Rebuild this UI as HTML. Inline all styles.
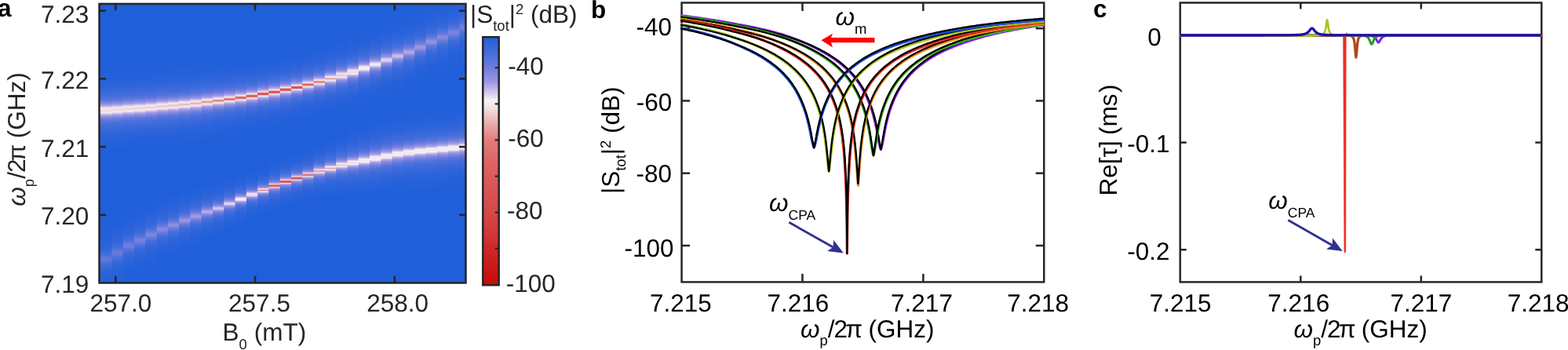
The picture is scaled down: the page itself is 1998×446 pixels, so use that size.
<!DOCTYPE html>
<html><head><meta charset="utf-8"><title>figure</title>
<style>html,body{margin:0;padding:0;background:#fff}svg{display:block}text{text-rendering:geometricPrecision;font-family:"Liberation Sans",sans-serif;white-space:pre}</style>
</head><body>
<svg width="1998" height="446" viewBox="0 0 1998 446">
<defs><linearGradient id="g0" x1="0" y1="0" x2="0" y2="1"><stop offset="0.0000" stop-color="#205fda"/><stop offset="0.2272" stop-color="#205fda"/><stop offset="0.2694" stop-color="#2661da"/><stop offset="0.2975" stop-color="#2d64da"/><stop offset="0.3200" stop-color="#3c6adb"/><stop offset="0.3355" stop-color="#4a6fdb"/><stop offset="0.3481" stop-color="#6379dc"/><stop offset="0.3580" stop-color="#898ce0"/><stop offset="0.3639" stop-color="#a8a1e5"/><stop offset="0.3675" stop-color="#c0b9ea"/><stop offset="0.3709" stop-color="#dcd5f0"/><stop offset="0.3743" stop-color="#f6edf1"/><stop offset="0.3765" stop-color="#f5e4e7"/><stop offset="0.3785" stop-color="#f4dfe1"/><stop offset="0.3802" stop-color="#f3dcde"/><stop offset="0.3819" stop-color="#f3dadc"/><stop offset="0.3836" stop-color="#f3dcde"/><stop offset="0.3853" stop-color="#f4dfe1"/><stop offset="0.3872" stop-color="#f5e4e7"/><stop offset="0.3895" stop-color="#f6edf1"/><stop offset="0.3929" stop-color="#dcd5f0"/><stop offset="0.3962" stop-color="#c0b9ea"/><stop offset="0.3999" stop-color="#a8a1e5"/><stop offset="0.4058" stop-color="#898ce0"/><stop offset="0.4156" stop-color="#6379dc"/><stop offset="0.4283" stop-color="#4a6fdb"/><stop offset="0.4438" stop-color="#3c6adb"/><stop offset="0.4663" stop-color="#2d64da"/><stop offset="0.4944" stop-color="#2661da"/><stop offset="0.5366" stop-color="#205fda"/><stop offset="0.7610" stop-color="#205fda"/><stop offset="0.8031" stop-color="#2160da"/><stop offset="0.8313" stop-color="#2460da"/><stop offset="0.8538" stop-color="#2862da"/><stop offset="0.8692" stop-color="#2d64da"/><stop offset="0.8819" stop-color="#3467db"/><stop offset="0.8917" stop-color="#3d6bdb"/><stop offset="0.8976" stop-color="#456edb"/><stop offset="0.9013" stop-color="#4a70db"/><stop offset="0.9047" stop-color="#5072dc"/><stop offset="0.9080" stop-color="#5875dc"/><stop offset="0.9103" stop-color="#5d77dc"/><stop offset="0.9123" stop-color="#6078dc"/><stop offset="0.9139" stop-color="#6178dc"/><stop offset="0.9156" stop-color="#6278dc"/><stop offset="0.9173" stop-color="#6178dc"/><stop offset="0.9190" stop-color="#6078dc"/><stop offset="0.9210" stop-color="#5d77dc"/><stop offset="0.9232" stop-color="#5875dc"/><stop offset="0.9266" stop-color="#5072dc"/><stop offset="0.9300" stop-color="#4a70db"/><stop offset="0.9336" stop-color="#456edb"/><stop offset="0.9395" stop-color="#3d6bdb"/><stop offset="0.9494" stop-color="#3467db"/><stop offset="0.9620" stop-color="#2d64da"/><stop offset="0.9775" stop-color="#2862da"/><stop offset="1.0000" stop-color="#2460da"/></linearGradient><linearGradient id="g1" x1="0" y1="0" x2="0" y2="1"><stop offset="0.0000" stop-color="#205fda"/><stop offset="0.2250" stop-color="#205fda"/><stop offset="0.2672" stop-color="#2661da"/><stop offset="0.2953" stop-color="#2d64da"/><stop offset="0.3178" stop-color="#3c6adb"/><stop offset="0.3332" stop-color="#4a6fdb"/><stop offset="0.3459" stop-color="#6279dc"/><stop offset="0.3557" stop-color="#898ce0"/><stop offset="0.3616" stop-color="#a7a1e5"/><stop offset="0.3653" stop-color="#c0b9ea"/><stop offset="0.3687" stop-color="#dcd5f0"/><stop offset="0.3720" stop-color="#f6edf1"/><stop offset="0.3743" stop-color="#f5e4e6"/><stop offset="0.3763" stop-color="#f3dddf"/><stop offset="0.3780" stop-color="#f3d9db"/><stop offset="0.3796" stop-color="#f2d7d8"/><stop offset="0.3813" stop-color="#f3d9db"/><stop offset="0.3830" stop-color="#f3dddf"/><stop offset="0.3850" stop-color="#f5e4e6"/><stop offset="0.3872" stop-color="#f6edf1"/><stop offset="0.3906" stop-color="#dcd5f0"/><stop offset="0.3940" stop-color="#c0b9ea"/><stop offset="0.3976" stop-color="#a7a1e5"/><stop offset="0.4035" stop-color="#898ce0"/><stop offset="0.4134" stop-color="#6279dc"/><stop offset="0.4260" stop-color="#4a6fdb"/><stop offset="0.4415" stop-color="#3c6adb"/><stop offset="0.4640" stop-color="#2d64da"/><stop offset="0.4921" stop-color="#2661da"/><stop offset="0.5343" stop-color="#205fda"/><stop offset="0.7373" stop-color="#205fda"/><stop offset="0.7795" stop-color="#2160da"/><stop offset="0.8076" stop-color="#2461da"/><stop offset="0.8301" stop-color="#2962da"/><stop offset="0.8456" stop-color="#2e65da"/><stop offset="0.8583" stop-color="#3567db"/><stop offset="0.8681" stop-color="#406bdb"/><stop offset="0.8740" stop-color="#486fdb"/><stop offset="0.8777" stop-color="#4e71db"/><stop offset="0.8810" stop-color="#5574dc"/><stop offset="0.8844" stop-color="#5d77dc"/><stop offset="0.8867" stop-color="#6379dc"/><stop offset="0.8886" stop-color="#667add"/><stop offset="0.8903" stop-color="#677add"/><stop offset="0.8920" stop-color="#687bdd"/><stop offset="0.8937" stop-color="#677add"/><stop offset="0.8954" stop-color="#667add"/><stop offset="0.8974" stop-color="#6379dc"/><stop offset="0.8996" stop-color="#5d77dc"/><stop offset="0.9030" stop-color="#5574dc"/><stop offset="0.9064" stop-color="#4e71db"/><stop offset="0.9100" stop-color="#486fdb"/><stop offset="0.9159" stop-color="#406bdb"/><stop offset="0.9258" stop-color="#3567db"/><stop offset="0.9384" stop-color="#2e65da"/><stop offset="0.9539" stop-color="#2962da"/><stop offset="0.9764" stop-color="#2461da"/><stop offset="1.0000" stop-color="#2260da"/></linearGradient><linearGradient id="g2" x1="0" y1="0" x2="0" y2="1"><stop offset="0.0000" stop-color="#205fda"/><stop offset="0.2219" stop-color="#205fda"/><stop offset="0.2641" stop-color="#2561da"/><stop offset="0.2922" stop-color="#2d64da"/><stop offset="0.3147" stop-color="#3b6adb"/><stop offset="0.3301" stop-color="#496fdb"/><stop offset="0.3428" stop-color="#6278dc"/><stop offset="0.3526" stop-color="#888ce0"/><stop offset="0.3585" stop-color="#a6a0e5"/><stop offset="0.3622" stop-color="#c0b8ea"/><stop offset="0.3656" stop-color="#dbd4f0"/><stop offset="0.3690" stop-color="#f6edf1"/><stop offset="0.3712" stop-color="#f4e4e6"/><stop offset="0.3732" stop-color="#f3dbdd"/><stop offset="0.3749" stop-color="#f2d7d8"/><stop offset="0.3765" stop-color="#f2d3d4"/><stop offset="0.3782" stop-color="#f2d7d8"/><stop offset="0.3799" stop-color="#f3dbdd"/><stop offset="0.3819" stop-color="#f4e4e6"/><stop offset="0.3841" stop-color="#f6edf1"/><stop offset="0.3875" stop-color="#dbd4f0"/><stop offset="0.3909" stop-color="#c0b8ea"/><stop offset="0.3945" stop-color="#a6a0e5"/><stop offset="0.4004" stop-color="#888ce0"/><stop offset="0.4103" stop-color="#6278dc"/><stop offset="0.4229" stop-color="#496fdb"/><stop offset="0.4384" stop-color="#3b6adb"/><stop offset="0.4609" stop-color="#2d64da"/><stop offset="0.4890" stop-color="#2561da"/><stop offset="0.5312" stop-color="#205fda"/><stop offset="0.7123" stop-color="#205fda"/><stop offset="0.7545" stop-color="#2160da"/><stop offset="0.7826" stop-color="#2461da"/><stop offset="0.8051" stop-color="#2963da"/><stop offset="0.8206" stop-color="#2f65da"/><stop offset="0.8332" stop-color="#3768db"/><stop offset="0.8431" stop-color="#426cdb"/><stop offset="0.8490" stop-color="#4b70db"/><stop offset="0.8526" stop-color="#5273dc"/><stop offset="0.8560" stop-color="#5975dc"/><stop offset="0.8594" stop-color="#6379dc"/><stop offset="0.8616" stop-color="#697bdd"/><stop offset="0.8636" stop-color="#6c7cdd"/><stop offset="0.8653" stop-color="#6d7ddd"/><stop offset="0.8670" stop-color="#6f7ddd"/><stop offset="0.8687" stop-color="#6d7ddd"/><stop offset="0.8704" stop-color="#6c7cdd"/><stop offset="0.8723" stop-color="#697bdd"/><stop offset="0.8746" stop-color="#6379dc"/><stop offset="0.8780" stop-color="#5975dc"/><stop offset="0.8813" stop-color="#5273dc"/><stop offset="0.8850" stop-color="#4b70db"/><stop offset="0.8909" stop-color="#426cdb"/><stop offset="0.9007" stop-color="#3768db"/><stop offset="0.9134" stop-color="#2f65da"/><stop offset="0.9289" stop-color="#2963da"/><stop offset="0.9513" stop-color="#2461da"/><stop offset="0.9795" stop-color="#2160da"/><stop offset="1.0000" stop-color="#205fda"/></linearGradient><linearGradient id="g3" x1="0" y1="0" x2="0" y2="1"><stop offset="0.0000" stop-color="#205fda"/><stop offset="0.2196" stop-color="#205fda"/><stop offset="0.2618" stop-color="#2561da"/><stop offset="0.2899" stop-color="#2d64da"/><stop offset="0.3124" stop-color="#3b6adb"/><stop offset="0.3279" stop-color="#496fdb"/><stop offset="0.3406" stop-color="#6278dc"/><stop offset="0.3504" stop-color="#888ce0"/><stop offset="0.3563" stop-color="#a69fe5"/><stop offset="0.3600" stop-color="#bfb8ea"/><stop offset="0.3633" stop-color="#dbd4f0"/><stop offset="0.3667" stop-color="#f6edf1"/><stop offset="0.3690" stop-color="#f4e3e6"/><stop offset="0.3709" stop-color="#f3dadb"/><stop offset="0.3726" stop-color="#f2d4d5"/><stop offset="0.3743" stop-color="#f1d0d0"/><stop offset="0.3760" stop-color="#f2d4d5"/><stop offset="0.3777" stop-color="#f3dadb"/><stop offset="0.3796" stop-color="#f4e3e6"/><stop offset="0.3819" stop-color="#f6edf1"/><stop offset="0.3853" stop-color="#dbd4f0"/><stop offset="0.3886" stop-color="#bfb8ea"/><stop offset="0.3923" stop-color="#a69fe5"/><stop offset="0.3982" stop-color="#888ce0"/><stop offset="0.4080" stop-color="#6278dc"/><stop offset="0.4207" stop-color="#496fdb"/><stop offset="0.4362" stop-color="#3b6adb"/><stop offset="0.4587" stop-color="#2d64da"/><stop offset="0.4868" stop-color="#2561da"/><stop offset="0.5290" stop-color="#205fda"/><stop offset="0.6929" stop-color="#205fda"/><stop offset="0.7351" stop-color="#2160da"/><stop offset="0.7632" stop-color="#2461da"/><stop offset="0.7857" stop-color="#2a63da"/><stop offset="0.8012" stop-color="#3065da"/><stop offset="0.8138" stop-color="#3868db"/><stop offset="0.8237" stop-color="#446ddb"/><stop offset="0.8296" stop-color="#4f71db"/><stop offset="0.8332" stop-color="#5674dc"/><stop offset="0.8366" stop-color="#5e77dc"/><stop offset="0.8400" stop-color="#687bdd"/><stop offset="0.8422" stop-color="#6e7ddd"/><stop offset="0.8442" stop-color="#7380de"/><stop offset="0.8459" stop-color="#7581de"/><stop offset="0.8476" stop-color="#7682de"/><stop offset="0.8493" stop-color="#7581de"/><stop offset="0.8510" stop-color="#7380de"/><stop offset="0.8529" stop-color="#6e7ddd"/><stop offset="0.8552" stop-color="#687bdd"/><stop offset="0.8585" stop-color="#5e77dc"/><stop offset="0.8619" stop-color="#5674dc"/><stop offset="0.8656" stop-color="#4f71db"/><stop offset="0.8715" stop-color="#446ddb"/><stop offset="0.8813" stop-color="#3868db"/><stop offset="0.8940" stop-color="#3065da"/><stop offset="0.9094" stop-color="#2a63da"/><stop offset="0.9319" stop-color="#2461da"/><stop offset="0.9601" stop-color="#2160da"/><stop offset="1.0000" stop-color="#205fda"/></linearGradient><linearGradient id="g4" x1="0" y1="0" x2="0" y2="1"><stop offset="0.0000" stop-color="#205fda"/><stop offset="0.2165" stop-color="#205fda"/><stop offset="0.2587" stop-color="#2561da"/><stop offset="0.2868" stop-color="#2d64da"/><stop offset="0.3093" stop-color="#3b6adb"/><stop offset="0.3248" stop-color="#496fdb"/><stop offset="0.3375" stop-color="#6178dc"/><stop offset="0.3473" stop-color="#878be0"/><stop offset="0.3532" stop-color="#a59fe4"/><stop offset="0.3569" stop-color="#beb7ea"/><stop offset="0.3602" stop-color="#dbd3f0"/><stop offset="0.3636" stop-color="#f6edf1"/><stop offset="0.3659" stop-color="#f4e3e5"/><stop offset="0.3678" stop-color="#f2d8da"/><stop offset="0.3695" stop-color="#f1d1d2"/><stop offset="0.3712" stop-color="#f0cccd"/><stop offset="0.3729" stop-color="#f1d1d2"/><stop offset="0.3746" stop-color="#f2d8da"/><stop offset="0.3765" stop-color="#f4e3e5"/><stop offset="0.3788" stop-color="#f6edf1"/><stop offset="0.3822" stop-color="#dbd3f0"/><stop offset="0.3855" stop-color="#beb7ea"/><stop offset="0.3892" stop-color="#a59fe4"/><stop offset="0.3951" stop-color="#878be0"/><stop offset="0.4049" stop-color="#6178dc"/><stop offset="0.4176" stop-color="#496fdb"/><stop offset="0.4331" stop-color="#3b6adb"/><stop offset="0.4556" stop-color="#2d64da"/><stop offset="0.4837" stop-color="#2561da"/><stop offset="0.5259" stop-color="#205fda"/><stop offset="0.6727" stop-color="#205fda"/><stop offset="0.7148" stop-color="#2160da"/><stop offset="0.7430" stop-color="#2461da"/><stop offset="0.7655" stop-color="#2a63da"/><stop offset="0.7809" stop-color="#3166da"/><stop offset="0.7936" stop-color="#3969db"/><stop offset="0.8034" stop-color="#456edb"/><stop offset="0.8093" stop-color="#5272dc"/><stop offset="0.8130" stop-color="#5a75dc"/><stop offset="0.8164" stop-color="#6278dc"/><stop offset="0.8197" stop-color="#6d7ddd"/><stop offset="0.8220" stop-color="#7581de"/><stop offset="0.8240" stop-color="#7a84df"/><stop offset="0.8256" stop-color="#7c85df"/><stop offset="0.8273" stop-color="#7e86df"/><stop offset="0.8290" stop-color="#7c85df"/><stop offset="0.8307" stop-color="#7a84df"/><stop offset="0.8327" stop-color="#7581de"/><stop offset="0.8349" stop-color="#6d7ddd"/><stop offset="0.8383" stop-color="#6278dc"/><stop offset="0.8417" stop-color="#5a75dc"/><stop offset="0.8453" stop-color="#5272dc"/><stop offset="0.8512" stop-color="#456edb"/><stop offset="0.8611" stop-color="#3969db"/><stop offset="0.8737" stop-color="#3166da"/><stop offset="0.8892" stop-color="#2a63da"/><stop offset="0.9117" stop-color="#2461da"/><stop offset="0.9398" stop-color="#2160da"/><stop offset="0.9820" stop-color="#205fda"/><stop offset="1.0000" stop-color="#205fda"/></linearGradient><linearGradient id="g5" x1="0" y1="0" x2="0" y2="1"><stop offset="0.0000" stop-color="#205fda"/><stop offset="0.2129" stop-color="#205fda"/><stop offset="0.2551" stop-color="#2561da"/><stop offset="0.2832" stop-color="#2d64da"/><stop offset="0.3057" stop-color="#3b6adb"/><stop offset="0.3211" stop-color="#496fdb"/><stop offset="0.3338" stop-color="#6178dc"/><stop offset="0.3436" stop-color="#878be0"/><stop offset="0.3496" stop-color="#a49ee4"/><stop offset="0.3532" stop-color="#beb7ea"/><stop offset="0.3566" stop-color="#dad3f0"/><stop offset="0.3600" stop-color="#f6edf2"/><stop offset="0.3622" stop-color="#f4e3e5"/><stop offset="0.3642" stop-color="#f2d7d8"/><stop offset="0.3659" stop-color="#f1cecf"/><stop offset="0.3675" stop-color="#f0c8c9"/><stop offset="0.3692" stop-color="#f1cecf"/><stop offset="0.3709" stop-color="#f2d7d8"/><stop offset="0.3729" stop-color="#f4e3e5"/><stop offset="0.3751" stop-color="#f6edf2"/><stop offset="0.3785" stop-color="#dad3f0"/><stop offset="0.3819" stop-color="#beb7ea"/><stop offset="0.3855" stop-color="#a49ee4"/><stop offset="0.3915" stop-color="#878be0"/><stop offset="0.4013" stop-color="#6178dc"/><stop offset="0.4139" stop-color="#496fdb"/><stop offset="0.4294" stop-color="#3b6adb"/><stop offset="0.4519" stop-color="#2d64da"/><stop offset="0.4800" stop-color="#2561da"/><stop offset="0.5222" stop-color="#205fda"/><stop offset="0.6533" stop-color="#205fda"/><stop offset="0.6954" stop-color="#215fda"/><stop offset="0.7236" stop-color="#2461da"/><stop offset="0.7461" stop-color="#2a63da"/><stop offset="0.7615" stop-color="#3166da"/><stop offset="0.7742" stop-color="#3a69db"/><stop offset="0.7840" stop-color="#476fdb"/><stop offset="0.7899" stop-color="#5574dc"/><stop offset="0.7936" stop-color="#5e77dc"/><stop offset="0.7970" stop-color="#677add"/><stop offset="0.8003" stop-color="#7380de"/><stop offset="0.8026" stop-color="#7d86df"/><stop offset="0.8046" stop-color="#8389e0"/><stop offset="0.8062" stop-color="#858ae0"/><stop offset="0.8079" stop-color="#878be0"/><stop offset="0.8096" stop-color="#858ae0"/><stop offset="0.8113" stop-color="#8389e0"/><stop offset="0.8133" stop-color="#7d86df"/><stop offset="0.8155" stop-color="#7380de"/><stop offset="0.8189" stop-color="#677add"/><stop offset="0.8223" stop-color="#5e77dc"/><stop offset="0.8259" stop-color="#5574dc"/><stop offset="0.8318" stop-color="#476fdb"/><stop offset="0.8417" stop-color="#3a69db"/><stop offset="0.8543" stop-color="#3166da"/><stop offset="0.8698" stop-color="#2a63da"/><stop offset="0.8923" stop-color="#2461da"/><stop offset="0.9204" stop-color="#215fda"/><stop offset="0.9626" stop-color="#205fda"/><stop offset="1.0000" stop-color="#205fda"/></linearGradient><linearGradient id="g6" x1="0" y1="0" x2="0" y2="1"><stop offset="0.0000" stop-color="#205fda"/><stop offset="0.2098" stop-color="#205fda"/><stop offset="0.2520" stop-color="#2561da"/><stop offset="0.2801" stop-color="#2d64da"/><stop offset="0.3026" stop-color="#3b69db"/><stop offset="0.3181" stop-color="#486fdb"/><stop offset="0.3307" stop-color="#6078dc"/><stop offset="0.3406" stop-color="#868be0"/><stop offset="0.3465" stop-color="#a49ee4"/><stop offset="0.3501" stop-color="#bdb6e9"/><stop offset="0.3535" stop-color="#dad2ef"/><stop offset="0.3569" stop-color="#f6edf2"/><stop offset="0.3591" stop-color="#f4e2e4"/><stop offset="0.3611" stop-color="#f1d2d3"/><stop offset="0.3628" stop-color="#efc6c6"/><stop offset="0.3645" stop-color="#eebfbf"/><stop offset="0.3661" stop-color="#efc6c6"/><stop offset="0.3678" stop-color="#f1d2d3"/><stop offset="0.3698" stop-color="#f4e2e4"/><stop offset="0.3720" stop-color="#f6edf2"/><stop offset="0.3754" stop-color="#dad2ef"/><stop offset="0.3788" stop-color="#bdb6e9"/><stop offset="0.3825" stop-color="#a49ee4"/><stop offset="0.3884" stop-color="#868be0"/><stop offset="0.3982" stop-color="#6078dc"/><stop offset="0.4109" stop-color="#486fdb"/><stop offset="0.4263" stop-color="#3b69db"/><stop offset="0.4488" stop-color="#2d64da"/><stop offset="0.4769" stop-color="#2561da"/><stop offset="0.5191" stop-color="#205fda"/><stop offset="0.6386" stop-color="#205fda"/><stop offset="0.6808" stop-color="#215fda"/><stop offset="0.7089" stop-color="#2461da"/><stop offset="0.7314" stop-color="#2a63da"/><stop offset="0.7469" stop-color="#3266da"/><stop offset="0.7596" stop-color="#3b6adb"/><stop offset="0.7694" stop-color="#496fdb"/><stop offset="0.7753" stop-color="#5875dc"/><stop offset="0.7790" stop-color="#6279dc"/><stop offset="0.7823" stop-color="#6b7cdd"/><stop offset="0.7857" stop-color="#7a84de"/><stop offset="0.7880" stop-color="#858ae0"/><stop offset="0.7899" stop-color="#8b8de1"/><stop offset="0.7916" stop-color="#8e8fe1"/><stop offset="0.7933" stop-color="#9090e1"/><stop offset="0.7950" stop-color="#8e8fe1"/><stop offset="0.7967" stop-color="#8b8de1"/><stop offset="0.7987" stop-color="#858ae0"/><stop offset="0.8009" stop-color="#7a84de"/><stop offset="0.8043" stop-color="#6b7cdd"/><stop offset="0.8076" stop-color="#6279dc"/><stop offset="0.8113" stop-color="#5875dc"/><stop offset="0.8172" stop-color="#496fdb"/><stop offset="0.8271" stop-color="#3b6adb"/><stop offset="0.8397" stop-color="#3266da"/><stop offset="0.8552" stop-color="#2a63da"/><stop offset="0.8777" stop-color="#2461da"/><stop offset="0.9058" stop-color="#215fda"/><stop offset="0.9480" stop-color="#205fda"/><stop offset="1.0000" stop-color="#205fda"/></linearGradient><linearGradient id="g7" x1="0" y1="0" x2="0" y2="1"><stop offset="0.0000" stop-color="#205fda"/><stop offset="0.2061" stop-color="#205fda"/><stop offset="0.2483" stop-color="#2561da"/><stop offset="0.2764" stop-color="#2d64da"/><stop offset="0.2989" stop-color="#3a69db"/><stop offset="0.3144" stop-color="#486fdb"/><stop offset="0.3271" stop-color="#6078dc"/><stop offset="0.3369" stop-color="#868ae0"/><stop offset="0.3428" stop-color="#a39de4"/><stop offset="0.3465" stop-color="#bdb6e9"/><stop offset="0.3498" stop-color="#d9d2ef"/><stop offset="0.3532" stop-color="#f6edf2"/><stop offset="0.3555" stop-color="#f4e0e2"/><stop offset="0.3574" stop-color="#f1cdce"/><stop offset="0.3591" stop-color="#eebebe"/><stop offset="0.3608" stop-color="#ecb5b5"/><stop offset="0.3625" stop-color="#eebebe"/><stop offset="0.3642" stop-color="#f1cdce"/><stop offset="0.3661" stop-color="#f4e0e2"/><stop offset="0.3684" stop-color="#f6edf2"/><stop offset="0.3718" stop-color="#d9d2ef"/><stop offset="0.3751" stop-color="#bdb6e9"/><stop offset="0.3788" stop-color="#a39de4"/><stop offset="0.3847" stop-color="#868ae0"/><stop offset="0.3945" stop-color="#6078dc"/><stop offset="0.4072" stop-color="#486fdb"/><stop offset="0.4227" stop-color="#3a69db"/><stop offset="0.4452" stop-color="#2d64da"/><stop offset="0.4733" stop-color="#2561da"/><stop offset="0.5155" stop-color="#205fda"/><stop offset="0.6215" stop-color="#205fda"/><stop offset="0.6637" stop-color="#215fda"/><stop offset="0.6918" stop-color="#2461da"/><stop offset="0.7143" stop-color="#2a63da"/><stop offset="0.7298" stop-color="#3266da"/><stop offset="0.7424" stop-color="#3c6adb"/><stop offset="0.7522" stop-color="#4b70db"/><stop offset="0.7582" stop-color="#5b76dc"/><stop offset="0.7618" stop-color="#667add"/><stop offset="0.7652" stop-color="#707edd"/><stop offset="0.7686" stop-color="#8087df"/><stop offset="0.7708" stop-color="#8d8ee1"/><stop offset="0.7728" stop-color="#9492e2"/><stop offset="0.7745" stop-color="#9794e2"/><stop offset="0.7762" stop-color="#9995e2"/><stop offset="0.7778" stop-color="#9794e2"/><stop offset="0.7795" stop-color="#9492e2"/><stop offset="0.7815" stop-color="#8d8ee1"/><stop offset="0.7837" stop-color="#8087df"/><stop offset="0.7871" stop-color="#707edd"/><stop offset="0.7905" stop-color="#667add"/><stop offset="0.7942" stop-color="#5b76dc"/><stop offset="0.8001" stop-color="#4b70db"/><stop offset="0.8099" stop-color="#3c6adb"/><stop offset="0.8226" stop-color="#3266da"/><stop offset="0.8380" stop-color="#2a63da"/><stop offset="0.8605" stop-color="#2461da"/><stop offset="0.8886" stop-color="#215fda"/><stop offset="0.9308" stop-color="#205fda"/><stop offset="1.0000" stop-color="#205fda"/></linearGradient><linearGradient id="g8" x1="0" y1="0" x2="0" y2="1"><stop offset="0.0000" stop-color="#205fda"/><stop offset="0.2022" stop-color="#205fda"/><stop offset="0.2444" stop-color="#2561da"/><stop offset="0.2725" stop-color="#2c64da"/><stop offset="0.2950" stop-color="#3a69db"/><stop offset="0.3105" stop-color="#486fdb"/><stop offset="0.3231" stop-color="#6078dc"/><stop offset="0.3330" stop-color="#858ae0"/><stop offset="0.3389" stop-color="#a29ce4"/><stop offset="0.3425" stop-color="#bcb5e9"/><stop offset="0.3459" stop-color="#d9d1ef"/><stop offset="0.3493" stop-color="#f6edf2"/><stop offset="0.3515" stop-color="#f4dfe1"/><stop offset="0.3535" stop-color="#f0c8c9"/><stop offset="0.3552" stop-color="#edb5b5"/><stop offset="0.3569" stop-color="#ebabab"/><stop offset="0.3585" stop-color="#edb5b5"/><stop offset="0.3602" stop-color="#f0c8c9"/><stop offset="0.3622" stop-color="#f4dfe1"/><stop offset="0.3645" stop-color="#f6edf2"/><stop offset="0.3678" stop-color="#d9d1ef"/><stop offset="0.3712" stop-color="#bcb5e9"/><stop offset="0.3749" stop-color="#a29ce4"/><stop offset="0.3808" stop-color="#858ae0"/><stop offset="0.3906" stop-color="#6078dc"/><stop offset="0.4033" stop-color="#486fdb"/><stop offset="0.4187" stop-color="#3a69db"/><stop offset="0.4412" stop-color="#2c64da"/><stop offset="0.4693" stop-color="#2561da"/><stop offset="0.5115" stop-color="#205fda"/><stop offset="0.6069" stop-color="#205fda"/><stop offset="0.6490" stop-color="#215fda"/><stop offset="0.6772" stop-color="#2461da"/><stop offset="0.6997" stop-color="#2a63da"/><stop offset="0.7151" stop-color="#3266da"/><stop offset="0.7278" stop-color="#3c6adb"/><stop offset="0.7376" stop-color="#4c70db"/><stop offset="0.7435" stop-color="#5e77dc"/><stop offset="0.7472" stop-color="#6a7bdd"/><stop offset="0.7506" stop-color="#7681de"/><stop offset="0.7539" stop-color="#878be0"/><stop offset="0.7562" stop-color="#9493e2"/><stop offset="0.7582" stop-color="#9c97e3"/><stop offset="0.7598" stop-color="#a09ae3"/><stop offset="0.7615" stop-color="#a39de4"/><stop offset="0.7632" stop-color="#a09ae3"/><stop offset="0.7649" stop-color="#9c97e3"/><stop offset="0.7669" stop-color="#9493e2"/><stop offset="0.7691" stop-color="#878be0"/><stop offset="0.7725" stop-color="#7681de"/><stop offset="0.7759" stop-color="#6a7bdd"/><stop offset="0.7795" stop-color="#5e77dc"/><stop offset="0.7854" stop-color="#4c70db"/><stop offset="0.7953" stop-color="#3c6adb"/><stop offset="0.8079" stop-color="#3266da"/><stop offset="0.8234" stop-color="#2a63da"/><stop offset="0.8459" stop-color="#2461da"/><stop offset="0.8740" stop-color="#215fda"/><stop offset="0.9162" stop-color="#205fda"/><stop offset="1.0000" stop-color="#205fda"/></linearGradient><linearGradient id="g9" x1="0" y1="0" x2="0" y2="1"><stop offset="0.0000" stop-color="#205fda"/><stop offset="0.1969" stop-color="#205fda"/><stop offset="0.2390" stop-color="#2561da"/><stop offset="0.2672" stop-color="#2c64da"/><stop offset="0.2897" stop-color="#3969db"/><stop offset="0.3051" stop-color="#476edb"/><stop offset="0.3178" stop-color="#5e77dc"/><stop offset="0.3276" stop-color="#8389e0"/><stop offset="0.3335" stop-color="#9f99e3"/><stop offset="0.3372" stop-color="#bab3e9"/><stop offset="0.3406" stop-color="#d6cfef"/><stop offset="0.3439" stop-color="#f6eef2"/><stop offset="0.3462" stop-color="#f3dbdc"/><stop offset="0.3481" stop-color="#edbbbb"/><stop offset="0.3498" stop-color="#e89d9d"/><stop offset="0.3515" stop-color="#e69090"/><stop offset="0.3532" stop-color="#e89d9d"/><stop offset="0.3549" stop-color="#edbbbb"/><stop offset="0.3569" stop-color="#f3dbdc"/><stop offset="0.3591" stop-color="#f6eef2"/><stop offset="0.3625" stop-color="#d6cfef"/><stop offset="0.3659" stop-color="#bab3e9"/><stop offset="0.3695" stop-color="#9f99e3"/><stop offset="0.3754" stop-color="#8389e0"/><stop offset="0.3853" stop-color="#5e77dc"/><stop offset="0.3979" stop-color="#476edb"/><stop offset="0.4134" stop-color="#3969db"/><stop offset="0.4359" stop-color="#2c64da"/><stop offset="0.4640" stop-color="#2561da"/><stop offset="0.5062" stop-color="#205fda"/><stop offset="0.5908" stop-color="#205fda"/><stop offset="0.6330" stop-color="#205fda"/><stop offset="0.6611" stop-color="#2360da"/><stop offset="0.6836" stop-color="#2963da"/><stop offset="0.6991" stop-color="#3266da"/><stop offset="0.7118" stop-color="#3c6adb"/><stop offset="0.7216" stop-color="#4d71db"/><stop offset="0.7275" stop-color="#6178dc"/><stop offset="0.7312" stop-color="#6e7ddd"/><stop offset="0.7345" stop-color="#7d86df"/><stop offset="0.7379" stop-color="#8f90e1"/><stop offset="0.7402" stop-color="#a19be4"/><stop offset="0.7421" stop-color="#afa8e6"/><stop offset="0.7438" stop-color="#b5aee8"/><stop offset="0.7455" stop-color="#b8b1e8"/><stop offset="0.7472" stop-color="#b5aee8"/><stop offset="0.7489" stop-color="#afa8e6"/><stop offset="0.7508" stop-color="#a19be4"/><stop offset="0.7531" stop-color="#8f90e1"/><stop offset="0.7565" stop-color="#7d86df"/><stop offset="0.7598" stop-color="#6e7ddd"/><stop offset="0.7635" stop-color="#6178dc"/><stop offset="0.7694" stop-color="#4d71db"/><stop offset="0.7792" stop-color="#3c6adb"/><stop offset="0.7919" stop-color="#3266da"/><stop offset="0.8074" stop-color="#2963da"/><stop offset="0.8299" stop-color="#2360da"/><stop offset="0.8580" stop-color="#205fda"/><stop offset="0.9002" stop-color="#205fda"/><stop offset="1.0000" stop-color="#205fda"/></linearGradient><linearGradient id="g10" x1="0" y1="0" x2="0" y2="1"><stop offset="0.0000" stop-color="#205fda"/><stop offset="0.1924" stop-color="#205fda"/><stop offset="0.2345" stop-color="#2461da"/><stop offset="0.2627" stop-color="#2b63da"/><stop offset="0.2852" stop-color="#3868db"/><stop offset="0.3006" stop-color="#456edb"/><stop offset="0.3133" stop-color="#5c76dc"/><stop offset="0.3231" stop-color="#8087df"/><stop offset="0.3290" stop-color="#9c97e3"/><stop offset="0.3327" stop-color="#b7b0e8"/><stop offset="0.3361" stop-color="#d4ccee"/><stop offset="0.3394" stop-color="#f6eff3"/><stop offset="0.3417" stop-color="#f2d7d8"/><stop offset="0.3436" stop-color="#ebadad"/><stop offset="0.3453" stop-color="#e48888"/><stop offset="0.3470" stop-color="#e27a7a"/><stop offset="0.3487" stop-color="#e48888"/><stop offset="0.3504" stop-color="#ebadad"/><stop offset="0.3524" stop-color="#f2d7d8"/><stop offset="0.3546" stop-color="#f6eff3"/><stop offset="0.3580" stop-color="#d4ccee"/><stop offset="0.3614" stop-color="#b7b0e8"/><stop offset="0.3650" stop-color="#9c97e3"/><stop offset="0.3709" stop-color="#8087df"/><stop offset="0.3808" stop-color="#5c76dc"/><stop offset="0.3934" stop-color="#456edb"/><stop offset="0.4089" stop-color="#3868db"/><stop offset="0.4314" stop-color="#2b63da"/><stop offset="0.4595" stop-color="#2461da"/><stop offset="0.5017" stop-color="#205fda"/><stop offset="0.5785" stop-color="#205fda"/><stop offset="0.6206" stop-color="#205fda"/><stop offset="0.6488" stop-color="#2360da"/><stop offset="0.6713" stop-color="#2962da"/><stop offset="0.6867" stop-color="#3266da"/><stop offset="0.6994" stop-color="#3d6adb"/><stop offset="0.7092" stop-color="#4e71db"/><stop offset="0.7151" stop-color="#6379dc"/><stop offset="0.7188" stop-color="#7380de"/><stop offset="0.7222" stop-color="#8489e0"/><stop offset="0.7255" stop-color="#9794e2"/><stop offset="0.7278" stop-color="#b0aae7"/><stop offset="0.7298" stop-color="#c2baea"/><stop offset="0.7314" stop-color="#c9c2ec"/><stop offset="0.7331" stop-color="#cdc6ed"/><stop offset="0.7348" stop-color="#c9c2ec"/><stop offset="0.7365" stop-color="#c2baea"/><stop offset="0.7385" stop-color="#b0aae7"/><stop offset="0.7407" stop-color="#9794e2"/><stop offset="0.7441" stop-color="#8489e0"/><stop offset="0.7475" stop-color="#7380de"/><stop offset="0.7511" stop-color="#6379dc"/><stop offset="0.7570" stop-color="#4e71db"/><stop offset="0.7669" stop-color="#3d6adb"/><stop offset="0.7795" stop-color="#3266da"/><stop offset="0.7950" stop-color="#2962da"/><stop offset="0.8175" stop-color="#2360da"/><stop offset="0.8456" stop-color="#205fda"/><stop offset="0.8878" stop-color="#205fda"/><stop offset="1.0000" stop-color="#205fda"/></linearGradient><linearGradient id="g11" x1="0" y1="0" x2="0" y2="1"><stop offset="0.0000" stop-color="#205fda"/><stop offset="0.1873" stop-color="#205fda"/><stop offset="0.2295" stop-color="#2460da"/><stop offset="0.2576" stop-color="#2a63da"/><stop offset="0.2801" stop-color="#3768db"/><stop offset="0.2956" stop-color="#446ddb"/><stop offset="0.3082" stop-color="#5a76dc"/><stop offset="0.3181" stop-color="#7d85df"/><stop offset="0.3240" stop-color="#9a96e3"/><stop offset="0.3276" stop-color="#b4ade8"/><stop offset="0.3310" stop-color="#d1c9ed"/><stop offset="0.3344" stop-color="#f6eff3"/><stop offset="0.3366" stop-color="#f1cfd0"/><stop offset="0.3386" stop-color="#e79595"/><stop offset="0.3403" stop-color="#e07272"/><stop offset="0.3420" stop-color="#de6868"/><stop offset="0.3436" stop-color="#e07272"/><stop offset="0.3453" stop-color="#e79595"/><stop offset="0.3473" stop-color="#f1cfd0"/><stop offset="0.3496" stop-color="#f6eff3"/><stop offset="0.3529" stop-color="#d1c9ed"/><stop offset="0.3563" stop-color="#b4ade8"/><stop offset="0.3600" stop-color="#9a96e3"/><stop offset="0.3659" stop-color="#7d85df"/><stop offset="0.3757" stop-color="#5a76dc"/><stop offset="0.3884" stop-color="#446ddb"/><stop offset="0.4038" stop-color="#3768db"/><stop offset="0.4263" stop-color="#2a63da"/><stop offset="0.4544" stop-color="#2460da"/><stop offset="0.4966" stop-color="#205fda"/><stop offset="0.5616" stop-color="#205fda"/><stop offset="0.6038" stop-color="#205fda"/><stop offset="0.6319" stop-color="#2260da"/><stop offset="0.6544" stop-color="#2862da"/><stop offset="0.6699" stop-color="#3166da"/><stop offset="0.6825" stop-color="#3d6adb"/><stop offset="0.6924" stop-color="#4f71db"/><stop offset="0.6983" stop-color="#6479dd"/><stop offset="0.7019" stop-color="#7682de"/><stop offset="0.7053" stop-color="#8a8de0"/><stop offset="0.7087" stop-color="#a09ae3"/><stop offset="0.7109" stop-color="#bfb7ea"/><stop offset="0.7129" stop-color="#d4ccee"/><stop offset="0.7146" stop-color="#ddd6f0"/><stop offset="0.7163" stop-color="#e2dbf2"/><stop offset="0.7179" stop-color="#ddd6f0"/><stop offset="0.7196" stop-color="#d4ccee"/><stop offset="0.7216" stop-color="#bfb7ea"/><stop offset="0.7238" stop-color="#a09ae3"/><stop offset="0.7272" stop-color="#8a8de0"/><stop offset="0.7306" stop-color="#7682de"/><stop offset="0.7343" stop-color="#6479dd"/><stop offset="0.7402" stop-color="#4f71db"/><stop offset="0.7500" stop-color="#3d6adb"/><stop offset="0.7627" stop-color="#3166da"/><stop offset="0.7781" stop-color="#2862da"/><stop offset="0.8006" stop-color="#2260da"/><stop offset="0.8287" stop-color="#205fda"/><stop offset="0.8709" stop-color="#205fda"/><stop offset="1.0000" stop-color="#205fda"/></linearGradient><linearGradient id="g12" x1="0" y1="0" x2="0" y2="1"><stop offset="0.0000" stop-color="#205fda"/><stop offset="0.1819" stop-color="#205fda"/><stop offset="0.2241" stop-color="#2360da"/><stop offset="0.2522" stop-color="#2a63da"/><stop offset="0.2747" stop-color="#3668db"/><stop offset="0.2902" stop-color="#436ddb"/><stop offset="0.3029" stop-color="#5875dc"/><stop offset="0.3127" stop-color="#7a84de"/><stop offset="0.3186" stop-color="#9794e2"/><stop offset="0.3223" stop-color="#b1aae7"/><stop offset="0.3256" stop-color="#cec7ed"/><stop offset="0.3290" stop-color="#f6eff4"/><stop offset="0.3313" stop-color="#f0c7c8"/><stop offset="0.3332" stop-color="#e27f7f"/><stop offset="0.3349" stop-color="#dd6464"/><stop offset="0.3366" stop-color="#db5d5d"/><stop offset="0.3383" stop-color="#dd6464"/><stop offset="0.3400" stop-color="#e27f7f"/><stop offset="0.3420" stop-color="#f0c7c8"/><stop offset="0.3442" stop-color="#f6eff4"/><stop offset="0.3476" stop-color="#cec7ed"/><stop offset="0.3510" stop-color="#b1aae7"/><stop offset="0.3546" stop-color="#9794e2"/><stop offset="0.3605" stop-color="#7a84de"/><stop offset="0.3704" stop-color="#5875dc"/><stop offset="0.3830" stop-color="#436ddb"/><stop offset="0.3985" stop-color="#3668db"/><stop offset="0.4210" stop-color="#2a63da"/><stop offset="0.4491" stop-color="#2360da"/><stop offset="0.4913" stop-color="#205fda"/><stop offset="0.5456" stop-color="#205fda"/><stop offset="0.5877" stop-color="#205fda"/><stop offset="0.6159" stop-color="#2260da"/><stop offset="0.6384" stop-color="#2762da"/><stop offset="0.6538" stop-color="#3065da"/><stop offset="0.6665" stop-color="#3e6bdb"/><stop offset="0.6763" stop-color="#5172dc"/><stop offset="0.6822" stop-color="#687bdd"/><stop offset="0.6859" stop-color="#7e86df"/><stop offset="0.6893" stop-color="#9593e2"/><stop offset="0.6926" stop-color="#b6afe8"/><stop offset="0.6949" stop-color="#d8d1ef"/><stop offset="0.6969" stop-color="#f3eef6"/><stop offset="0.6985" stop-color="#f6eef2"/><stop offset="0.7002" stop-color="#f6ebef"/><stop offset="0.7019" stop-color="#f6eef2"/><stop offset="0.7036" stop-color="#f3eef6"/><stop offset="0.7056" stop-color="#d8d1ef"/><stop offset="0.7078" stop-color="#b6afe8"/><stop offset="0.7112" stop-color="#9593e2"/><stop offset="0.7146" stop-color="#7e86df"/><stop offset="0.7182" stop-color="#687bdd"/><stop offset="0.7241" stop-color="#5172dc"/><stop offset="0.7340" stop-color="#3e6bdb"/><stop offset="0.7466" stop-color="#3065da"/><stop offset="0.7621" stop-color="#2762da"/><stop offset="0.7846" stop-color="#2260da"/><stop offset="0.8127" stop-color="#205fda"/><stop offset="0.8549" stop-color="#205fda"/><stop offset="1.0000" stop-color="#205fda"/></linearGradient><linearGradient id="g13" x1="0" y1="0" x2="0" y2="1"><stop offset="0.0000" stop-color="#205fda"/><stop offset="0.1758" stop-color="#205fda"/><stop offset="0.2179" stop-color="#2360da"/><stop offset="0.2461" stop-color="#2963da"/><stop offset="0.2686" stop-color="#3467db"/><stop offset="0.2840" stop-color="#426cdb"/><stop offset="0.2967" stop-color="#5674dc"/><stop offset="0.3065" stop-color="#7682de"/><stop offset="0.3124" stop-color="#9593e2"/><stop offset="0.3161" stop-color="#aea7e6"/><stop offset="0.3195" stop-color="#cbc4ec"/><stop offset="0.3228" stop-color="#f7eff4"/><stop offset="0.3251" stop-color="#eebfc0"/><stop offset="0.3271" stop-color="#e17575"/><stop offset="0.3287" stop-color="#db5c5c"/><stop offset="0.3304" stop-color="#d85454"/><stop offset="0.3321" stop-color="#db5c5c"/><stop offset="0.3338" stop-color="#e17575"/><stop offset="0.3358" stop-color="#eebfc0"/><stop offset="0.3380" stop-color="#f7eff4"/><stop offset="0.3414" stop-color="#cbc4ec"/><stop offset="0.3448" stop-color="#aea7e6"/><stop offset="0.3484" stop-color="#9593e2"/><stop offset="0.3543" stop-color="#7682de"/><stop offset="0.3642" stop-color="#5674dc"/><stop offset="0.3768" stop-color="#426cdb"/><stop offset="0.3923" stop-color="#3467db"/><stop offset="0.4148" stop-color="#2963da"/><stop offset="0.4429" stop-color="#2360da"/><stop offset="0.4851" stop-color="#205fda"/><stop offset="0.5287" stop-color="#205fda"/><stop offset="0.5709" stop-color="#205fda"/><stop offset="0.5990" stop-color="#205fda"/><stop offset="0.6215" stop-color="#2661da"/><stop offset="0.6370" stop-color="#2d64da"/><stop offset="0.6496" stop-color="#3b6adb"/><stop offset="0.6594" stop-color="#4c70db"/><stop offset="0.6654" stop-color="#6278dc"/><stop offset="0.6690" stop-color="#7883de"/><stop offset="0.6724" stop-color="#9191e1"/><stop offset="0.6758" stop-color="#b2ace7"/><stop offset="0.6780" stop-color="#dad3f0"/><stop offset="0.6800" stop-color="#f6ebef"/><stop offset="0.6817" stop-color="#f3dddf"/><stop offset="0.6834" stop-color="#f2d6d7"/><stop offset="0.6850" stop-color="#f3dddf"/><stop offset="0.6867" stop-color="#f6ebef"/><stop offset="0.6887" stop-color="#dad3f0"/><stop offset="0.6909" stop-color="#b2ace7"/><stop offset="0.6943" stop-color="#9191e1"/><stop offset="0.6977" stop-color="#7883de"/><stop offset="0.7013" stop-color="#6278dc"/><stop offset="0.7073" stop-color="#4c70db"/><stop offset="0.7171" stop-color="#3b6adb"/><stop offset="0.7298" stop-color="#2d64da"/><stop offset="0.7452" stop-color="#2661da"/><stop offset="0.7677" stop-color="#205fda"/><stop offset="0.7958" stop-color="#205fda"/><stop offset="0.8380" stop-color="#205fda"/><stop offset="1.0000" stop-color="#205fda"/></linearGradient><linearGradient id="g14" x1="0" y1="0" x2="0" y2="1"><stop offset="0.0000" stop-color="#205fda"/><stop offset="0.1682" stop-color="#205fda"/><stop offset="0.2103" stop-color="#2360da"/><stop offset="0.2385" stop-color="#2962da"/><stop offset="0.2610" stop-color="#3467db"/><stop offset="0.2764" stop-color="#416cdb"/><stop offset="0.2891" stop-color="#5574dc"/><stop offset="0.2989" stop-color="#7581de"/><stop offset="0.3048" stop-color="#9492e2"/><stop offset="0.3085" stop-color="#ada6e6"/><stop offset="0.3119" stop-color="#cac3ec"/><stop offset="0.3152" stop-color="#f6eff3"/><stop offset="0.3175" stop-color="#edb7b7"/><stop offset="0.3195" stop-color="#df6c6c"/><stop offset="0.3211" stop-color="#d85454"/><stop offset="0.3228" stop-color="#d54c4c"/><stop offset="0.3245" stop-color="#d85454"/><stop offset="0.3262" stop-color="#df6c6c"/><stop offset="0.3282" stop-color="#edb7b7"/><stop offset="0.3304" stop-color="#f6eff3"/><stop offset="0.3338" stop-color="#cac3ec"/><stop offset="0.3372" stop-color="#ada6e6"/><stop offset="0.3408" stop-color="#9492e2"/><stop offset="0.3467" stop-color="#7581de"/><stop offset="0.3566" stop-color="#5574dc"/><stop offset="0.3692" stop-color="#416cdb"/><stop offset="0.3847" stop-color="#3467db"/><stop offset="0.4072" stop-color="#2962da"/><stop offset="0.4353" stop-color="#2360da"/><stop offset="0.4775" stop-color="#205fda"/><stop offset="0.5138" stop-color="#205fda"/><stop offset="0.5560" stop-color="#205fda"/><stop offset="0.5841" stop-color="#215fda"/><stop offset="0.6066" stop-color="#2661da"/><stop offset="0.6220" stop-color="#2e65da"/><stop offset="0.6347" stop-color="#3c6adb"/><stop offset="0.6445" stop-color="#4e71db"/><stop offset="0.6504" stop-color="#6479dc"/><stop offset="0.6541" stop-color="#7b84df"/><stop offset="0.6575" stop-color="#9392e2"/><stop offset="0.6609" stop-color="#b9b2e8"/><stop offset="0.6631" stop-color="#efe9f5"/><stop offset="0.6651" stop-color="#f0cbcc"/><stop offset="0.6668" stop-color="#e9a1a1"/><stop offset="0.6684" stop-color="#e69090"/><stop offset="0.6701" stop-color="#e9a1a1"/><stop offset="0.6718" stop-color="#f0cbcc"/><stop offset="0.6738" stop-color="#efe9f5"/><stop offset="0.6760" stop-color="#b9b2e8"/><stop offset="0.6794" stop-color="#9392e2"/><stop offset="0.6828" stop-color="#7b84df"/><stop offset="0.6864" stop-color="#6479dc"/><stop offset="0.6924" stop-color="#4e71db"/><stop offset="0.7022" stop-color="#3c6adb"/><stop offset="0.7148" stop-color="#2e65da"/><stop offset="0.7303" stop-color="#2661da"/><stop offset="0.7528" stop-color="#215fda"/><stop offset="0.7809" stop-color="#205fda"/><stop offset="0.8231" stop-color="#205fda"/><stop offset="1.0000" stop-color="#205fda"/></linearGradient><linearGradient id="g15" x1="0" y1="0" x2="0" y2="1"><stop offset="0.0000" stop-color="#205fda"/><stop offset="0.1614" stop-color="#205fda"/><stop offset="0.2036" stop-color="#2260da"/><stop offset="0.2317" stop-color="#2862da"/><stop offset="0.2542" stop-color="#3367db"/><stop offset="0.2697" stop-color="#416cdb"/><stop offset="0.2823" stop-color="#5573dc"/><stop offset="0.2922" stop-color="#7480de"/><stop offset="0.2981" stop-color="#9392e2"/><stop offset="0.3017" stop-color="#aca5e6"/><stop offset="0.3051" stop-color="#c9c2ec"/><stop offset="0.3085" stop-color="#f7eff4"/><stop offset="0.3107" stop-color="#edb7b7"/><stop offset="0.3127" stop-color="#df6c6c"/><stop offset="0.3144" stop-color="#d85454"/><stop offset="0.3161" stop-color="#d54c4c"/><stop offset="0.3178" stop-color="#d85454"/><stop offset="0.3195" stop-color="#df6c6c"/><stop offset="0.3214" stop-color="#edb7b7"/><stop offset="0.3237" stop-color="#f7eff4"/><stop offset="0.3271" stop-color="#c9c2ec"/><stop offset="0.3304" stop-color="#aca5e6"/><stop offset="0.3341" stop-color="#9392e2"/><stop offset="0.3400" stop-color="#7480de"/><stop offset="0.3498" stop-color="#5573dc"/><stop offset="0.3625" stop-color="#416cdb"/><stop offset="0.3780" stop-color="#3367db"/><stop offset="0.4004" stop-color="#2862da"/><stop offset="0.4286" stop-color="#2260da"/><stop offset="0.4708" stop-color="#205fda"/><stop offset="0.4975" stop-color="#205fda"/><stop offset="0.5397" stop-color="#205fda"/><stop offset="0.5678" stop-color="#215fda"/><stop offset="0.5903" stop-color="#2762da"/><stop offset="0.6057" stop-color="#2f65da"/><stop offset="0.6184" stop-color="#3d6adb"/><stop offset="0.6282" stop-color="#5072db"/><stop offset="0.6341" stop-color="#667add"/><stop offset="0.6378" stop-color="#7d85df"/><stop offset="0.6412" stop-color="#9693e2"/><stop offset="0.6445" stop-color="#c3bceb"/><stop offset="0.6468" stop-color="#f4e0e2"/><stop offset="0.6488" stop-color="#e27e7e"/><stop offset="0.6504" stop-color="#dc5f5f"/><stop offset="0.6521" stop-color="#d95757"/><stop offset="0.6538" stop-color="#dc5f5f"/><stop offset="0.6555" stop-color="#e27e7e"/><stop offset="0.6575" stop-color="#f4e0e2"/><stop offset="0.6597" stop-color="#c3bceb"/><stop offset="0.6631" stop-color="#9693e2"/><stop offset="0.6665" stop-color="#7d85df"/><stop offset="0.6701" stop-color="#667add"/><stop offset="0.6760" stop-color="#5072db"/><stop offset="0.6859" stop-color="#3d6adb"/><stop offset="0.6985" stop-color="#2f65da"/><stop offset="0.7140" stop-color="#2762da"/><stop offset="0.7365" stop-color="#215fda"/><stop offset="0.7646" stop-color="#205fda"/><stop offset="0.8068" stop-color="#205fda"/><stop offset="1.0000" stop-color="#205fda"/></linearGradient><linearGradient id="g16" x1="0" y1="0" x2="0" y2="1"><stop offset="0.0000" stop-color="#205fda"/><stop offset="0.1530" stop-color="#205fda"/><stop offset="0.1952" stop-color="#2260da"/><stop offset="0.2233" stop-color="#2862da"/><stop offset="0.2458" stop-color="#3366da"/><stop offset="0.2612" stop-color="#406cdb"/><stop offset="0.2739" stop-color="#5473dc"/><stop offset="0.2837" stop-color="#7380de"/><stop offset="0.2897" stop-color="#9291e1"/><stop offset="0.2933" stop-color="#aba4e6"/><stop offset="0.2967" stop-color="#c8c1ec"/><stop offset="0.3001" stop-color="#f7f0f5"/><stop offset="0.3023" stop-color="#edb8b8"/><stop offset="0.3043" stop-color="#df6c6c"/><stop offset="0.3060" stop-color="#d85454"/><stop offset="0.3076" stop-color="#d54c4c"/><stop offset="0.3093" stop-color="#d85454"/><stop offset="0.3110" stop-color="#df6c6c"/><stop offset="0.3130" stop-color="#edb8b8"/><stop offset="0.3152" stop-color="#f7f0f5"/><stop offset="0.3186" stop-color="#c8c1ec"/><stop offset="0.3220" stop-color="#aba4e6"/><stop offset="0.3256" stop-color="#9291e1"/><stop offset="0.3316" stop-color="#7380de"/><stop offset="0.3414" stop-color="#5473dc"/><stop offset="0.3540" stop-color="#406cdb"/><stop offset="0.3695" stop-color="#3366da"/><stop offset="0.3920" stop-color="#2862da"/><stop offset="0.4201" stop-color="#2260da"/><stop offset="0.4623" stop-color="#205fda"/><stop offset="0.4826" stop-color="#205fda"/><stop offset="0.5247" stop-color="#205fda"/><stop offset="0.5529" stop-color="#2160da"/><stop offset="0.5754" stop-color="#2762da"/><stop offset="0.5908" stop-color="#3065da"/><stop offset="0.6035" stop-color="#3e6bdb"/><stop offset="0.6133" stop-color="#5172dc"/><stop offset="0.6192" stop-color="#687bdd"/><stop offset="0.6229" stop-color="#7f87df"/><stop offset="0.6263" stop-color="#9895e2"/><stop offset="0.6296" stop-color="#c9c1ec"/><stop offset="0.6319" stop-color="#f2d4d5"/><stop offset="0.6339" stop-color="#e07272"/><stop offset="0.6355" stop-color="#d95757"/><stop offset="0.6372" stop-color="#d64e4e"/><stop offset="0.6389" stop-color="#d95757"/><stop offset="0.6406" stop-color="#e07272"/><stop offset="0.6426" stop-color="#f2d4d5"/><stop offset="0.6448" stop-color="#c9c1ec"/><stop offset="0.6482" stop-color="#9895e2"/><stop offset="0.6516" stop-color="#7f87df"/><stop offset="0.6552" stop-color="#687bdd"/><stop offset="0.6611" stop-color="#5172dc"/><stop offset="0.6710" stop-color="#3e6bdb"/><stop offset="0.6836" stop-color="#3065da"/><stop offset="0.6991" stop-color="#2762da"/><stop offset="0.7216" stop-color="#2160da"/><stop offset="0.7497" stop-color="#205fda"/><stop offset="0.7919" stop-color="#205fda"/><stop offset="1.0000" stop-color="#205fda"/></linearGradient><linearGradient id="g17" x1="0" y1="0" x2="0" y2="1"><stop offset="0.0000" stop-color="#205fda"/><stop offset="0.1451" stop-color="#205fda"/><stop offset="0.1873" stop-color="#2260da"/><stop offset="0.2154" stop-color="#2862da"/><stop offset="0.2379" stop-color="#3266da"/><stop offset="0.2534" stop-color="#406bdb"/><stop offset="0.2660" stop-color="#5373dc"/><stop offset="0.2759" stop-color="#727fdd"/><stop offset="0.2818" stop-color="#9191e1"/><stop offset="0.2854" stop-color="#a9a3e5"/><stop offset="0.2888" stop-color="#c7c0eb"/><stop offset="0.2922" stop-color="#f7f0f5"/><stop offset="0.2944" stop-color="#edb8b8"/><stop offset="0.2964" stop-color="#df6c6c"/><stop offset="0.2981" stop-color="#d85454"/><stop offset="0.2998" stop-color="#d54c4c"/><stop offset="0.3015" stop-color="#d85454"/><stop offset="0.3031" stop-color="#df6c6c"/><stop offset="0.3051" stop-color="#edb8b8"/><stop offset="0.3074" stop-color="#f7f0f5"/><stop offset="0.3107" stop-color="#c7c0eb"/><stop offset="0.3141" stop-color="#a9a3e5"/><stop offset="0.3178" stop-color="#9191e1"/><stop offset="0.3237" stop-color="#727fdd"/><stop offset="0.3335" stop-color="#5373dc"/><stop offset="0.3462" stop-color="#406bdb"/><stop offset="0.3616" stop-color="#3266da"/><stop offset="0.3841" stop-color="#2862da"/><stop offset="0.4123" stop-color="#2260da"/><stop offset="0.4544" stop-color="#205fda"/><stop offset="0.4702" stop-color="#205fda"/><stop offset="0.5124" stop-color="#205fda"/><stop offset="0.5405" stop-color="#2260da"/><stop offset="0.5630" stop-color="#2762da"/><stop offset="0.5785" stop-color="#3065da"/><stop offset="0.5911" stop-color="#3e6bdb"/><stop offset="0.6010" stop-color="#5373dc"/><stop offset="0.6069" stop-color="#6a7cdd"/><stop offset="0.6105" stop-color="#8288df"/><stop offset="0.6139" stop-color="#9b96e3"/><stop offset="0.6173" stop-color="#cbc4ec"/><stop offset="0.6195" stop-color="#f2d7d9"/><stop offset="0.6215" stop-color="#e17878"/><stop offset="0.6232" stop-color="#db5b5b"/><stop offset="0.6249" stop-color="#d75353"/><stop offset="0.6265" stop-color="#db5b5b"/><stop offset="0.6282" stop-color="#e17878"/><stop offset="0.6302" stop-color="#f2d7d9"/><stop offset="0.6325" stop-color="#cbc4ec"/><stop offset="0.6358" stop-color="#9b96e3"/><stop offset="0.6392" stop-color="#8288df"/><stop offset="0.6429" stop-color="#6a7cdd"/><stop offset="0.6488" stop-color="#5373dc"/><stop offset="0.6586" stop-color="#3e6bdb"/><stop offset="0.6713" stop-color="#3065da"/><stop offset="0.6867" stop-color="#2762da"/><stop offset="0.7092" stop-color="#2260da"/><stop offset="0.7373" stop-color="#205fda"/><stop offset="0.7795" stop-color="#205fda"/><stop offset="1.0000" stop-color="#205fda"/></linearGradient><linearGradient id="g18" x1="0" y1="0" x2="0" y2="1"><stop offset="0.0000" stop-color="#205fda"/><stop offset="0.1350" stop-color="#205fda"/><stop offset="0.1772" stop-color="#2260da"/><stop offset="0.2053" stop-color="#2862da"/><stop offset="0.2278" stop-color="#3266da"/><stop offset="0.2433" stop-color="#3f6bdb"/><stop offset="0.2559" stop-color="#5273dc"/><stop offset="0.2657" stop-color="#707edd"/><stop offset="0.2717" stop-color="#9090e1"/><stop offset="0.2753" stop-color="#a8a2e5"/><stop offset="0.2787" stop-color="#c6beeb"/><stop offset="0.2821" stop-color="#f5eff6"/><stop offset="0.2843" stop-color="#f0cccc"/><stop offset="0.2863" stop-color="#e48585"/><stop offset="0.2880" stop-color="#de6767"/><stop offset="0.2897" stop-color="#dc5f5f"/><stop offset="0.2913" stop-color="#de6767"/><stop offset="0.2930" stop-color="#e48585"/><stop offset="0.2950" stop-color="#f0cccc"/><stop offset="0.2972" stop-color="#f5eff6"/><stop offset="0.3006" stop-color="#c6beeb"/><stop offset="0.3040" stop-color="#a8a2e5"/><stop offset="0.3076" stop-color="#9090e1"/><stop offset="0.3136" stop-color="#707edd"/><stop offset="0.3234" stop-color="#5273dc"/><stop offset="0.3361" stop-color="#3f6bdb"/><stop offset="0.3515" stop-color="#3266da"/><stop offset="0.3740" stop-color="#2862da"/><stop offset="0.4021" stop-color="#2260da"/><stop offset="0.4443" stop-color="#205fda"/><stop offset="0.4584" stop-color="#205fda"/><stop offset="0.5006" stop-color="#205fda"/><stop offset="0.5287" stop-color="#2260da"/><stop offset="0.5512" stop-color="#2862da"/><stop offset="0.5666" stop-color="#3166da"/><stop offset="0.5793" stop-color="#3f6bdb"/><stop offset="0.5891" stop-color="#5473dc"/><stop offset="0.5951" stop-color="#6c7cdd"/><stop offset="0.5987" stop-color="#8489e0"/><stop offset="0.6021" stop-color="#9d97e3"/><stop offset="0.6055" stop-color="#cac3ec"/><stop offset="0.6077" stop-color="#f5e6e9"/><stop offset="0.6097" stop-color="#e9a0a0"/><stop offset="0.6114" stop-color="#e07474"/><stop offset="0.6130" stop-color="#de6969"/><stop offset="0.6147" stop-color="#e07474"/><stop offset="0.6164" stop-color="#e9a0a0"/><stop offset="0.6184" stop-color="#f5e6e9"/><stop offset="0.6206" stop-color="#cac3ec"/><stop offset="0.6240" stop-color="#9d97e3"/><stop offset="0.6274" stop-color="#8489e0"/><stop offset="0.6310" stop-color="#6c7cdd"/><stop offset="0.6370" stop-color="#5473dc"/><stop offset="0.6468" stop-color="#3f6bdb"/><stop offset="0.6594" stop-color="#3166da"/><stop offset="0.6749" stop-color="#2862da"/><stop offset="0.6974" stop-color="#2260da"/><stop offset="0.7255" stop-color="#205fda"/><stop offset="0.7677" stop-color="#205fda"/><stop offset="1.0000" stop-color="#205fda"/></linearGradient><linearGradient id="g19" x1="0" y1="0" x2="0" y2="1"><stop offset="0.0000" stop-color="#205fda"/><stop offset="0.1254" stop-color="#205fda"/><stop offset="0.1676" stop-color="#2260da"/><stop offset="0.1957" stop-color="#2862da"/><stop offset="0.2182" stop-color="#3266da"/><stop offset="0.2337" stop-color="#3f6bdb"/><stop offset="0.2463" stop-color="#5373dc"/><stop offset="0.2562" stop-color="#717fdd"/><stop offset="0.2621" stop-color="#9090e1"/><stop offset="0.2657" stop-color="#a7a1e5"/><stop offset="0.2691" stop-color="#c5bdeb"/><stop offset="0.2725" stop-color="#f0eaf5"/><stop offset="0.2747" stop-color="#f3dbdc"/><stop offset="0.2767" stop-color="#ebabab"/><stop offset="0.2784" stop-color="#e38282"/><stop offset="0.2801" stop-color="#e17777"/><stop offset="0.2818" stop-color="#e38282"/><stop offset="0.2835" stop-color="#ebabab"/><stop offset="0.2854" stop-color="#f3dbdc"/><stop offset="0.2877" stop-color="#f0eaf5"/><stop offset="0.2911" stop-color="#c5bdeb"/><stop offset="0.2944" stop-color="#a7a1e5"/><stop offset="0.2981" stop-color="#9090e1"/><stop offset="0.3040" stop-color="#717fdd"/><stop offset="0.3138" stop-color="#5373dc"/><stop offset="0.3265" stop-color="#3f6bdb"/><stop offset="0.3420" stop-color="#3266da"/><stop offset="0.3645" stop-color="#2862da"/><stop offset="0.3926" stop-color="#2260da"/><stop offset="0.4348" stop-color="#205fda"/><stop offset="0.4449" stop-color="#205fda"/><stop offset="0.4871" stop-color="#205fda"/><stop offset="0.5152" stop-color="#2360da"/><stop offset="0.5377" stop-color="#2a63da"/><stop offset="0.5531" stop-color="#3567db"/><stop offset="0.5658" stop-color="#436ddb"/><stop offset="0.5756" stop-color="#5a75dc"/><stop offset="0.5816" stop-color="#7581de"/><stop offset="0.5852" stop-color="#8c8ee1"/><stop offset="0.5886" stop-color="#a59ee4"/><stop offset="0.5920" stop-color="#cdc6ed"/><stop offset="0.5942" stop-color="#f6edf1"/><stop offset="0.5962" stop-color="#f0c7c8"/><stop offset="0.5979" stop-color="#eaa4a4"/><stop offset="0.5996" stop-color="#e79494"/><stop offset="0.6012" stop-color="#eaa4a4"/><stop offset="0.6029" stop-color="#f0c7c8"/><stop offset="0.6049" stop-color="#f6edf1"/><stop offset="0.6071" stop-color="#cdc6ed"/><stop offset="0.6105" stop-color="#a59ee4"/><stop offset="0.6139" stop-color="#8c8ee1"/><stop offset="0.6175" stop-color="#7581de"/><stop offset="0.6235" stop-color="#5a75dc"/><stop offset="0.6333" stop-color="#436ddb"/><stop offset="0.6460" stop-color="#3567db"/><stop offset="0.6614" stop-color="#2a63da"/><stop offset="0.6839" stop-color="#2360da"/><stop offset="0.7120" stop-color="#205fda"/><stop offset="0.7542" stop-color="#205fda"/><stop offset="1.0000" stop-color="#205fda"/></linearGradient><linearGradient id="g20" x1="0" y1="0" x2="0" y2="1"><stop offset="0.0000" stop-color="#205fda"/><stop offset="0.1136" stop-color="#205fda"/><stop offset="0.1558" stop-color="#2260da"/><stop offset="0.1839" stop-color="#2862da"/><stop offset="0.2064" stop-color="#3366da"/><stop offset="0.2219" stop-color="#406cdb"/><stop offset="0.2345" stop-color="#5373dc"/><stop offset="0.2444" stop-color="#717fdd"/><stop offset="0.2503" stop-color="#9090e1"/><stop offset="0.2539" stop-color="#a6a0e5"/><stop offset="0.2573" stop-color="#c3bceb"/><stop offset="0.2607" stop-color="#ece6f4"/><stop offset="0.2629" stop-color="#f5e5e7"/><stop offset="0.2649" stop-color="#f0c9ca"/><stop offset="0.2666" stop-color="#ecb1b1"/><stop offset="0.2683" stop-color="#eaa4a4"/><stop offset="0.2700" stop-color="#ecb1b1"/><stop offset="0.2717" stop-color="#f0c9ca"/><stop offset="0.2736" stop-color="#f5e5e7"/><stop offset="0.2759" stop-color="#ece6f4"/><stop offset="0.2792" stop-color="#c3bceb"/><stop offset="0.2826" stop-color="#a6a0e5"/><stop offset="0.2863" stop-color="#9090e1"/><stop offset="0.2922" stop-color="#717fdd"/><stop offset="0.3020" stop-color="#5373dc"/><stop offset="0.3147" stop-color="#406cdb"/><stop offset="0.3301" stop-color="#3366da"/><stop offset="0.3526" stop-color="#2862da"/><stop offset="0.3808" stop-color="#2260da"/><stop offset="0.4229" stop-color="#205fda"/><stop offset="0.4348" stop-color="#205fda"/><stop offset="0.4769" stop-color="#205fda"/><stop offset="0.5051" stop-color="#2461da"/><stop offset="0.5276" stop-color="#2c64da"/><stop offset="0.5430" stop-color="#3868db"/><stop offset="0.5557" stop-color="#466edb"/><stop offset="0.5655" stop-color="#5e77dc"/><stop offset="0.5714" stop-color="#7c85df"/><stop offset="0.5751" stop-color="#9291e2"/><stop offset="0.5785" stop-color="#aba5e6"/><stop offset="0.5818" stop-color="#d2caee"/><stop offset="0.5841" stop-color="#f6eef2"/><stop offset="0.5861" stop-color="#f2d3d4"/><stop offset="0.5877" stop-color="#edb9b9"/><stop offset="0.5894" stop-color="#ebacac"/><stop offset="0.5911" stop-color="#edb9b9"/><stop offset="0.5928" stop-color="#f2d3d4"/><stop offset="0.5948" stop-color="#f6eef2"/><stop offset="0.5970" stop-color="#d2caee"/><stop offset="0.6004" stop-color="#aba5e6"/><stop offset="0.6038" stop-color="#9291e2"/><stop offset="0.6074" stop-color="#7c85df"/><stop offset="0.6133" stop-color="#5e77dc"/><stop offset="0.6232" stop-color="#466edb"/><stop offset="0.6358" stop-color="#3868db"/><stop offset="0.6513" stop-color="#2c64da"/><stop offset="0.6738" stop-color="#2461da"/><stop offset="0.7019" stop-color="#205fda"/><stop offset="0.7441" stop-color="#205fda"/><stop offset="1.0000" stop-color="#205fda"/></linearGradient><linearGradient id="g21" x1="0" y1="0" x2="0" y2="1"><stop offset="0.0000" stop-color="#205fda"/><stop offset="0.1018" stop-color="#205fda"/><stop offset="0.1440" stop-color="#2260da"/><stop offset="0.1721" stop-color="#2862da"/><stop offset="0.1946" stop-color="#3367db"/><stop offset="0.2101" stop-color="#406cdb"/><stop offset="0.2227" stop-color="#5373dc"/><stop offset="0.2326" stop-color="#727fdd"/><stop offset="0.2385" stop-color="#8f90e1"/><stop offset="0.2421" stop-color="#a59fe4"/><stop offset="0.2455" stop-color="#c2bbea"/><stop offset="0.2489" stop-color="#e9e3f3"/><stop offset="0.2511" stop-color="#f6eaed"/><stop offset="0.2531" stop-color="#f3dadb"/><stop offset="0.2548" stop-color="#f0cbcc"/><stop offset="0.2565" stop-color="#efc4c4"/><stop offset="0.2582" stop-color="#f0cbcc"/><stop offset="0.2598" stop-color="#f3dadb"/><stop offset="0.2618" stop-color="#f6eaed"/><stop offset="0.2641" stop-color="#e9e3f3"/><stop offset="0.2674" stop-color="#c2bbea"/><stop offset="0.2708" stop-color="#a59fe4"/><stop offset="0.2745" stop-color="#8f90e1"/><stop offset="0.2804" stop-color="#727fdd"/><stop offset="0.2902" stop-color="#5373dc"/><stop offset="0.3029" stop-color="#406cdb"/><stop offset="0.3183" stop-color="#3367db"/><stop offset="0.3408" stop-color="#2862da"/><stop offset="0.3690" stop-color="#2260da"/><stop offset="0.4111" stop-color="#205fda"/><stop offset="0.4229" stop-color="#205fda"/><stop offset="0.4651" stop-color="#215fda"/><stop offset="0.4933" stop-color="#2661da"/><stop offset="0.5157" stop-color="#2e65da"/><stop offset="0.5312" stop-color="#3b6adb"/><stop offset="0.5439" stop-color="#4b70db"/><stop offset="0.5537" stop-color="#667add"/><stop offset="0.5596" stop-color="#8389e0"/><stop offset="0.5633" stop-color="#9794e2"/><stop offset="0.5666" stop-color="#b1aae7"/><stop offset="0.5700" stop-color="#d7d0ef"/><stop offset="0.5723" stop-color="#f7f0f5"/><stop offset="0.5742" stop-color="#f4e1e3"/><stop offset="0.5759" stop-color="#f1d2d3"/><stop offset="0.5776" stop-color="#f0cbcb"/><stop offset="0.5793" stop-color="#f1d2d3"/><stop offset="0.5810" stop-color="#f4e1e3"/><stop offset="0.5830" stop-color="#f7f0f5"/><stop offset="0.5852" stop-color="#d7d0ef"/><stop offset="0.5886" stop-color="#b1aae7"/><stop offset="0.5920" stop-color="#9794e2"/><stop offset="0.5956" stop-color="#8389e0"/><stop offset="0.6015" stop-color="#667add"/><stop offset="0.6114" stop-color="#4b70db"/><stop offset="0.6240" stop-color="#3b6adb"/><stop offset="0.6395" stop-color="#2e65da"/><stop offset="0.6620" stop-color="#2661da"/><stop offset="0.6901" stop-color="#215fda"/><stop offset="0.7323" stop-color="#205fda"/><stop offset="1.0000" stop-color="#205fda"/></linearGradient><linearGradient id="g22" x1="0" y1="0" x2="0" y2="1"><stop offset="0.0000" stop-color="#205fda"/><stop offset="0.0900" stop-color="#205fda"/><stop offset="0.1322" stop-color="#2360da"/><stop offset="0.1603" stop-color="#2962da"/><stop offset="0.1828" stop-color="#3367db"/><stop offset="0.1983" stop-color="#406cdb"/><stop offset="0.2109" stop-color="#5473dc"/><stop offset="0.2208" stop-color="#727fdd"/><stop offset="0.2267" stop-color="#8f90e1"/><stop offset="0.2303" stop-color="#a49ee4"/><stop offset="0.2337" stop-color="#c0b9ea"/><stop offset="0.2371" stop-color="#e6e0f3"/><stop offset="0.2393" stop-color="#f6edf1"/><stop offset="0.2413" stop-color="#f4e2e5"/><stop offset="0.2430" stop-color="#f3dadb"/><stop offset="0.2447" stop-color="#f2d5d6"/><stop offset="0.2463" stop-color="#f3dadb"/><stop offset="0.2480" stop-color="#f4e2e5"/><stop offset="0.2500" stop-color="#f6edf1"/><stop offset="0.2522" stop-color="#e6e0f3"/><stop offset="0.2556" stop-color="#c0b9ea"/><stop offset="0.2590" stop-color="#a49ee4"/><stop offset="0.2627" stop-color="#8f90e1"/><stop offset="0.2686" stop-color="#727fdd"/><stop offset="0.2784" stop-color="#5473dc"/><stop offset="0.2911" stop-color="#406cdb"/><stop offset="0.3065" stop-color="#3367db"/><stop offset="0.3290" stop-color="#2962da"/><stop offset="0.3571" stop-color="#2360da"/><stop offset="0.3993" stop-color="#205fda"/><stop offset="0.4151" stop-color="#205fda"/><stop offset="0.4573" stop-color="#2260da"/><stop offset="0.4854" stop-color="#2862da"/><stop offset="0.5079" stop-color="#3266da"/><stop offset="0.5233" stop-color="#3e6bdb"/><stop offset="0.5360" stop-color="#5072db"/><stop offset="0.5458" stop-color="#6c7cdd"/><stop offset="0.5517" stop-color="#898ce0"/><stop offset="0.5554" stop-color="#9c97e3"/><stop offset="0.5588" stop-color="#b6afe8"/><stop offset="0.5621" stop-color="#dcd5f0"/><stop offset="0.5644" stop-color="#f7f1f6"/><stop offset="0.5664" stop-color="#f5e7ea"/><stop offset="0.5681" stop-color="#f4e0e2"/><stop offset="0.5697" stop-color="#f3dbdc"/><stop offset="0.5714" stop-color="#f4e0e2"/><stop offset="0.5731" stop-color="#f5e7ea"/><stop offset="0.5751" stop-color="#f7f1f6"/><stop offset="0.5773" stop-color="#dcd5f0"/><stop offset="0.5807" stop-color="#b6afe8"/><stop offset="0.5841" stop-color="#9c97e3"/><stop offset="0.5877" stop-color="#898ce0"/><stop offset="0.5936" stop-color="#6c7cdd"/><stop offset="0.6035" stop-color="#5072db"/><stop offset="0.6161" stop-color="#3e6bdb"/><stop offset="0.6316" stop-color="#3266da"/><stop offset="0.6541" stop-color="#2862da"/><stop offset="0.6822" stop-color="#2260da"/><stop offset="0.7244" stop-color="#205fda"/><stop offset="1.0000" stop-color="#205fda"/></linearGradient><linearGradient id="g23" x1="0" y1="0" x2="0" y2="1"><stop offset="0.0000" stop-color="#205fda"/><stop offset="0.0759" stop-color="#205fda"/><stop offset="0.1181" stop-color="#2360da"/><stop offset="0.1462" stop-color="#2962da"/><stop offset="0.1687" stop-color="#3367db"/><stop offset="0.1842" stop-color="#3f6bdb"/><stop offset="0.1969" stop-color="#5272dc"/><stop offset="0.2067" stop-color="#6e7ddd"/><stop offset="0.2126" stop-color="#898ce0"/><stop offset="0.2163" stop-color="#9b96e3"/><stop offset="0.2196" stop-color="#b4aee8"/><stop offset="0.2230" stop-color="#d8d1ef"/><stop offset="0.2253" stop-color="#efe9f5"/><stop offset="0.2272" stop-color="#f7f0f4"/><stop offset="0.2289" stop-color="#f6edf1"/><stop offset="0.2306" stop-color="#f6ebef"/><stop offset="0.2323" stop-color="#f6edf1"/><stop offset="0.2340" stop-color="#f7f0f4"/><stop offset="0.2359" stop-color="#efe9f5"/><stop offset="0.2382" stop-color="#d8d1ef"/><stop offset="0.2416" stop-color="#b4aee8"/><stop offset="0.2449" stop-color="#9b96e3"/><stop offset="0.2486" stop-color="#898ce0"/><stop offset="0.2545" stop-color="#6e7ddd"/><stop offset="0.2643" stop-color="#5272dc"/><stop offset="0.2770" stop-color="#3f6bdb"/><stop offset="0.2925" stop-color="#3367db"/><stop offset="0.3150" stop-color="#2962da"/><stop offset="0.3431" stop-color="#2360da"/><stop offset="0.3853" stop-color="#205fda"/><stop offset="0.4072" stop-color="#205fda"/><stop offset="0.4494" stop-color="#2360da"/><stop offset="0.4775" stop-color="#2963da"/><stop offset="0.5000" stop-color="#3467db"/><stop offset="0.5155" stop-color="#416cdb"/><stop offset="0.5281" stop-color="#5473dc"/><stop offset="0.5380" stop-color="#727fde"/><stop offset="0.5439" stop-color="#8e8fe1"/><stop offset="0.5475" stop-color="#a19be4"/><stop offset="0.5509" stop-color="#bdb5e9"/><stop offset="0.5543" stop-color="#e1daf1"/><stop offset="0.5565" stop-color="#f7f2f7"/><stop offset="0.5585" stop-color="#f6ecef"/><stop offset="0.5602" stop-color="#f5e9ec"/><stop offset="0.5619" stop-color="#f5e7ea"/><stop offset="0.5636" stop-color="#f5e9ec"/><stop offset="0.5652" stop-color="#f6ecef"/><stop offset="0.5672" stop-color="#f7f2f7"/><stop offset="0.5695" stop-color="#e1daf1"/><stop offset="0.5728" stop-color="#bdb5e9"/><stop offset="0.5762" stop-color="#a19be4"/><stop offset="0.5799" stop-color="#8e8fe1"/><stop offset="0.5858" stop-color="#727fde"/><stop offset="0.5956" stop-color="#5473dc"/><stop offset="0.6083" stop-color="#416cdb"/><stop offset="0.6237" stop-color="#3467db"/><stop offset="0.6462" stop-color="#2963da"/><stop offset="0.6744" stop-color="#2360da"/><stop offset="0.7165" stop-color="#205fda"/><stop offset="1.0000" stop-color="#205fda"/></linearGradient><linearGradient id="g24" x1="0" y1="0" x2="0" y2="1"><stop offset="0.0000" stop-color="#205fda"/><stop offset="0.0624" stop-color="#205fda"/><stop offset="0.1046" stop-color="#2360da"/><stop offset="0.1327" stop-color="#2862da"/><stop offset="0.1552" stop-color="#3366da"/><stop offset="0.1707" stop-color="#3e6bdb"/><stop offset="0.1834" stop-color="#4f72db"/><stop offset="0.1932" stop-color="#6b7cdd"/><stop offset="0.1991" stop-color="#8489e0"/><stop offset="0.2028" stop-color="#9492e2"/><stop offset="0.2061" stop-color="#a8a2e5"/><stop offset="0.2095" stop-color="#cac3ec"/><stop offset="0.2118" stop-color="#dfd8f1"/><stop offset="0.2137" stop-color="#ebe5f4"/><stop offset="0.2154" stop-color="#f0eaf5"/><stop offset="0.2171" stop-color="#f3eef6"/><stop offset="0.2188" stop-color="#f0eaf5"/><stop offset="0.2205" stop-color="#ebe5f4"/><stop offset="0.2224" stop-color="#dfd8f1"/><stop offset="0.2247" stop-color="#cac3ec"/><stop offset="0.2281" stop-color="#a8a2e5"/><stop offset="0.2314" stop-color="#9492e2"/><stop offset="0.2351" stop-color="#8489e0"/><stop offset="0.2410" stop-color="#6b7cdd"/><stop offset="0.2508" stop-color="#4f72db"/><stop offset="0.2635" stop-color="#3e6bdb"/><stop offset="0.2790" stop-color="#3366da"/><stop offset="0.3015" stop-color="#2862da"/><stop offset="0.3296" stop-color="#2360da"/><stop offset="0.3718" stop-color="#205fda"/><stop offset="0.3990" stop-color="#205fda"/><stop offset="0.4412" stop-color="#2461da"/><stop offset="0.4693" stop-color="#2b63da"/><stop offset="0.4918" stop-color="#3768db"/><stop offset="0.5073" stop-color="#436ddb"/><stop offset="0.5200" stop-color="#5875dc"/><stop offset="0.5298" stop-color="#7983de"/><stop offset="0.5357" stop-color="#9392e2"/><stop offset="0.5394" stop-color="#a7a1e5"/><stop offset="0.5427" stop-color="#c2bbea"/><stop offset="0.5461" stop-color="#e6e0f3"/><stop offset="0.5484" stop-color="#f7f1f5"/><stop offset="0.5503" stop-color="#f6ebef"/><stop offset="0.5520" stop-color="#f5e9ec"/><stop offset="0.5537" stop-color="#f5e7ea"/><stop offset="0.5554" stop-color="#f5e9ec"/><stop offset="0.5571" stop-color="#f6ebef"/><stop offset="0.5591" stop-color="#f7f1f5"/><stop offset="0.5613" stop-color="#e6e0f3"/><stop offset="0.5647" stop-color="#c2bbea"/><stop offset="0.5681" stop-color="#a7a1e5"/><stop offset="0.5717" stop-color="#9392e2"/><stop offset="0.5776" stop-color="#7983de"/><stop offset="0.5875" stop-color="#5875dc"/><stop offset="0.6001" stop-color="#436ddb"/><stop offset="0.6156" stop-color="#3768db"/><stop offset="0.6381" stop-color="#2b63da"/><stop offset="0.6662" stop-color="#2461da"/><stop offset="0.7084" stop-color="#205fda"/><stop offset="1.0000" stop-color="#205fda"/></linearGradient><linearGradient id="g25" x1="0" y1="0" x2="0" y2="1"><stop offset="0.0000" stop-color="#205fda"/><stop offset="0.0467" stop-color="#205fda"/><stop offset="0.0889" stop-color="#2360da"/><stop offset="0.1170" stop-color="#2862da"/><stop offset="0.1395" stop-color="#3266da"/><stop offset="0.1549" stop-color="#3d6adb"/><stop offset="0.1676" stop-color="#4c70db"/><stop offset="0.1774" stop-color="#667add"/><stop offset="0.1834" stop-color="#7c85df"/><stop offset="0.1870" stop-color="#8b8de1"/><stop offset="0.1904" stop-color="#9a96e3"/><stop offset="0.1938" stop-color="#b8b1e8"/><stop offset="0.1960" stop-color="#cbc4ec"/><stop offset="0.1980" stop-color="#d6ceef"/><stop offset="0.1997" stop-color="#dad3f0"/><stop offset="0.2013" stop-color="#ded6f0"/><stop offset="0.2030" stop-color="#dad3f0"/><stop offset="0.2047" stop-color="#d6ceef"/><stop offset="0.2067" stop-color="#cbc4ec"/><stop offset="0.2089" stop-color="#b8b1e8"/><stop offset="0.2123" stop-color="#9a96e3"/><stop offset="0.2157" stop-color="#8b8de1"/><stop offset="0.2193" stop-color="#7c85df"/><stop offset="0.2253" stop-color="#667add"/><stop offset="0.2351" stop-color="#4c70db"/><stop offset="0.2478" stop-color="#3d6adb"/><stop offset="0.2632" stop-color="#3266da"/><stop offset="0.2857" stop-color="#2862da"/><stop offset="0.3138" stop-color="#2360da"/><stop offset="0.3560" stop-color="#205fda"/><stop offset="0.3912" stop-color="#205fda"/><stop offset="0.4334" stop-color="#2461da"/><stop offset="0.4615" stop-color="#2b63da"/><stop offset="0.4840" stop-color="#3768db"/><stop offset="0.4994" stop-color="#446ddb"/><stop offset="0.5121" stop-color="#5975dc"/><stop offset="0.5219" stop-color="#7a83de"/><stop offset="0.5278" stop-color="#9492e2"/><stop offset="0.5315" stop-color="#a8a2e5"/><stop offset="0.5349" stop-color="#c3bbea"/><stop offset="0.5382" stop-color="#e7e0f3"/><stop offset="0.5405" stop-color="#f7f1f5"/><stop offset="0.5425" stop-color="#f6ebef"/><stop offset="0.5442" stop-color="#f5e9ed"/><stop offset="0.5458" stop-color="#f5e7eb"/><stop offset="0.5475" stop-color="#f5e9ed"/><stop offset="0.5492" stop-color="#f6ebef"/><stop offset="0.5512" stop-color="#f7f1f5"/><stop offset="0.5534" stop-color="#e7e0f3"/><stop offset="0.5568" stop-color="#c3bbea"/><stop offset="0.5602" stop-color="#a8a2e5"/><stop offset="0.5638" stop-color="#9492e2"/><stop offset="0.5697" stop-color="#7a83de"/><stop offset="0.5796" stop-color="#5975dc"/><stop offset="0.5922" stop-color="#446ddb"/><stop offset="0.6077" stop-color="#3768db"/><stop offset="0.6302" stop-color="#2b63da"/><stop offset="0.6583" stop-color="#2461da"/><stop offset="0.7005" stop-color="#205fda"/><stop offset="1.0000" stop-color="#205fda"/></linearGradient><linearGradient id="g26" x1="0" y1="0" x2="0" y2="1"><stop offset="0.0000" stop-color="#205fda"/><stop offset="0.0326" stop-color="#205fda"/><stop offset="0.0748" stop-color="#2360da"/><stop offset="0.1029" stop-color="#2862da"/><stop offset="0.1254" stop-color="#3166da"/><stop offset="0.1409" stop-color="#3a69db"/><stop offset="0.1535" stop-color="#486fdb"/><stop offset="0.1634" stop-color="#6078dc"/><stop offset="0.1693" stop-color="#7380de"/><stop offset="0.1729" stop-color="#8187df"/><stop offset="0.1763" stop-color="#8f90e1"/><stop offset="0.1797" stop-color="#a49ee4"/><stop offset="0.1819" stop-color="#b6afe8"/><stop offset="0.1839" stop-color="#c0b9ea"/><stop offset="0.1856" stop-color="#c4bdeb"/><stop offset="0.1873" stop-color="#c7c0eb"/><stop offset="0.1890" stop-color="#c4bdeb"/><stop offset="0.1907" stop-color="#c0b9ea"/><stop offset="0.1926" stop-color="#b6afe8"/><stop offset="0.1949" stop-color="#a49ee4"/><stop offset="0.1983" stop-color="#8f90e1"/><stop offset="0.2016" stop-color="#8187df"/><stop offset="0.2053" stop-color="#7380de"/><stop offset="0.2112" stop-color="#6078dc"/><stop offset="0.2210" stop-color="#486fdb"/><stop offset="0.2337" stop-color="#3a69db"/><stop offset="0.2492" stop-color="#3166da"/><stop offset="0.2717" stop-color="#2862da"/><stop offset="0.2998" stop-color="#2360da"/><stop offset="0.3420" stop-color="#205fda"/><stop offset="0.3833" stop-color="#205fda"/><stop offset="0.4255" stop-color="#2461da"/><stop offset="0.4536" stop-color="#2b63da"/><stop offset="0.4761" stop-color="#3868db"/><stop offset="0.4916" stop-color="#446ddb"/><stop offset="0.5042" stop-color="#5975dc"/><stop offset="0.5141" stop-color="#7a84df"/><stop offset="0.5200" stop-color="#9593e2"/><stop offset="0.5236" stop-color="#a9a2e5"/><stop offset="0.5270" stop-color="#c3bceb"/><stop offset="0.5304" stop-color="#e7e1f3"/><stop offset="0.5326" stop-color="#f7f1f5"/><stop offset="0.5346" stop-color="#f6ebef"/><stop offset="0.5363" stop-color="#f5e9ed"/><stop offset="0.5380" stop-color="#f5e8eb"/><stop offset="0.5397" stop-color="#f5e9ed"/><stop offset="0.5413" stop-color="#f6ebef"/><stop offset="0.5433" stop-color="#f7f1f5"/><stop offset="0.5456" stop-color="#e7e1f3"/><stop offset="0.5489" stop-color="#c3bceb"/><stop offset="0.5523" stop-color="#a9a2e5"/><stop offset="0.5560" stop-color="#9593e2"/><stop offset="0.5619" stop-color="#7a84df"/><stop offset="0.5717" stop-color="#5975dc"/><stop offset="0.5844" stop-color="#446ddb"/><stop offset="0.5998" stop-color="#3868db"/><stop offset="0.6223" stop-color="#2b63da"/><stop offset="0.6504" stop-color="#2461da"/><stop offset="0.6926" stop-color="#205fda"/><stop offset="1.0000" stop-color="#205fda"/></linearGradient><linearGradient id="g27" x1="0" y1="0" x2="0" y2="1"><stop offset="0.0000" stop-color="#205fda"/><stop offset="0.0183" stop-color="#205fda"/><stop offset="0.0605" stop-color="#2260da"/><stop offset="0.0886" stop-color="#2762da"/><stop offset="0.1111" stop-color="#2f65da"/><stop offset="0.1265" stop-color="#3869db"/><stop offset="0.1392" stop-color="#446ddb"/><stop offset="0.1490" stop-color="#5a75dc"/><stop offset="0.1549" stop-color="#6a7cdd"/><stop offset="0.1586" stop-color="#7682de"/><stop offset="0.1620" stop-color="#8389e0"/><stop offset="0.1654" stop-color="#9593e2"/><stop offset="0.1676" stop-color="#a19be4"/><stop offset="0.1696" stop-color="#aaa4e6"/><stop offset="0.1713" stop-color="#aea7e6"/><stop offset="0.1729" stop-color="#b1aae7"/><stop offset="0.1746" stop-color="#aea7e6"/><stop offset="0.1763" stop-color="#aaa4e6"/><stop offset="0.1783" stop-color="#a19be4"/><stop offset="0.1805" stop-color="#9593e2"/><stop offset="0.1839" stop-color="#8389e0"/><stop offset="0.1873" stop-color="#7682de"/><stop offset="0.1909" stop-color="#6a7cdd"/><stop offset="0.1969" stop-color="#5a75dc"/><stop offset="0.2067" stop-color="#446ddb"/><stop offset="0.2193" stop-color="#3869db"/><stop offset="0.2348" stop-color="#2f65da"/><stop offset="0.2573" stop-color="#2762da"/><stop offset="0.2854" stop-color="#2260da"/><stop offset="0.3276" stop-color="#205fda"/><stop offset="0.3780" stop-color="#205fda"/><stop offset="0.4201" stop-color="#2461da"/><stop offset="0.4483" stop-color="#2b63da"/><stop offset="0.4708" stop-color="#3868db"/><stop offset="0.4862" stop-color="#446ddb"/><stop offset="0.4989" stop-color="#5a76dc"/><stop offset="0.5087" stop-color="#7b85df"/><stop offset="0.5146" stop-color="#9593e2"/><stop offset="0.5183" stop-color="#aaa3e5"/><stop offset="0.5217" stop-color="#c4bdeb"/><stop offset="0.5250" stop-color="#e8e1f3"/><stop offset="0.5273" stop-color="#f7f0f5"/><stop offset="0.5292" stop-color="#f6ebef"/><stop offset="0.5309" stop-color="#f5e9ed"/><stop offset="0.5326" stop-color="#f5e8eb"/><stop offset="0.5343" stop-color="#f5e9ed"/><stop offset="0.5360" stop-color="#f6ebef"/><stop offset="0.5380" stop-color="#f7f0f5"/><stop offset="0.5402" stop-color="#e8e1f3"/><stop offset="0.5436" stop-color="#c4bdeb"/><stop offset="0.5470" stop-color="#aaa3e5"/><stop offset="0.5506" stop-color="#9593e2"/><stop offset="0.5565" stop-color="#7b85df"/><stop offset="0.5664" stop-color="#5a76dc"/><stop offset="0.5790" stop-color="#446ddb"/><stop offset="0.5945" stop-color="#3868db"/><stop offset="0.6170" stop-color="#2b63da"/><stop offset="0.6451" stop-color="#2461da"/><stop offset="0.6873" stop-color="#205fda"/><stop offset="1.0000" stop-color="#205fda"/></linearGradient><linearGradient id="g28" x1="0" y1="0" x2="0" y2="1"><stop offset="0.0000" stop-color="#205fda"/><stop offset="0.0011" stop-color="#205fda"/><stop offset="0.0433" stop-color="#2260da"/><stop offset="0.0714" stop-color="#2661da"/><stop offset="0.0939" stop-color="#2e64da"/><stop offset="0.1094" stop-color="#3668db"/><stop offset="0.1220" stop-color="#416cdb"/><stop offset="0.1319" stop-color="#5473dc"/><stop offset="0.1378" stop-color="#6379dc"/><stop offset="0.1415" stop-color="#6c7cdd"/><stop offset="0.1448" stop-color="#7883de"/><stop offset="0.1482" stop-color="#888ce0"/><stop offset="0.1504" stop-color="#9291e2"/><stop offset="0.1524" stop-color="#9894e2"/><stop offset="0.1541" stop-color="#9a96e2"/><stop offset="0.1558" stop-color="#9c97e3"/><stop offset="0.1575" stop-color="#9a96e2"/><stop offset="0.1592" stop-color="#9894e2"/><stop offset="0.1611" stop-color="#9291e2"/><stop offset="0.1634" stop-color="#888ce0"/><stop offset="0.1668" stop-color="#7883de"/><stop offset="0.1701" stop-color="#6c7cdd"/><stop offset="0.1738" stop-color="#6379dc"/><stop offset="0.1797" stop-color="#5473dc"/><stop offset="0.1895" stop-color="#416cdb"/><stop offset="0.2022" stop-color="#3668db"/><stop offset="0.2177" stop-color="#2e64da"/><stop offset="0.2402" stop-color="#2661da"/><stop offset="0.2683" stop-color="#2260da"/><stop offset="0.3105" stop-color="#205fda"/><stop offset="0.3732" stop-color="#205fda"/><stop offset="0.4154" stop-color="#2561da"/><stop offset="0.4435" stop-color="#2c64da"/><stop offset="0.4660" stop-color="#3869db"/><stop offset="0.4814" stop-color="#456edb"/><stop offset="0.4941" stop-color="#5b76dc"/><stop offset="0.5039" stop-color="#7c85df"/><stop offset="0.5098" stop-color="#9694e2"/><stop offset="0.5135" stop-color="#aaa4e6"/><stop offset="0.5169" stop-color="#c5bdeb"/><stop offset="0.5202" stop-color="#e8e2f3"/><stop offset="0.5225" stop-color="#f7f0f5"/><stop offset="0.5245" stop-color="#f6ecef"/><stop offset="0.5262" stop-color="#f6eaed"/><stop offset="0.5278" stop-color="#f5e8eb"/><stop offset="0.5295" stop-color="#f6eaed"/><stop offset="0.5312" stop-color="#f6ecef"/><stop offset="0.5332" stop-color="#f7f0f5"/><stop offset="0.5354" stop-color="#e8e2f3"/><stop offset="0.5388" stop-color="#c5bdeb"/><stop offset="0.5422" stop-color="#aaa4e6"/><stop offset="0.5458" stop-color="#9694e2"/><stop offset="0.5517" stop-color="#7c85df"/><stop offset="0.5616" stop-color="#5b76dc"/><stop offset="0.5742" stop-color="#456edb"/><stop offset="0.5897" stop-color="#3869db"/><stop offset="0.6122" stop-color="#2c64da"/><stop offset="0.6403" stop-color="#2561da"/><stop offset="0.6825" stop-color="#205fda"/><stop offset="1.0000" stop-color="#205fda"/></linearGradient><linearGradient id="g29" x1="0" y1="0" x2="0" y2="1"><stop offset="0.0000" stop-color="#205fda"/><stop offset="0.0233" stop-color="#2260da"/><stop offset="0.0515" stop-color="#2661da"/><stop offset="0.0740" stop-color="#2d64da"/><stop offset="0.0894" stop-color="#3467db"/><stop offset="0.1021" stop-color="#3f6bdb"/><stop offset="0.1119" stop-color="#4f72db"/><stop offset="0.1178" stop-color="#5d77dc"/><stop offset="0.1215" stop-color="#667add"/><stop offset="0.1249" stop-color="#707edd"/><stop offset="0.1282" stop-color="#7f87df"/><stop offset="0.1305" stop-color="#888ce0"/><stop offset="0.1325" stop-color="#8d8fe1"/><stop offset="0.1341" stop-color="#9090e1"/><stop offset="0.1358" stop-color="#9191e1"/><stop offset="0.1375" stop-color="#9090e1"/><stop offset="0.1392" stop-color="#8d8fe1"/><stop offset="0.1412" stop-color="#888ce0"/><stop offset="0.1434" stop-color="#7f87df"/><stop offset="0.1468" stop-color="#707edd"/><stop offset="0.1502" stop-color="#667add"/><stop offset="0.1538" stop-color="#5d77dc"/><stop offset="0.1597" stop-color="#4f72db"/><stop offset="0.1696" stop-color="#3f6bdb"/><stop offset="0.1822" stop-color="#3467db"/><stop offset="0.1977" stop-color="#2d64da"/><stop offset="0.2202" stop-color="#2661da"/><stop offset="0.2483" stop-color="#2260da"/><stop offset="0.2905" stop-color="#205fda"/><stop offset="0.3701" stop-color="#205fda"/><stop offset="0.4123" stop-color="#2561da"/><stop offset="0.4404" stop-color="#2c64da"/><stop offset="0.4629" stop-color="#3969db"/><stop offset="0.4783" stop-color="#456edb"/><stop offset="0.4910" stop-color="#5b76dc"/><stop offset="0.5008" stop-color="#7d86df"/><stop offset="0.5067" stop-color="#9794e2"/><stop offset="0.5104" stop-color="#aba5e6"/><stop offset="0.5138" stop-color="#c5beeb"/><stop offset="0.5172" stop-color="#e9e3f3"/><stop offset="0.5194" stop-color="#f7f0f5"/><stop offset="0.5214" stop-color="#f6ecef"/><stop offset="0.5231" stop-color="#f6eaed"/><stop offset="0.5247" stop-color="#f5e8eb"/><stop offset="0.5264" stop-color="#f6eaed"/><stop offset="0.5281" stop-color="#f6ecef"/><stop offset="0.5301" stop-color="#f7f0f5"/><stop offset="0.5323" stop-color="#e9e3f3"/><stop offset="0.5357" stop-color="#c5beeb"/><stop offset="0.5391" stop-color="#aba5e6"/><stop offset="0.5427" stop-color="#9794e2"/><stop offset="0.5487" stop-color="#7d86df"/><stop offset="0.5585" stop-color="#5b76dc"/><stop offset="0.5711" stop-color="#456edb"/><stop offset="0.5866" stop-color="#3969db"/><stop offset="0.6091" stop-color="#2c64da"/><stop offset="0.6372" stop-color="#2561da"/><stop offset="0.6794" stop-color="#205fda"/><stop offset="1.0000" stop-color="#205fda"/></linearGradient><linearGradient id="g30" x1="0" y1="0" x2="0" y2="1"><stop offset="0.0000" stop-color="#2160da"/><stop offset="0.0076" stop-color="#2260da"/><stop offset="0.0357" stop-color="#2561da"/><stop offset="0.0582" stop-color="#2c64da"/><stop offset="0.0737" stop-color="#3366da"/><stop offset="0.0863" stop-color="#3d6adb"/><stop offset="0.0962" stop-color="#4b70db"/><stop offset="0.1021" stop-color="#5875dc"/><stop offset="0.1057" stop-color="#6078dc"/><stop offset="0.1091" stop-color="#697bdd"/><stop offset="0.1125" stop-color="#7681de"/><stop offset="0.1147" stop-color="#7e86df"/><stop offset="0.1167" stop-color="#8389e0"/><stop offset="0.1184" stop-color="#858ae0"/><stop offset="0.1201" stop-color="#878be0"/><stop offset="0.1218" stop-color="#858ae0"/><stop offset="0.1235" stop-color="#8389e0"/><stop offset="0.1254" stop-color="#7e86df"/><stop offset="0.1277" stop-color="#7681de"/><stop offset="0.1310" stop-color="#697bdd"/><stop offset="0.1344" stop-color="#6078dc"/><stop offset="0.1381" stop-color="#5875dc"/><stop offset="0.1440" stop-color="#4b70db"/><stop offset="0.1538" stop-color="#3d6adb"/><stop offset="0.1665" stop-color="#3366da"/><stop offset="0.1819" stop-color="#2c64da"/><stop offset="0.2044" stop-color="#2561da"/><stop offset="0.2326" stop-color="#2260da"/><stop offset="0.2747" stop-color="#205fda"/><stop offset="0.3661" stop-color="#205fda"/><stop offset="0.4083" stop-color="#2561da"/><stop offset="0.4364" stop-color="#2c64da"/><stop offset="0.4589" stop-color="#3969db"/><stop offset="0.4744" stop-color="#456edb"/><stop offset="0.4871" stop-color="#5c76dc"/><stop offset="0.4969" stop-color="#7e86df"/><stop offset="0.5028" stop-color="#9794e2"/><stop offset="0.5065" stop-color="#aca5e6"/><stop offset="0.5098" stop-color="#c6beeb"/><stop offset="0.5132" stop-color="#e9e3f3"/><stop offset="0.5155" stop-color="#f7f0f5"/><stop offset="0.5174" stop-color="#f6ecf0"/><stop offset="0.5191" stop-color="#f6eaee"/><stop offset="0.5208" stop-color="#f5e8ec"/><stop offset="0.5225" stop-color="#f6eaee"/><stop offset="0.5242" stop-color="#f6ecf0"/><stop offset="0.5262" stop-color="#f7f0f5"/><stop offset="0.5284" stop-color="#e9e3f3"/><stop offset="0.5318" stop-color="#c6beeb"/><stop offset="0.5352" stop-color="#aca5e6"/><stop offset="0.5388" stop-color="#9794e2"/><stop offset="0.5447" stop-color="#7e86df"/><stop offset="0.5546" stop-color="#5c76dc"/><stop offset="0.5672" stop-color="#456edb"/><stop offset="0.5827" stop-color="#3969db"/><stop offset="0.6052" stop-color="#2c64da"/><stop offset="0.6333" stop-color="#2561da"/><stop offset="0.6755" stop-color="#205fda"/><stop offset="1.0000" stop-color="#205fda"/></linearGradient><linearGradient id="g31" x1="0" y1="0" x2="0" y2="1"><stop offset="0.0000" stop-color="#2260da"/><stop offset="0.0186" stop-color="#2561da"/><stop offset="0.0411" stop-color="#2b63da"/><stop offset="0.0565" stop-color="#3166da"/><stop offset="0.0692" stop-color="#3a69db"/><stop offset="0.0790" stop-color="#476edb"/><stop offset="0.0849" stop-color="#5373dc"/><stop offset="0.0886" stop-color="#5b76dc"/><stop offset="0.0920" stop-color="#6279dc"/><stop offset="0.0953" stop-color="#6d7ddd"/><stop offset="0.0976" stop-color="#7581de"/><stop offset="0.0996" stop-color="#7983de"/><stop offset="0.1012" stop-color="#7b84df"/><stop offset="0.1029" stop-color="#7c85df"/><stop offset="0.1046" stop-color="#7b84df"/><stop offset="0.1063" stop-color="#7983de"/><stop offset="0.1083" stop-color="#7581de"/><stop offset="0.1105" stop-color="#6d7ddd"/><stop offset="0.1139" stop-color="#6279dc"/><stop offset="0.1173" stop-color="#5b76dc"/><stop offset="0.1209" stop-color="#5373dc"/><stop offset="0.1268" stop-color="#476edb"/><stop offset="0.1367" stop-color="#3a69db"/><stop offset="0.1493" stop-color="#3166da"/><stop offset="0.1648" stop-color="#2b63da"/><stop offset="0.1873" stop-color="#2561da"/><stop offset="0.2154" stop-color="#2260da"/><stop offset="0.2576" stop-color="#205fda"/><stop offset="0.3622" stop-color="#205fda"/><stop offset="0.4044" stop-color="#2561da"/><stop offset="0.4325" stop-color="#2c64da"/><stop offset="0.4550" stop-color="#3969db"/><stop offset="0.4705" stop-color="#466edb"/><stop offset="0.4831" stop-color="#5c76dc"/><stop offset="0.4930" stop-color="#7f86df"/><stop offset="0.4989" stop-color="#9895e2"/><stop offset="0.5025" stop-color="#aca6e6"/><stop offset="0.5059" stop-color="#c7bfeb"/><stop offset="0.5093" stop-color="#eae4f4"/><stop offset="0.5115" stop-color="#f7f0f5"/><stop offset="0.5135" stop-color="#f6ecf0"/><stop offset="0.5152" stop-color="#f6eaee"/><stop offset="0.5169" stop-color="#f5e8ec"/><stop offset="0.5186" stop-color="#f6eaee"/><stop offset="0.5202" stop-color="#f6ecf0"/><stop offset="0.5222" stop-color="#f7f0f5"/><stop offset="0.5245" stop-color="#eae4f4"/><stop offset="0.5278" stop-color="#c7bfeb"/><stop offset="0.5312" stop-color="#aca6e6"/><stop offset="0.5349" stop-color="#9895e2"/><stop offset="0.5408" stop-color="#7f86df"/><stop offset="0.5506" stop-color="#5c76dc"/><stop offset="0.5633" stop-color="#466edb"/><stop offset="0.5787" stop-color="#3969db"/><stop offset="0.6012" stop-color="#2c64da"/><stop offset="0.6294" stop-color="#2561da"/><stop offset="0.6715" stop-color="#205fda"/><stop offset="1.0000" stop-color="#205fda"/></linearGradient><linearGradient id="g32" x1="0" y1="0" x2="0" y2="1"><stop offset="0.0000" stop-color="#2461da"/><stop offset="0.0003" stop-color="#2561da"/><stop offset="0.0228" stop-color="#2a63da"/><stop offset="0.0382" stop-color="#3065da"/><stop offset="0.0509" stop-color="#3868db"/><stop offset="0.0607" stop-color="#436ddb"/><stop offset="0.0666" stop-color="#4e71db"/><stop offset="0.0703" stop-color="#5573dc"/><stop offset="0.0737" stop-color="#5c76dc"/><stop offset="0.0771" stop-color="#657add"/><stop offset="0.0793" stop-color="#6b7cdd"/><stop offset="0.0813" stop-color="#6f7ddd"/><stop offset="0.0830" stop-color="#707edd"/><stop offset="0.0846" stop-color="#727fdd"/><stop offset="0.0863" stop-color="#707edd"/><stop offset="0.0880" stop-color="#6f7ddd"/><stop offset="0.0900" stop-color="#6b7cdd"/><stop offset="0.0922" stop-color="#657add"/><stop offset="0.0956" stop-color="#5c76dc"/><stop offset="0.0990" stop-color="#5573dc"/><stop offset="0.1026" stop-color="#4e71db"/><stop offset="0.1085" stop-color="#436ddb"/><stop offset="0.1184" stop-color="#3868db"/><stop offset="0.1310" stop-color="#3065da"/><stop offset="0.1465" stop-color="#2a63da"/><stop offset="0.1690" stop-color="#2561da"/><stop offset="0.1971" stop-color="#2260da"/><stop offset="0.2393" stop-color="#205fda"/><stop offset="0.3583" stop-color="#205fda"/><stop offset="0.4004" stop-color="#2561da"/><stop offset="0.4286" stop-color="#2c64da"/><stop offset="0.4511" stop-color="#3a69db"/><stop offset="0.4665" stop-color="#466edb"/><stop offset="0.4792" stop-color="#5d77dc"/><stop offset="0.4890" stop-color="#8087df"/><stop offset="0.4949" stop-color="#9995e2"/><stop offset="0.4986" stop-color="#ada6e6"/><stop offset="0.5020" stop-color="#c7c0eb"/><stop offset="0.5053" stop-color="#eae4f4"/><stop offset="0.5076" stop-color="#f7f0f5"/><stop offset="0.5096" stop-color="#f6ecf0"/><stop offset="0.5112" stop-color="#f6eaee"/><stop offset="0.5129" stop-color="#f5e9ec"/><stop offset="0.5146" stop-color="#f6eaee"/><stop offset="0.5163" stop-color="#f6ecf0"/><stop offset="0.5183" stop-color="#f7f0f5"/><stop offset="0.5205" stop-color="#eae4f4"/><stop offset="0.5239" stop-color="#c7c0eb"/><stop offset="0.5273" stop-color="#ada6e6"/><stop offset="0.5309" stop-color="#9995e2"/><stop offset="0.5368" stop-color="#8087df"/><stop offset="0.5467" stop-color="#5d77dc"/><stop offset="0.5593" stop-color="#466edb"/><stop offset="0.5748" stop-color="#3a69db"/><stop offset="0.5973" stop-color="#2c64da"/><stop offset="0.6254" stop-color="#2561da"/><stop offset="0.6676" stop-color="#205fda"/><stop offset="1.0000" stop-color="#205fda"/></linearGradient><linearGradient id="cb" x1="0" y1="0" x2="0" y2="1"><stop offset="0.0000" stop-color="#205fda"/><stop offset="0.0654" stop-color="#466edb"/><stop offset="0.1237" stop-color="#6e7ddd"/><stop offset="0.1820" stop-color="#9e98e3"/><stop offset="0.2258" stop-color="#d4ccee"/><stop offset="0.2550" stop-color="#f7f2f7"/><stop offset="0.2841" stop-color="#f4e1e3"/><stop offset="0.3279" stop-color="#eebebe"/><stop offset="0.3716" stop-color="#e89b9b"/><stop offset="0.4154" stop-color="#e27d7d"/><stop offset="0.4737" stop-color="#df6c6c"/><stop offset="0.5175" stop-color="#dd6262"/><stop offset="0.5612" stop-color="#db5c5c"/><stop offset="0.6341" stop-color="#d75252"/><stop offset="0.7071" stop-color="#d44949"/><stop offset="0.7800" stop-color="#d23a3a"/><stop offset="0.8529" stop-color="#ce2828"/><stop offset="0.9258" stop-color="#cb1916"/><stop offset="0.9987" stop-color="#c80c08"/></linearGradient></defs>
<rect width="1998" height="446" fill="#fff"/>
<rect x="126.5" y="4.9" width="467.0" height="355.6" fill="#205fda"/>
<rect x="126.50" y="4.9" width="17.09" height="355.6" fill="url(#g0)"/>
<rect x="142.39" y="4.9" width="15.49" height="355.6" fill="url(#g1)"/>
<rect x="156.68" y="4.9" width="15.49" height="355.6" fill="url(#g2)"/>
<rect x="170.97" y="4.9" width="15.49" height="355.6" fill="url(#g3)"/>
<rect x="185.26" y="4.9" width="15.49" height="355.6" fill="url(#g4)"/>
<rect x="199.55" y="4.9" width="15.49" height="355.6" fill="url(#g5)"/>
<rect x="213.84" y="4.9" width="15.49" height="355.6" fill="url(#g6)"/>
<rect x="228.13" y="4.9" width="15.49" height="355.6" fill="url(#g7)"/>
<rect x="242.42" y="4.9" width="15.49" height="355.6" fill="url(#g8)"/>
<rect x="256.71" y="4.9" width="15.49" height="355.6" fill="url(#g9)"/>
<rect x="271.00" y="4.9" width="15.49" height="355.6" fill="url(#g10)"/>
<rect x="285.29" y="4.9" width="15.49" height="355.6" fill="url(#g11)"/>
<rect x="299.58" y="4.9" width="15.49" height="355.6" fill="url(#g12)"/>
<rect x="313.87" y="4.9" width="15.49" height="355.6" fill="url(#g13)"/>
<rect x="328.16" y="4.9" width="15.49" height="355.6" fill="url(#g14)"/>
<rect x="342.45" y="4.9" width="15.49" height="355.6" fill="url(#g15)"/>
<rect x="356.74" y="4.9" width="15.49" height="355.6" fill="url(#g16)"/>
<rect x="371.03" y="4.9" width="15.49" height="355.6" fill="url(#g17)"/>
<rect x="385.32" y="4.9" width="15.49" height="355.6" fill="url(#g18)"/>
<rect x="399.61" y="4.9" width="15.49" height="355.6" fill="url(#g19)"/>
<rect x="413.90" y="4.9" width="15.49" height="355.6" fill="url(#g20)"/>
<rect x="428.19" y="4.9" width="15.49" height="355.6" fill="url(#g21)"/>
<rect x="442.48" y="4.9" width="15.49" height="355.6" fill="url(#g22)"/>
<rect x="456.77" y="4.9" width="15.49" height="355.6" fill="url(#g23)"/>
<rect x="471.06" y="4.9" width="15.49" height="355.6" fill="url(#g24)"/>
<rect x="485.35" y="4.9" width="15.49" height="355.6" fill="url(#g25)"/>
<rect x="499.64" y="4.9" width="15.49" height="355.6" fill="url(#g26)"/>
<rect x="513.93" y="4.9" width="15.49" height="355.6" fill="url(#g27)"/>
<rect x="528.22" y="4.9" width="15.49" height="355.6" fill="url(#g28)"/>
<rect x="542.51" y="4.9" width="15.49" height="355.6" fill="url(#g29)"/>
<rect x="556.80" y="4.9" width="15.49" height="355.6" fill="url(#g30)"/>
<rect x="571.09" y="4.9" width="15.49" height="355.6" fill="url(#g31)"/>
<rect x="585.38" y="4.9" width="8.12" height="355.6" fill="url(#g32)"/>
<rect x="126.5" y="4.9" width="467.0" height="355.6" fill="none" stroke="#262626" stroke-width="2.5"/>
<line x1="126.50" y1="13.70" x2="135.00" y2="13.70" stroke="#262626" stroke-width="2.5" />
<line x1="593.50" y1="13.70" x2="585.00" y2="13.70" stroke="#262626" stroke-width="2.5" />
<line x1="126.50" y1="100.40" x2="135.00" y2="100.40" stroke="#262626" stroke-width="2.5" />
<line x1="593.50" y1="100.40" x2="585.00" y2="100.40" stroke="#262626" stroke-width="2.5" />
<line x1="126.50" y1="187.10" x2="135.00" y2="187.10" stroke="#262626" stroke-width="2.5" />
<line x1="593.50" y1="187.10" x2="585.00" y2="187.10" stroke="#262626" stroke-width="2.5" />
<line x1="126.50" y1="273.80" x2="135.00" y2="273.80" stroke="#262626" stroke-width="2.5" />
<line x1="593.50" y1="273.80" x2="585.00" y2="273.80" stroke="#262626" stroke-width="2.5" />
<line x1="147.30" y1="4.90" x2="147.30" y2="13.40" stroke="#262626" stroke-width="2.5" />
<line x1="147.30" y1="360.50" x2="147.30" y2="352.00" stroke="#262626" stroke-width="2.5" />
<line x1="325.10" y1="4.90" x2="325.10" y2="13.40" stroke="#262626" stroke-width="2.5" />
<line x1="325.10" y1="360.50" x2="325.10" y2="352.00" stroke="#262626" stroke-width="2.5" />
<line x1="502.90" y1="4.90" x2="502.90" y2="13.40" stroke="#262626" stroke-width="2.5" />
<line x1="502.90" y1="360.50" x2="502.90" y2="352.00" stroke="#262626" stroke-width="2.5" />
<text x="113.4" y="29.0" font-size="31.5" text-anchor="end" fill="#262626" >7.23</text>
<text x="113.4" y="112.9" font-size="31.5" text-anchor="end" fill="#262626" >7.22</text>
<text x="113.4" y="199.6" font-size="31.5" text-anchor="end" fill="#262626" >7.21</text>
<text x="113.4" y="286.3" font-size="31.5" text-anchor="end" fill="#262626" >7.20</text>
<text x="113.4" y="373.0" font-size="31.5" text-anchor="end" fill="#262626" >7.19</text>
<text x="153.8" y="397.2" font-size="31.5" text-anchor="middle" fill="#262626" >257.0</text>
<text x="330.5" y="397.2" font-size="31.5" text-anchor="middle" fill="#262626" >257.5</text>
<text x="506.7" y="397.2" font-size="31.5" text-anchor="middle" fill="#262626" >258.0</text>
<text x="283.6" y="433.5" font-size="31.5" text-anchor="start" fill="#262626" >B<tspan dy="11" font-size="18.5">0</tspan><tspan dy="-11" font-size="1">&#8203;</tspan> (mT)</text>
<text transform="translate(32.0,262.7) rotate(-90)" font-size="31.5" fill="#262626"><tspan font-style="italic">ω</tspan><tspan dy="10.9" font-size="18.5">p</tspan><tspan dy="-10.9" font-size="1">&#8203;</tspan>/<tspan dx="-1">2</tspan><tspan dx="-2.9">π</tspan><tspan dx="-1.3"> (GHz)</tspan></text>
<text x="-3.0" y="21.3" font-size="31.5" text-anchor="start" fill="#000" font-weight="bold">a</text>
<rect x="615.3" y="47.2" width="20.40000000000009" height="316.1" fill="url(#cb)" stroke="#262626" stroke-width="2.5"/>
<line x1="635.70" y1="86.30" x2="630.70" y2="86.30" stroke="#262626" stroke-width="2.2" />
<line x1="635.70" y1="132.40" x2="630.70" y2="132.40" stroke="#262626" stroke-width="2.2" />
<line x1="635.70" y1="178.50" x2="630.70" y2="178.50" stroke="#262626" stroke-width="2.2" />
<line x1="635.70" y1="224.60" x2="630.70" y2="224.60" stroke="#262626" stroke-width="2.2" />
<line x1="635.70" y1="270.70" x2="630.70" y2="270.70" stroke="#262626" stroke-width="2.2" />
<line x1="635.70" y1="316.80" x2="630.70" y2="316.80" stroke="#262626" stroke-width="2.2" />
<line x1="635.70" y1="362.90" x2="630.70" y2="362.90" stroke="#262626" stroke-width="2.2" />
<text x="647.2" y="95.0" font-size="31.5" text-anchor="start" fill="#262626" >-40</text>
<text x="647.2" y="187.0" font-size="31.5" text-anchor="start" fill="#262626" >-60</text>
<text x="646.1" y="279.3" font-size="31.5" text-anchor="start" fill="#262626" >-80</text>
<text x="644.8" y="371.6" font-size="31.5" text-anchor="start" fill="#262626" >-100</text>
<text x="599" y="28.6" font-size="31.5" text-anchor="start" fill="#262626" >|S<tspan dy="10" font-size="18.5">tot</tspan><tspan dy="-10" font-size="1">&#8203;</tspan>|<tspan dy="-11" font-size="18.5">2</tspan><tspan dy="11" font-size="1">&#8203;</tspan> (dB)</text>
<rect x="868.6" y="3.5" width="461.69999999999993" height="355.9" fill="none" stroke="#262626" stroke-width="2.5"/>
<line x1="1022.50" y1="3.50" x2="1022.50" y2="14.00" stroke="#262626" stroke-width="2.5" />
<line x1="1022.50" y1="359.40" x2="1022.50" y2="348.90" stroke="#262626" stroke-width="2.5" />
<line x1="1176.40" y1="3.50" x2="1176.40" y2="14.00" stroke="#262626" stroke-width="2.5" />
<line x1="1176.40" y1="359.40" x2="1176.40" y2="348.90" stroke="#262626" stroke-width="2.5" />
<line x1="868.60" y1="36.20" x2="879.10" y2="36.20" stroke="#262626" stroke-width="2.5" />
<line x1="1330.30" y1="36.20" x2="1319.80" y2="36.20" stroke="#262626" stroke-width="2.5" />
<line x1="868.60" y1="128.46" x2="879.10" y2="128.46" stroke="#262626" stroke-width="2.5" />
<line x1="1330.30" y1="128.46" x2="1319.80" y2="128.46" stroke="#262626" stroke-width="2.5" />
<line x1="868.60" y1="220.72" x2="879.10" y2="220.72" stroke="#262626" stroke-width="2.5" />
<line x1="1330.30" y1="220.72" x2="1319.80" y2="220.72" stroke="#262626" stroke-width="2.5" />
<line x1="868.60" y1="312.98" x2="879.10" y2="312.98" stroke="#262626" stroke-width="2.5" />
<line x1="1330.30" y1="312.98" x2="1319.80" y2="312.98" stroke="#262626" stroke-width="2.5" />
<text x="856" y="44.6" font-size="31.5" text-anchor="end" fill="#000" >-40</text>
<text x="856.2" y="140.7" font-size="31.5" text-anchor="end" fill="#000" >-60</text>
<text x="856.1" y="232.3" font-size="31.5" text-anchor="end" fill="#000" >-80</text>
<text x="858.5" y="326.6" font-size="31.5" text-anchor="end" fill="#000" >-100</text>
<text x="867.3" y="396.7" font-size="31.5" text-anchor="middle" fill="#000" >7.215</text>
<text x="1016.8" y="396.7" font-size="31.5" text-anchor="middle" fill="#000" >7.216</text>
<text x="1174.5" y="396.7" font-size="31.5" text-anchor="middle" fill="#000" >7.217</text>
<text x="1322.6" y="396.7" font-size="31.5" text-anchor="middle" fill="#000" >7.218</text>
<text x="1020" y="429.5" font-size="31.5" text-anchor="start" fill="#000" ><tspan font-style="italic">ω</tspan><tspan dy="10.9" font-size="18.5">p</tspan><tspan dy="-10.9" font-size="1">&#8203;</tspan>/<tspan dx="-1">2</tspan><tspan dx="-2.9">π</tspan><tspan dx="-1.3"> (GHz)</tspan></text>
<text transform="translate(788.7,247) rotate(-90)" font-size="31.5" fill="#000">|S<tspan dy="8" font-size="18.5">tot</tspan><tspan dy="-8" font-size="1">&#8203;</tspan>|<tspan dy="-11" font-size="18.5">2</tspan><tspan dy="11" font-size="1">&#8203;</tspan> (dB)</text>
<text x="753" y="23.4" font-size="31.5" text-anchor="start" fill="#000" font-weight="bold">b</text>
<clipPath id="cpb"><rect x="867.1" y="3.5" width="464.69999999999993" height="355.9"/></clipPath>
<g clip-path="url(#cpb)" fill="none" stroke-linejoin="round">
<path d="M866.6,19.7 L868.6,19.9 L870.6,20.2 L872.6,20.4 L874.6,20.7 L876.6,21.0 L878.6,21.2 L880.6,21.5 L882.6,21.8 L884.6,22.0 L886.6,22.3 L888.6,22.6 L890.6,22.9 L892.6,23.2 L894.6,23.5 L896.6,23.8 L898.6,24.1 L900.6,24.4 L902.6,24.7 L904.6,25.0 L906.6,25.3 L908.6,25.6 L910.6,25.9 L912.6,26.3 L914.6,26.6 L916.6,26.9 L918.6,27.2 L920.6,27.6 L922.6,27.9 L924.6,28.3 L926.6,28.6 L928.6,29.0 L930.6,29.4 L932.6,29.7 L934.6,30.1 L936.6,30.5 L938.6,30.9 L940.6,31.2 L942.6,31.6 L944.6,31.9 L946.6,32.3 L948.6,32.7 L950.6,33.0 L952.6,33.4 L954.6,33.8 L956.6,34.2 L958.6,34.6 L960.6,35.0 L962.6,35.4 L964.6,35.9 L966.6,36.3 L968.6,36.7 L970.6,37.2 L972.6,37.6 L974.6,38.1 L976.6,38.5 L978.6,39.0 L980.6,39.5 L982.6,40.0 L984.6,40.5 L986.6,41.1 L988.6,41.6 L990.6,42.2 L992.6,42.7 L994.6,43.3 L996.6,43.9 L998.6,44.5 L1000.6,45.2 L1002.6,45.8 L1004.6,46.5 L1006.6,47.2 L1008.6,47.9 L1010.6,48.7 L1012.6,49.4 L1014.6,50.2 L1016.6,50.9 L1018.6,51.7 L1020.6,52.5 L1022.6,53.4 L1024.6,54.2 L1026.6,55.1 L1028.6,56.0 L1030.6,56.9 L1032.6,57.8 L1034.6,58.8 L1036.6,59.7 L1038.6,60.7 L1040.6,61.8 L1042.6,62.8 L1044.6,63.9 L1046.6,65.0 L1048.6,66.1 L1050.6,67.2 L1052.6,68.4 L1054.6,69.6 L1056.6,70.8 L1058.6,72.1 L1060.6,73.4 L1062.6,74.8 L1064.6,76.2 L1066.6,77.6 L1068.6,79.1 L1070.6,80.7 L1072.6,82.3 L1074.6,84.0 L1076.6,85.7 L1078.6,87.6 L1080.6,89.5 L1082.6,91.5 L1084.6,93.6 L1086.6,95.9 L1088.6,98.2 L1090.6,100.8 L1092.6,103.4 L1092.9,103.8 L1093.4,104.5 L1093.9,105.2 L1094.4,106.0 L1094.6,106.3 L1094.9,106.7 L1095.4,107.5 L1095.9,108.2 L1096.4,109.0 L1096.6,109.3 L1096.9,109.8 L1097.4,110.6 L1097.9,111.4 L1098.4,112.2 L1098.6,112.6 L1098.9,113.1 L1099.4,114.0 L1099.9,114.8 L1100.4,115.8 L1100.6,116.1 L1100.9,116.7 L1101.4,117.6 L1101.9,118.6 L1102.4,119.6 L1102.6,120.0 L1102.9,120.6 L1103.4,121.6 L1103.9,122.7 L1104.4,123.8 L1104.6,124.2 L1104.9,124.9 L1105.4,126.0 L1105.9,127.2 L1106.4,128.4 L1106.6,128.9 L1106.9,129.6 L1107.4,130.8 L1107.9,132.1 L1108.4,133.4 L1108.6,133.9 L1108.9,134.7 L1109.4,136.1 L1109.9,137.5 L1110.4,139.0 L1110.6,139.6 L1110.9,140.5 L1111.4,142.1 L1111.9,143.7 L1112.4,145.4 L1112.6,146.1 L1112.9,147.2 L1113.4,149.0 L1113.9,151.0 L1114.4,153.0 L1114.6,153.8 L1114.9,155.0 L1115.4,157.2 L1115.9,159.5 L1116.4,161.8 L1116.6,162.8 L1116.9,164.3 L1117.4,166.8 L1117.9,169.5 L1118.4,172.3 L1118.5,172.9 L1118.6,173.5 L1118.6,173.5 L1118.7,174.0 L1118.8,174.6 L1118.9,175.2 L1119.0,175.8 L1119.1,176.4 L1119.2,177.0 L1119.3,177.6 L1119.4,178.2 L1119.5,178.7 L1119.6,179.1 L1119.7,179.6 L1119.8,180.1 L1119.9,180.5 L1120.0,181.0 L1120.1,181.5 L1120.2,181.9 L1120.3,182.4 L1120.4,182.9 L1120.5,183.3 L1120.6,183.8 L1120.6,183.8 L1120.7,184.2 L1120.8,184.7 L1120.9,185.1 L1121.0,185.6 L1121.1,186.0 L1121.2,186.5 L1121.3,186.9 L1121.4,187.3 L1121.5,187.7 L1121.6,188.1 L1121.7,188.4 L1121.8,188.8 L1121.9,189.1 L1122.0,189.4 L1122.1,189.7 L1122.2,190.0 L1122.3,190.2 L1122.4,190.3 L1122.5,190.2 L1122.6,190.0 L1122.6,190.0 L1122.7,189.7 L1122.8,189.5 L1122.9,189.1 L1123.0,188.8 L1123.1,188.5 L1123.2,188.1 L1123.3,187.7 L1123.4,187.3 L1123.5,186.9 L1123.6,186.5 L1123.7,186.0 L1123.8,185.6 L1123.9,185.2 L1124.0,184.7 L1124.1,184.3 L1124.2,183.8 L1124.3,183.4 L1124.4,182.9 L1124.5,182.4 L1124.6,182.0 L1124.6,182.0 L1124.7,181.5 L1124.8,181.0 L1124.9,180.6 L1125.0,180.1 L1125.1,179.6 L1125.2,179.2 L1125.3,178.7 L1125.4,178.3 L1125.5,177.7 L1125.6,177.1 L1125.7,176.5 L1125.8,175.9 L1125.9,175.3 L1126.0,174.7 L1126.1,174.1 L1126.2,173.5 L1126.3,172.9 L1126.4,172.4 L1126.6,171.2 L1126.9,169.6 L1127.4,166.9 L1127.9,164.4 L1128.4,161.9 L1128.6,161.0 L1128.9,159.6 L1129.4,157.4 L1129.9,155.2 L1130.4,153.1 L1130.6,152.3 L1130.9,151.1 L1131.4,149.2 L1131.9,147.4 L1132.4,145.6 L1132.6,144.9 L1132.9,143.9 L1133.4,142.3 L1133.9,140.7 L1134.4,139.2 L1134.6,138.6 L1134.9,137.7 L1135.4,136.3 L1135.9,135.0 L1136.4,133.6 L1136.6,133.1 L1136.9,132.4 L1137.4,131.1 L1137.9,129.9 L1138.4,128.7 L1138.6,128.2 L1138.9,127.5 L1139.4,126.4 L1139.9,125.2 L1140.4,124.1 L1140.6,123.7 L1140.9,123.0 L1141.4,122.0 L1141.9,121.0 L1142.4,120.0 L1142.6,119.6 L1142.9,119.0 L1143.4,118.0 L1143.9,117.1 L1144.4,116.2 L1144.6,115.8 L1144.9,115.3 L1145.4,114.4 L1145.9,113.6 L1146.4,112.7 L1146.6,112.4 L1146.9,111.9 L1147.4,111.1 L1147.9,110.3 L1148.4,109.5 L1148.6,109.2 L1148.9,108.7 L1149.4,108.0 L1149.9,107.3 L1150.4,106.5 L1150.6,106.2 L1150.9,105.8 L1151.4,105.1 L1151.9,104.4 L1152.6,103.5 L1154.6,100.9 L1156.6,98.5 L1158.6,96.2 L1160.6,94.0 L1162.6,92.0 L1164.6,90.0 L1166.6,88.2 L1168.6,86.4 L1170.6,84.7 L1172.6,83.1 L1174.6,81.6 L1176.6,80.1 L1178.6,78.7 L1180.6,77.3 L1182.6,76.0 L1184.6,74.7 L1186.6,73.4 L1188.6,72.2 L1190.6,71.1 L1192.6,69.9 L1194.6,68.8 L1196.6,67.8 L1198.6,66.8 L1200.6,65.8 L1202.6,64.8 L1204.6,63.9 L1206.6,63.0 L1208.6,62.1 L1210.6,61.2 L1212.6,60.4 L1214.6,59.6 L1216.6,58.8 L1218.6,58.0 L1220.6,57.2 L1222.6,56.5 L1224.6,55.7 L1226.6,55.0 L1228.6,54.3 L1230.6,53.6 L1232.6,53.0 L1234.6,52.3 L1236.6,51.7 L1238.6,51.0 L1240.6,50.4 L1242.6,49.8 L1244.6,49.2 L1246.6,48.6 L1248.6,48.0 L1250.6,47.4 L1252.6,46.9 L1254.6,46.3 L1256.6,45.8 L1258.6,45.3 L1260.6,44.8 L1262.6,44.3 L1264.6,43.8 L1266.6,43.3 L1268.6,42.8 L1270.6,42.4 L1272.6,41.9 L1274.6,41.5 L1276.6,41.0 L1278.6,40.6 L1280.6,40.2 L1282.6,39.8 L1284.6,39.4 L1286.6,39.0 L1288.6,38.6 L1290.6,38.2 L1292.6,37.8 L1294.6,37.4 L1296.6,37.1 L1298.6,36.7 L1300.6,36.4 L1302.6,36.0 L1304.6,35.7 L1306.6,35.3 L1308.6,35.0 L1310.6,34.7 L1312.6,34.4 L1314.6,34.0 L1316.6,33.7 L1318.6,33.4 L1320.6,33.1 L1322.6,32.8 L1324.6,32.5 L1326.6,32.3 L1328.6,32.0 L1330.6,31.7" stroke="#8c1cf0" stroke-width="3.2"/>
<path d="M866.6,20.6 L868.6,20.8 L870.6,21.1 L872.6,21.3 L874.6,21.6 L876.6,21.9 L878.6,22.1 L880.6,22.4 L882.6,22.7 L884.6,22.9 L886.6,23.2 L888.6,23.5 L890.6,23.8 L892.6,24.1 L894.6,24.4 L896.6,24.7 L898.6,25.0 L900.6,25.3 L902.6,25.6 L904.6,25.9 L906.6,26.2 L908.6,26.5 L910.6,26.8 L912.6,27.2 L914.6,27.5 L916.6,27.8 L918.6,28.1 L920.6,28.5 L922.6,28.8 L924.6,29.2 L926.6,29.5 L928.6,29.9 L930.6,30.3 L932.6,30.6 L934.6,31.0 L936.6,31.4 L938.6,31.8 L940.6,32.1 L942.6,32.5 L944.6,32.8 L946.6,33.2 L948.6,33.6 L950.6,33.9 L952.6,34.3 L954.6,34.7 L956.6,35.1 L958.6,35.5 L960.6,35.9 L962.6,36.3 L964.6,36.8 L966.6,37.2 L968.6,37.6 L970.6,38.1 L972.6,38.5 L974.6,39.0 L976.6,39.4 L978.6,39.9 L980.6,40.4 L982.6,40.9 L984.6,41.4 L986.6,41.9 L988.6,42.5 L990.6,43.0 L992.6,43.5 L994.6,44.1 L996.6,44.7 L998.6,45.3 L1000.6,45.9 L1002.6,46.5 L1004.6,47.1 L1006.6,47.7 L1008.6,48.4 L1010.6,49.1 L1012.6,49.7 L1014.6,50.4 L1016.6,51.1 L1018.6,51.9 L1020.6,52.6 L1022.6,53.4 L1024.6,54.2 L1026.6,55.0 L1028.6,55.8 L1030.6,56.6 L1032.6,57.5 L1034.6,58.4 L1036.6,59.3 L1038.6,60.2 L1040.6,61.2 L1042.6,62.1 L1044.6,63.1 L1046.6,64.2 L1048.6,65.2 L1050.6,66.3 L1052.6,67.5 L1054.6,68.6 L1056.6,69.8 L1058.6,71.1 L1060.6,72.4 L1062.6,73.7 L1064.6,75.1 L1066.6,76.5 L1068.6,78.0 L1070.6,79.5 L1072.6,81.1 L1074.6,82.8 L1076.6,84.5 L1078.6,86.3 L1080.6,88.2 L1082.6,90.2 L1084.6,92.3 L1086.6,94.5 L1088.6,96.8 L1090.6,99.3 L1092.6,101.9 L1092.9,102.3 L1093.4,103.0 L1093.9,103.7 L1094.4,104.4 L1094.6,104.6 L1094.9,105.1 L1095.4,105.8 L1095.9,106.6 L1096.4,107.3 L1096.6,107.6 L1096.9,108.1 L1097.4,108.9 L1097.9,109.7 L1098.4,110.5 L1098.6,110.8 L1098.9,111.3 L1099.4,112.1 L1099.9,113.0 L1100.4,113.9 L1100.6,114.2 L1100.9,114.8 L1101.4,115.7 L1101.9,116.6 L1102.4,117.6 L1102.6,118.0 L1102.9,118.6 L1103.4,119.6 L1103.9,120.6 L1104.4,121.7 L1104.6,122.1 L1104.9,122.7 L1105.4,123.8 L1105.9,125.0 L1106.4,126.1 L1106.6,126.6 L1106.9,127.3 L1107.4,128.5 L1107.9,129.7 L1108.4,131.0 L1108.6,131.5 L1108.9,132.2 L1109.4,133.6 L1109.9,134.9 L1110.4,136.3 L1110.6,136.9 L1110.9,137.8 L1111.4,139.3 L1111.9,140.8 L1112.4,142.5 L1112.6,143.1 L1112.9,144.1 L1113.4,145.9 L1113.9,147.7 L1114.4,149.6 L1114.6,150.4 L1114.9,151.5 L1115.4,153.6 L1115.9,155.7 L1116.4,158.0 L1116.6,158.9 L1116.9,160.3 L1117.4,162.8 L1117.9,165.3 L1118.4,168.0 L1118.5,168.6 L1118.6,169.1 L1118.6,169.1 L1118.7,169.7 L1118.8,170.3 L1118.9,170.8 L1119.0,171.4 L1119.1,172.0 L1119.2,172.6 L1119.3,173.1 L1119.4,173.7 L1119.5,174.3 L1119.6,174.9 L1119.7,175.5 L1119.8,176.1 L1119.9,176.7 L1120.0,177.4 L1120.1,178.0 L1120.2,178.6 L1120.3,179.2 L1120.4,179.8 L1120.5,180.4 L1120.6,181.1 L1120.6,181.1 L1120.7,181.7 L1120.8,182.3 L1120.9,182.9 L1121.0,183.5 L1121.1,184.1 L1121.2,184.7 L1121.3,185.3 L1121.4,185.9 L1121.5,186.5 L1121.6,187.0 L1121.7,187.6 L1121.8,188.1 L1121.9,188.6 L1122.0,189.0 L1122.1,189.4 L1122.2,189.8 L1122.3,190.1 L1122.4,190.3 L1122.5,190.1 L1122.6,189.8 L1122.6,189.8 L1122.7,189.5 L1122.8,189.0 L1122.9,188.6 L1123.0,188.1 L1123.1,187.6 L1123.2,187.0 L1123.3,186.5 L1123.4,185.9 L1123.5,185.3 L1123.6,184.8 L1123.7,184.2 L1123.8,183.6 L1123.9,182.9 L1124.0,182.3 L1124.1,181.7 L1124.2,181.1 L1124.3,180.5 L1124.4,179.9 L1124.5,179.3 L1124.6,178.6 L1124.6,178.6 L1124.7,178.0 L1124.8,177.4 L1124.9,176.8 L1125.0,176.2 L1125.1,175.6 L1125.2,175.0 L1125.3,174.4 L1125.4,173.8 L1125.5,173.2 L1125.6,172.6 L1125.7,172.0 L1125.8,171.5 L1125.9,170.9 L1126.0,170.3 L1126.1,169.8 L1126.2,169.2 L1126.3,168.7 L1126.4,168.1 L1126.6,167.0 L1126.9,165.4 L1127.4,162.9 L1127.9,160.4 L1128.4,158.1 L1128.6,157.2 L1128.9,155.9 L1129.4,153.7 L1129.9,151.7 L1130.4,149.7 L1130.6,149.0 L1130.9,147.9 L1131.4,146.1 L1131.9,144.3 L1132.4,142.7 L1132.6,142.0 L1132.9,141.1 L1133.4,139.5 L1133.9,138.0 L1134.4,136.6 L1134.6,136.0 L1134.9,135.2 L1135.4,133.8 L1135.9,132.5 L1136.4,131.3 L1136.6,130.8 L1136.9,130.0 L1137.4,128.8 L1137.9,127.6 L1138.4,126.4 L1138.6,126.0 L1138.9,125.3 L1139.4,124.2 L1139.9,123.1 L1140.4,122.0 L1140.6,121.6 L1140.9,121.0 L1141.4,120.0 L1141.9,119.0 L1142.4,118.0 L1142.6,117.6 L1142.9,117.1 L1143.4,116.1 L1143.9,115.2 L1144.4,114.3 L1144.6,114.0 L1144.9,113.5 L1145.4,112.6 L1145.9,111.8 L1146.4,111.0 L1146.6,110.6 L1146.9,110.2 L1147.4,109.4 L1147.9,108.6 L1148.4,107.8 L1148.6,107.5 L1148.9,107.1 L1149.4,106.4 L1149.9,105.6 L1150.4,104.9 L1150.6,104.7 L1150.9,104.2 L1151.4,103.6 L1151.9,102.9 L1152.6,102.0 L1154.6,99.4 L1156.6,97.0 L1158.6,94.8 L1160.6,92.6 L1162.6,90.6 L1164.6,88.7 L1166.6,86.9 L1168.6,85.1 L1170.6,83.4 L1172.6,81.8 L1174.6,80.3 L1176.6,78.8 L1178.6,77.4 L1180.6,76.0 L1182.6,74.6 L1184.6,73.3 L1186.6,72.1 L1188.6,70.8 L1190.6,69.6 L1192.6,68.5 L1194.6,67.4 L1196.6,66.3 L1198.6,65.3 L1200.6,64.2 L1202.6,63.2 L1204.6,62.3 L1206.6,61.3 L1208.6,60.4 L1210.6,59.5 L1212.6,58.7 L1214.6,57.8 L1216.6,57.0 L1218.6,56.2 L1220.6,55.4 L1222.6,54.7 L1224.6,53.9 L1226.6,53.2 L1228.6,52.5 L1230.6,51.8 L1232.6,51.1 L1234.6,50.4 L1236.6,49.8 L1238.6,49.1 L1240.6,48.5 L1242.6,47.9 L1244.6,47.3 L1246.6,46.7 L1248.6,46.1 L1250.6,45.6 L1252.6,45.0 L1254.6,44.5 L1256.6,43.9 L1258.6,43.4 L1260.6,42.9 L1262.6,42.4 L1264.6,41.9 L1266.6,41.4 L1268.6,41.0 L1270.6,40.5 L1272.6,40.1 L1274.6,39.6 L1276.6,39.2 L1278.6,38.8 L1280.6,38.3 L1282.6,37.9 L1284.6,37.5 L1286.6,37.1 L1288.6,36.7 L1290.6,36.4 L1292.6,36.0 L1294.6,35.6 L1296.6,35.2 L1298.6,34.9 L1300.6,34.5 L1302.6,34.2 L1304.6,33.9 L1306.6,33.5 L1308.6,33.2 L1310.6,32.9 L1312.6,32.6 L1314.6,32.2 L1316.6,31.9 L1318.6,31.6 L1320.6,31.3 L1322.6,31.0 L1324.6,30.8 L1326.6,30.5 L1328.6,30.2 L1330.6,29.9" stroke="#000" stroke-width="2.3"/>
<path d="M866.6,20.7 L868.6,20.9 L870.6,21.2 L872.6,21.5 L874.6,21.8 L876.6,22.1 L878.6,22.3 L880.6,22.6 L882.6,22.9 L884.6,23.2 L886.6,23.5 L888.6,23.8 L890.6,24.1 L892.6,24.4 L894.6,24.7 L896.6,25.0 L898.6,25.4 L900.6,25.7 L902.6,26.0 L904.6,26.3 L906.6,26.7 L908.6,27.0 L910.6,27.3 L912.6,27.7 L914.6,28.0 L916.6,28.4 L918.6,28.8 L920.6,29.1 L922.6,29.5 L924.6,29.9 L926.6,30.2 L928.6,30.6 L930.6,31.0 L932.6,31.4 L934.6,31.8 L936.6,32.2 L938.6,32.6 L940.6,33.1 L942.6,33.4 L944.6,33.8 L946.6,34.2 L948.6,34.6 L950.6,35.0 L952.6,35.4 L954.6,35.9 L956.6,36.3 L958.6,36.7 L960.6,37.2 L962.6,37.6 L964.6,38.1 L966.6,38.6 L968.6,39.0 L970.6,39.5 L972.6,40.0 L974.6,40.5 L976.6,41.1 L978.6,41.6 L980.6,42.2 L982.6,42.7 L984.6,43.3 L986.6,43.9 L988.6,44.5 L990.6,45.2 L992.6,45.8 L994.6,46.5 L996.6,47.2 L998.6,47.9 L1000.6,48.6 L1002.6,49.3 L1004.6,50.1 L1006.6,50.9 L1008.6,51.7 L1010.6,52.5 L1012.6,53.3 L1014.6,54.2 L1016.6,55.0 L1018.6,55.9 L1020.6,56.8 L1022.6,57.8 L1024.6,58.7 L1026.6,59.7 L1028.6,60.7 L1030.6,61.7 L1032.6,62.7 L1034.6,63.8 L1036.6,64.9 L1038.6,66.0 L1040.6,67.1 L1042.6,68.3 L1044.6,69.5 L1046.6,70.8 L1048.6,72.0 L1050.6,73.3 L1052.6,74.7 L1054.6,76.1 L1056.6,77.5 L1058.6,79.0 L1060.6,80.5 L1062.6,82.2 L1064.6,83.8 L1066.6,85.6 L1068.6,87.4 L1070.6,89.3 L1072.6,91.3 L1074.6,93.5 L1076.6,95.7 L1078.6,98.0 L1080.6,100.5 L1082.6,103.2 L1083.5,104.4 L1084.0,105.1 L1084.5,105.8 L1084.6,106.0 L1085.0,106.6 L1085.5,107.3 L1086.0,108.1 L1086.5,108.9 L1086.6,109.0 L1087.0,109.6 L1087.5,110.4 L1088.0,111.3 L1088.5,112.1 L1088.6,112.3 L1089.0,112.9 L1089.5,113.8 L1090.0,114.7 L1090.5,115.6 L1090.6,115.8 L1091.0,116.5 L1091.5,117.5 L1092.0,118.4 L1092.5,119.4 L1092.6,119.6 L1093.0,120.4 L1093.5,121.5 L1094.0,122.5 L1094.5,123.6 L1094.6,123.8 L1095.0,124.7 L1095.5,125.8 L1096.0,127.0 L1096.5,128.2 L1096.6,128.5 L1097.0,129.4 L1097.5,130.7 L1098.0,132.0 L1098.5,133.2 L1098.6,133.5 L1099.0,134.6 L1099.5,136.0 L1100.0,137.4 L1100.5,138.9 L1100.6,139.2 L1101.0,140.4 L1101.5,142.0 L1102.0,143.6 L1102.5,145.4 L1102.6,145.7 L1103.0,147.2 L1103.5,149.0 L1104.0,151.0 L1104.5,153.0 L1104.6,153.4 L1105.0,155.1 L1105.5,157.4 L1106.0,159.7 L1106.5,162.2 L1106.6,162.7 L1107.0,164.7 L1107.5,167.4 L1108.0,170.2 L1108.5,173.2 L1108.6,173.9 L1109.0,176.4 L1109.1,177.1 L1109.2,177.7 L1109.3,178.4 L1109.4,179.1 L1109.5,179.7 L1109.6,180.4 L1109.7,181.1 L1109.8,181.8 L1109.9,182.5 L1110.0,183.2 L1110.1,183.8 L1110.2,184.3 L1110.3,184.9 L1110.4,185.4 L1110.5,186.0 L1110.6,186.5 L1110.7,187.1 L1110.8,187.7 L1110.9,188.2 L1111.0,188.8 L1111.1,189.4 L1111.2,189.9 L1111.3,190.5 L1111.4,191.0 L1111.5,191.6 L1111.6,192.1 L1111.7,192.7 L1111.8,193.2 L1111.9,193.7 L1112.0,194.2 L1112.1,194.7 L1112.2,195.2 L1112.3,195.7 L1112.4,196.2 L1112.5,196.6 L1112.6,197.0 L1112.7,197.4 L1112.8,197.7 L1112.9,197.9 L1113.0,198.1 L1113.1,197.9 L1113.2,197.7 L1113.3,197.4 L1113.4,197.0 L1113.5,196.6 L1113.6,196.2 L1113.7,195.7 L1113.8,195.3 L1113.9,194.8 L1114.0,194.3 L1114.1,193.7 L1114.2,193.2 L1114.3,192.7 L1114.4,192.2 L1114.5,191.6 L1114.6,191.1 L1114.7,190.5 L1114.8,189.9 L1114.9,189.4 L1115.0,188.8 L1115.1,188.3 L1115.2,187.7 L1115.3,187.2 L1115.4,186.6 L1115.5,186.0 L1115.6,185.5 L1115.7,184.9 L1115.8,184.4 L1115.9,183.8 L1116.0,183.3 L1116.1,182.6 L1116.2,181.9 L1116.3,181.2 L1116.4,180.5 L1116.5,179.8 L1116.6,179.1 L1116.7,178.5 L1116.8,177.8 L1116.9,177.1 L1117.0,176.5 L1117.5,173.3 L1118.0,170.3 L1118.5,167.5 L1118.6,167.0 L1119.0,164.8 L1119.5,162.3 L1120.0,159.9 L1120.5,157.5 L1120.6,157.1 L1121.0,155.3 L1121.5,153.2 L1122.0,151.2 L1122.5,149.2 L1122.6,148.9 L1123.0,147.4 L1123.5,145.6 L1124.0,143.9 L1124.5,142.3 L1124.6,141.9 L1125.0,140.7 L1125.5,139.2 L1126.0,137.7 L1126.5,136.3 L1126.6,136.0 L1127.0,134.9 L1127.5,133.6 L1128.0,132.3 L1128.5,131.1 L1128.6,130.8 L1129.0,129.8 L1129.5,128.6 L1130.0,127.4 L1130.5,126.2 L1130.6,126.0 L1131.0,125.1 L1131.5,124.0 L1132.0,122.9 L1132.5,121.9 L1132.6,121.7 L1133.0,120.9 L1133.5,119.9 L1134.0,118.9 L1134.5,118.0 L1134.6,117.8 L1135.0,117.0 L1135.5,116.1 L1136.0,115.2 L1136.5,114.4 L1136.6,114.2 L1137.0,113.5 L1137.5,112.7 L1138.0,111.8 L1138.5,111.0 L1138.6,110.9 L1139.0,110.2 L1139.5,109.5 L1140.0,108.7 L1140.5,108.0 L1140.6,107.8 L1141.0,107.2 L1141.5,106.5 L1142.0,105.8 L1142.5,105.1 L1142.6,105.0 L1144.6,102.3 L1146.6,99.8 L1148.6,97.4 L1150.6,95.2 L1152.6,93.1 L1154.6,91.1 L1156.6,89.3 L1158.6,87.5 L1160.6,85.7 L1162.6,84.1 L1164.6,82.5 L1166.6,81.0 L1168.6,79.6 L1170.6,78.2 L1172.6,76.9 L1174.6,75.6 L1176.6,74.4 L1178.6,73.2 L1180.6,72.1 L1182.6,70.9 L1184.6,69.8 L1186.6,68.8 L1188.6,67.7 L1190.6,66.7 L1192.6,65.7 L1194.6,64.8 L1196.6,63.9 L1198.6,63.0 L1200.6,62.1 L1202.6,61.3 L1204.6,60.5 L1206.6,59.7 L1208.6,58.9 L1210.6,58.1 L1212.6,57.4 L1214.6,56.6 L1216.6,55.9 L1218.6,55.2 L1220.6,54.5 L1222.6,53.8 L1224.6,53.2 L1226.6,52.5 L1228.6,51.9 L1230.6,51.3 L1232.6,50.7 L1234.6,50.1 L1236.6,49.5 L1238.6,48.9 L1240.6,48.3 L1242.6,47.8 L1244.6,47.2 L1246.6,46.7 L1248.6,46.2 L1250.6,45.7 L1252.6,45.2 L1254.6,44.7 L1256.6,44.2 L1258.6,43.7 L1260.6,43.2 L1262.6,42.8 L1264.6,42.3 L1266.6,41.9 L1268.6,41.5 L1270.6,41.1 L1272.6,40.6 L1274.6,40.2 L1276.6,39.8 L1278.6,39.4 L1280.6,39.1 L1282.6,38.7 L1284.6,38.3 L1286.6,38.0 L1288.6,37.6 L1290.6,37.2 L1292.6,36.9 L1294.6,36.6 L1296.6,36.2 L1298.6,35.9 L1300.6,35.6 L1302.6,35.3 L1304.6,34.9 L1306.6,34.6 L1308.6,34.3 L1310.6,34.0 L1312.6,33.8 L1314.6,33.5 L1316.6,33.2 L1318.6,32.9 L1320.6,32.6 L1322.6,32.4 L1324.6,32.1 L1326.6,31.8 L1328.6,31.6 L1330.6,31.3" stroke="#3cb01c" stroke-width="3.2"/>
<path d="M866.6,21.6 L868.6,21.8 L870.6,22.1 L872.6,22.4 L874.6,22.7 L876.6,23.0 L878.6,23.2 L880.6,23.5 L882.6,23.8 L884.6,24.1 L886.6,24.4 L888.6,24.7 L890.6,25.0 L892.6,25.3 L894.6,25.6 L896.6,25.9 L898.6,26.3 L900.6,26.6 L902.6,26.9 L904.6,27.2 L906.6,27.6 L908.6,27.9 L910.6,28.2 L912.6,28.6 L914.6,28.9 L916.6,29.3 L918.6,29.7 L920.6,30.0 L922.6,30.4 L924.6,30.8 L926.6,31.1 L928.6,31.5 L930.6,31.9 L932.6,32.3 L934.6,32.7 L936.6,33.1 L938.6,33.5 L940.6,34.0 L942.6,34.3 L944.6,34.7 L946.6,35.1 L948.6,35.5 L950.6,35.9 L952.6,36.3 L954.6,36.8 L956.6,37.2 L958.6,37.6 L960.6,38.1 L962.6,38.5 L964.6,39.0 L966.6,39.5 L968.6,39.9 L970.6,40.4 L972.6,40.9 L974.6,41.4 L976.6,42.0 L978.6,42.5 L980.6,43.0 L982.6,43.6 L984.6,44.1 L986.6,44.7 L988.6,45.3 L990.6,45.9 L992.6,46.5 L994.6,47.1 L996.6,47.7 L998.6,48.4 L1000.6,49.0 L1002.6,49.7 L1004.6,50.4 L1006.6,51.1 L1008.6,51.8 L1010.6,52.6 L1012.6,53.3 L1014.6,54.1 L1016.6,54.9 L1018.6,55.7 L1020.6,56.6 L1022.6,57.4 L1024.6,58.3 L1026.6,59.2 L1028.6,60.1 L1030.6,61.1 L1032.6,62.1 L1034.6,63.1 L1036.6,64.1 L1038.6,65.2 L1040.6,66.3 L1042.6,67.4 L1044.6,68.6 L1046.6,69.8 L1048.6,71.0 L1050.6,72.3 L1052.6,73.6 L1054.6,75.0 L1056.6,76.4 L1058.6,77.9 L1060.6,79.4 L1062.6,81.0 L1064.6,82.6 L1066.6,84.4 L1068.6,86.2 L1070.6,88.1 L1072.6,90.0 L1074.6,92.1 L1076.6,94.3 L1078.6,96.6 L1080.6,99.0 L1082.6,101.6 L1083.5,102.8 L1084.0,103.5 L1084.5,104.2 L1084.6,104.4 L1085.0,105.0 L1085.5,105.7 L1086.0,106.4 L1086.5,107.2 L1086.6,107.3 L1087.0,107.9 L1087.5,108.7 L1088.0,109.5 L1088.5,110.3 L1088.6,110.5 L1089.0,111.2 L1089.5,112.0 L1090.0,112.9 L1090.5,113.7 L1090.6,113.9 L1091.0,114.6 L1091.5,115.6 L1092.0,116.5 L1092.5,117.4 L1092.6,117.6 L1093.0,118.4 L1093.5,119.4 L1094.0,120.4 L1094.5,121.5 L1094.6,121.7 L1095.0,122.6 L1095.5,123.7 L1096.0,124.8 L1096.5,125.9 L1096.6,126.2 L1097.0,127.1 L1097.5,128.4 L1098.0,129.6 L1098.5,130.8 L1098.6,131.1 L1099.0,132.1 L1099.5,133.4 L1100.0,134.8 L1100.5,136.2 L1100.6,136.5 L1101.0,137.7 L1101.5,139.2 L1102.0,140.8 L1102.5,142.4 L1102.6,142.7 L1103.0,144.1 L1103.5,145.8 L1104.0,147.7 L1104.5,149.6 L1104.6,150.0 L1105.0,151.6 L1105.5,153.7 L1106.0,155.9 L1106.5,158.2 L1106.6,158.6 L1107.0,160.6 L1107.5,163.1 L1108.0,165.8 L1108.5,168.6 L1108.6,169.2 L1109.0,171.6 L1109.1,172.2 L1109.2,172.9 L1109.3,173.5 L1109.4,174.1 L1109.5,174.8 L1109.6,175.4 L1109.7,176.1 L1109.8,176.7 L1109.9,177.4 L1110.0,178.1 L1110.1,178.8 L1110.2,179.5 L1110.3,180.2 L1110.4,180.9 L1110.5,181.6 L1110.6,182.3 L1110.7,183.0 L1110.8,183.7 L1110.9,184.5 L1111.0,185.2 L1111.1,185.9 L1111.2,186.7 L1111.3,187.4 L1111.4,188.1 L1111.5,188.9 L1111.6,189.6 L1111.7,190.4 L1111.8,191.1 L1111.9,191.8 L1112.0,192.5 L1112.1,193.2 L1112.2,193.9 L1112.3,194.6 L1112.4,195.3 L1112.5,195.9 L1112.6,196.5 L1112.7,197.0 L1112.8,197.5 L1112.9,197.9 L1113.0,198.1 L1113.1,197.9 L1113.2,197.5 L1113.3,197.0 L1113.4,196.5 L1113.5,195.9 L1113.6,195.3 L1113.7,194.6 L1113.8,194.0 L1113.9,193.3 L1114.0,192.6 L1114.1,191.9 L1114.2,191.1 L1114.3,190.4 L1114.4,189.7 L1114.5,188.9 L1114.6,188.2 L1114.7,187.4 L1114.8,186.7 L1114.9,186.0 L1115.0,185.2 L1115.1,184.5 L1115.2,183.8 L1115.3,183.1 L1115.4,182.3 L1115.5,181.6 L1115.6,180.9 L1115.7,180.2 L1115.8,179.5 L1115.9,178.8 L1116.0,178.2 L1116.1,177.5 L1116.2,176.8 L1116.3,176.2 L1116.4,175.5 L1116.5,174.8 L1116.6,174.2 L1116.7,173.6 L1116.8,172.9 L1116.9,172.3 L1117.0,171.7 L1117.5,168.7 L1118.0,165.9 L1118.5,163.2 L1118.6,162.7 L1119.0,160.7 L1119.5,158.3 L1120.0,156.0 L1120.5,153.8 L1120.6,153.4 L1121.0,151.8 L1121.5,149.8 L1122.0,147.9 L1122.5,146.1 L1122.6,145.7 L1123.0,144.3 L1123.5,142.6 L1124.0,141.0 L1124.5,139.5 L1124.6,139.2 L1125.0,138.0 L1125.5,136.5 L1126.0,135.1 L1126.5,133.8 L1126.6,133.5 L1127.0,132.5 L1127.5,131.2 L1128.0,130.0 L1128.5,128.7 L1128.6,128.5 L1129.0,127.5 L1129.5,126.3 L1130.0,125.2 L1130.5,124.1 L1130.6,123.9 L1131.0,123.0 L1131.5,121.9 L1132.0,120.9 L1132.5,119.9 L1132.6,119.7 L1133.0,118.9 L1133.5,117.9 L1134.0,117.0 L1134.5,116.1 L1134.6,115.9 L1135.0,115.2 L1135.5,114.3 L1136.0,113.4 L1136.5,112.6 L1136.6,112.4 L1137.0,111.7 L1137.5,110.9 L1138.0,110.1 L1138.5,109.3 L1138.6,109.2 L1139.0,108.6 L1139.5,107.8 L1140.0,107.1 L1140.5,106.3 L1140.6,106.2 L1141.0,105.6 L1141.5,104.9 L1142.0,104.2 L1142.5,103.5 L1142.6,103.4 L1144.6,100.8 L1146.6,98.4 L1148.6,96.0 L1150.6,93.9 L1152.6,91.8 L1154.6,89.8 L1156.6,88.0 L1158.6,86.2 L1160.6,84.5 L1162.6,82.8 L1164.6,81.3 L1166.6,79.7 L1168.6,78.3 L1170.6,76.9 L1172.6,75.6 L1174.6,74.3 L1176.6,73.0 L1178.6,71.8 L1180.6,70.6 L1182.6,69.5 L1184.6,68.4 L1186.6,67.3 L1188.6,66.2 L1190.6,65.2 L1192.6,64.2 L1194.6,63.2 L1196.6,62.3 L1198.6,61.4 L1200.6,60.5 L1202.6,59.6 L1204.6,58.7 L1206.6,57.9 L1208.6,57.1 L1210.6,56.3 L1212.6,55.6 L1214.6,54.8 L1216.6,54.1 L1218.6,53.4 L1220.6,52.7 L1222.6,52.0 L1224.6,51.3 L1226.6,50.6 L1228.6,50.0 L1230.6,49.4 L1232.6,48.8 L1234.6,48.2 L1236.6,47.6 L1238.6,47.0 L1240.6,46.4 L1242.6,45.9 L1244.6,45.3 L1246.6,44.8 L1248.6,44.3 L1250.6,43.8 L1252.6,43.3 L1254.6,42.8 L1256.6,42.3 L1258.6,41.8 L1260.6,41.4 L1262.6,40.9 L1264.6,40.5 L1266.6,40.1 L1268.6,39.6 L1270.6,39.2 L1272.6,38.8 L1274.6,38.4 L1276.6,38.0 L1278.6,37.6 L1280.6,37.2 L1282.6,36.9 L1284.6,36.5 L1286.6,36.1 L1288.6,35.8 L1290.6,35.4 L1292.6,35.1 L1294.6,34.8 L1296.6,34.4 L1298.6,34.1 L1300.6,33.8 L1302.6,33.5 L1304.6,33.2 L1306.6,32.8 L1308.6,32.5 L1310.6,32.3 L1312.6,32.0 L1314.6,31.7 L1316.6,31.4 L1318.6,31.1 L1320.6,30.8 L1322.6,30.6 L1324.6,30.3 L1326.6,30.1 L1328.6,29.8 L1330.6,29.6" stroke="#000" stroke-width="2.3"/>
<path d="M866.6,24.1 L868.6,24.3 L870.6,24.6 L872.6,24.9 L874.6,25.2 L876.6,25.5 L878.6,25.8 L880.6,26.1 L882.6,26.5 L884.6,26.8 L886.6,27.1 L888.6,27.4 L890.6,27.8 L892.6,28.1 L894.6,28.4 L896.6,28.8 L898.6,29.1 L900.6,29.5 L902.6,29.9 L904.6,30.2 L906.6,30.6 L908.6,31.0 L910.6,31.3 L912.6,31.7 L914.6,32.1 L916.6,32.5 L918.6,32.9 L920.6,33.3 L922.6,33.7 L924.6,34.1 L926.6,34.6 L928.6,35.0 L930.6,35.4 L932.6,35.9 L934.6,36.3 L936.6,36.8 L938.6,37.3 L940.6,37.7 L942.6,38.2 L944.6,38.6 L946.6,39.1 L948.6,39.6 L950.6,40.0 L952.6,40.5 L954.6,41.0 L956.6,41.5 L958.6,42.0 L960.6,42.6 L962.6,43.1 L964.6,43.7 L966.6,44.3 L968.6,44.9 L970.6,45.5 L972.6,46.2 L974.6,46.8 L976.6,47.5 L978.6,48.2 L980.6,48.9 L982.6,49.6 L984.6,50.4 L986.6,51.1 L988.6,51.9 L990.6,52.7 L992.6,53.5 L994.6,54.3 L996.6,55.2 L998.6,56.1 L1000.6,56.9 L1002.6,57.9 L1004.6,58.8 L1006.6,59.8 L1008.6,60.7 L1010.6,61.8 L1012.6,62.8 L1014.6,63.8 L1016.6,64.9 L1018.6,66.0 L1020.6,67.2 L1022.6,68.3 L1024.6,69.5 L1026.6,70.8 L1028.6,72.0 L1030.6,73.3 L1032.6,74.7 L1034.6,76.1 L1036.6,77.5 L1038.6,79.0 L1040.6,80.5 L1042.6,82.2 L1044.6,83.8 L1046.6,85.6 L1048.6,87.4 L1050.6,89.4 L1052.6,91.4 L1054.6,93.5 L1056.6,95.8 L1058.6,98.1 L1060.6,100.6 L1062.6,103.3 L1063.9,105.2 L1064.4,105.9 L1064.6,106.2 L1064.9,106.6 L1065.4,107.4 L1065.9,108.2 L1066.4,108.9 L1066.6,109.3 L1066.9,109.7 L1067.4,110.6 L1067.9,111.4 L1068.4,112.2 L1068.6,112.6 L1068.9,113.1 L1069.4,114.0 L1069.9,114.9 L1070.4,115.8 L1070.6,116.2 L1070.9,116.8 L1071.4,117.7 L1071.9,118.7 L1072.4,119.7 L1072.6,120.1 L1072.9,120.7 L1073.4,121.8 L1073.9,122.9 L1074.4,124.0 L1074.6,124.5 L1074.9,125.2 L1075.4,126.3 L1075.9,127.5 L1076.4,128.8 L1076.6,129.3 L1076.9,130.1 L1077.4,131.4 L1077.9,132.7 L1078.4,134.1 L1078.6,134.6 L1078.9,135.5 L1079.4,137.0 L1079.9,138.5 L1080.4,140.0 L1080.6,140.7 L1080.9,141.7 L1081.4,143.4 L1081.9,145.1 L1082.4,147.0 L1082.6,147.8 L1082.9,148.9 L1083.4,151.0 L1083.9,153.1 L1084.4,155.4 L1084.6,156.3 L1084.9,157.8 L1085.4,160.3 L1085.9,163.0 L1086.4,165.9 L1086.6,167.1 L1086.9,169.0 L1087.4,172.3 L1087.9,175.8 L1088.4,179.7 L1088.6,181.3 L1088.9,183.9 L1089.4,188.7 L1089.5,189.7 L1089.6,190.7 L1089.7,191.7 L1089.8,192.8 L1089.9,193.9 L1090.0,195.0 L1090.1,196.2 L1090.2,197.4 L1090.3,198.6 L1090.4,199.8 L1090.5,200.8 L1090.6,201.8 L1090.6,201.8 L1090.7,202.8 L1090.8,203.8 L1090.9,204.9 L1091.0,205.9 L1091.1,207.0 L1091.2,208.1 L1091.3,209.3 L1091.4,210.4 L1091.5,211.6 L1091.6,212.8 L1091.7,214.1 L1091.8,215.3 L1091.9,216.6 L1092.0,217.9 L1092.1,219.2 L1092.2,220.5 L1092.3,221.9 L1092.4,223.2 L1092.5,224.6 L1092.6,226.0 L1092.6,226.0 L1092.7,227.3 L1092.8,228.7 L1092.9,230.0 L1093.0,231.3 L1093.1,232.5 L1093.2,233.5 L1093.3,234.4 L1093.4,235.0 L1093.5,234.4 L1093.6,233.5 L1093.7,232.5 L1093.8,231.3 L1093.9,230.0 L1094.0,228.7 L1094.1,227.3 L1094.2,226.0 L1094.3,224.6 L1094.4,223.2 L1094.5,221.9 L1094.6,220.5 L1094.6,220.5 L1094.7,219.2 L1094.8,217.9 L1094.9,216.6 L1095.0,215.3 L1095.1,214.1 L1095.2,212.9 L1095.3,211.7 L1095.4,210.5 L1095.5,209.3 L1095.6,208.2 L1095.7,207.1 L1095.8,206.0 L1095.9,204.9 L1096.0,203.9 L1096.1,202.8 L1096.2,201.8 L1096.3,200.8 L1096.4,199.9 L1096.5,198.6 L1096.6,197.4 L1096.6,197.4 L1096.7,196.2 L1096.8,195.1 L1096.9,194.0 L1097.0,192.9 L1097.1,191.8 L1097.2,190.8 L1097.3,189.7 L1097.4,188.7 L1097.9,184.0 L1098.4,179.8 L1098.6,178.2 L1098.9,175.9 L1099.4,172.4 L1099.9,169.1 L1100.4,166.0 L1100.6,164.9 L1100.9,163.2 L1101.4,160.5 L1101.9,158.0 L1102.4,155.6 L1102.6,154.7 L1102.9,153.3 L1103.4,151.2 L1103.9,149.2 L1104.4,147.2 L1104.6,146.5 L1104.9,145.4 L1105.4,143.6 L1105.9,141.9 L1106.4,140.3 L1106.6,139.7 L1106.9,138.7 L1107.4,137.2 L1107.9,135.8 L1108.4,134.4 L1108.6,133.9 L1108.9,133.1 L1109.4,131.7 L1109.9,130.4 L1110.4,129.1 L1110.6,128.7 L1110.9,127.9 L1111.4,126.7 L1111.9,125.5 L1112.4,124.4 L1112.6,124.0 L1112.9,123.3 L1113.4,122.2 L1113.9,121.2 L1114.4,120.2 L1114.6,119.8 L1114.9,119.2 L1115.4,118.2 L1115.9,117.2 L1116.4,116.3 L1116.6,115.9 L1116.9,115.4 L1117.4,114.5 L1117.9,113.6 L1118.4,112.8 L1118.6,112.4 L1118.9,111.9 L1119.4,111.1 L1119.9,110.3 L1120.4,109.5 L1120.6,109.2 L1120.9,108.8 L1121.4,108.0 L1121.9,107.3 L1122.4,106.5 L1122.6,106.2 L1122.9,105.8 L1124.6,103.5 L1126.6,100.9 L1128.6,98.4 L1130.6,96.1 L1132.6,94.0 L1134.6,91.9 L1136.6,90.0 L1138.6,88.1 L1140.6,86.4 L1142.6,84.7 L1144.6,83.1 L1146.6,81.6 L1148.6,80.1 L1150.6,78.7 L1152.6,77.4 L1154.6,76.1 L1156.6,74.8 L1158.6,73.6 L1160.6,72.4 L1162.6,71.3 L1164.6,70.2 L1166.6,69.2 L1168.6,68.2 L1170.6,67.2 L1172.6,66.3 L1174.6,65.3 L1176.6,64.4 L1178.6,63.6 L1180.6,62.7 L1182.6,61.9 L1184.6,61.1 L1186.6,60.3 L1188.6,59.5 L1190.6,58.7 L1192.6,58.0 L1194.6,57.2 L1196.6,56.5 L1198.6,55.8 L1200.6,55.1 L1202.6,54.5 L1204.6,53.8 L1206.6,53.2 L1208.6,52.5 L1210.6,51.9 L1212.6,51.3 L1214.6,50.7 L1216.6,50.1 L1218.6,49.5 L1220.6,49.0 L1222.6,48.4 L1224.6,47.9 L1226.6,47.4 L1228.6,46.8 L1230.6,46.3 L1232.6,45.8 L1234.6,45.3 L1236.6,44.9 L1238.6,44.4 L1240.6,43.9 L1242.6,43.5 L1244.6,43.0 L1246.6,42.6 L1248.6,42.2 L1250.6,41.8 L1252.6,41.4 L1254.6,41.0 L1256.6,40.6 L1258.6,40.2 L1260.6,39.8 L1262.6,39.4 L1264.6,39.1 L1266.6,38.7 L1268.6,38.4 L1270.6,38.0 L1272.6,37.7 L1274.6,37.3 L1276.6,37.0 L1278.6,36.7 L1280.6,36.4 L1282.6,36.1 L1284.6,35.8 L1286.6,35.5 L1288.6,35.2 L1290.6,34.9 L1292.6,34.6 L1294.6,34.3 L1296.6,34.1 L1298.6,33.8 L1300.6,33.5 L1302.6,33.3 L1304.6,33.0 L1306.6,32.8 L1308.6,32.5 L1310.6,32.3 L1312.6,32.0 L1314.6,31.8 L1316.6,31.6 L1318.6,31.3 L1320.6,31.1 L1322.6,30.9 L1324.6,30.7 L1326.6,30.4 L1328.6,30.2 L1330.6,30.0" stroke="#f08c1c" stroke-width="3.2"/>
<path d="M866.6,25.0 L868.6,25.2 L870.6,25.5 L872.6,25.8 L874.6,26.1 L876.6,26.4 L878.6,26.7 L880.6,27.0 L882.6,27.4 L884.6,27.7 L886.6,28.0 L888.6,28.3 L890.6,28.7 L892.6,29.0 L894.6,29.3 L896.6,29.7 L898.6,30.0 L900.6,30.4 L902.6,30.8 L904.6,31.1 L906.6,31.5 L908.6,31.9 L910.6,32.2 L912.6,32.6 L914.6,33.0 L916.6,33.4 L918.6,33.8 L920.6,34.2 L922.6,34.6 L924.6,35.0 L926.6,35.5 L928.6,35.9 L930.6,36.3 L932.6,36.8 L934.6,37.2 L936.6,37.7 L938.6,38.2 L940.6,38.6 L942.6,39.1 L944.6,39.5 L946.6,40.0 L948.6,40.5 L950.6,40.9 L952.6,41.4 L954.6,41.9 L956.6,42.4 L958.6,42.9 L960.6,43.5 L962.6,44.0 L964.6,44.5 L966.6,45.1 L968.6,45.7 L970.6,46.2 L972.6,46.8 L974.6,47.4 L976.6,48.1 L978.6,48.7 L980.6,49.3 L982.6,50.0 L984.6,50.7 L986.6,51.4 L988.6,52.1 L990.6,52.8 L992.6,53.5 L994.6,54.3 L996.6,55.1 L998.6,55.9 L1000.6,56.7 L1002.6,57.6 L1004.6,58.4 L1006.6,59.3 L1008.6,60.2 L1010.6,61.2 L1012.6,62.1 L1014.6,63.1 L1016.6,64.2 L1018.6,65.2 L1020.6,66.3 L1022.6,67.4 L1024.6,68.6 L1026.6,69.8 L1028.6,71.0 L1030.6,72.3 L1032.6,73.6 L1034.6,75.0 L1036.6,76.4 L1038.6,77.9 L1040.6,79.4 L1042.6,81.0 L1044.6,82.6 L1046.6,84.4 L1048.6,86.2 L1050.6,88.1 L1052.6,90.1 L1054.6,92.2 L1056.6,94.4 L1058.6,96.7 L1060.6,99.1 L1062.6,101.8 L1063.9,103.6 L1064.4,104.3 L1064.6,104.6 L1064.9,105.0 L1065.4,105.7 L1065.9,106.5 L1066.4,107.3 L1066.6,107.6 L1066.9,108.0 L1067.4,108.8 L1067.9,109.6 L1068.4,110.5 L1068.6,110.8 L1068.9,111.3 L1069.4,112.2 L1069.9,113.0 L1070.4,113.9 L1070.6,114.3 L1070.9,114.8 L1071.4,115.8 L1071.9,116.7 L1072.4,117.7 L1072.6,118.1 L1072.9,118.7 L1073.4,119.7 L1073.9,120.8 L1074.4,121.9 L1074.6,122.3 L1074.9,123.0 L1075.4,124.1 L1075.9,125.3 L1076.4,126.5 L1076.6,126.9 L1076.9,127.7 L1077.4,129.0 L1077.9,130.3 L1078.4,131.6 L1078.6,132.1 L1078.9,132.9 L1079.4,134.3 L1079.9,135.8 L1080.4,137.3 L1080.6,137.9 L1080.9,138.8 L1081.4,140.4 L1081.9,142.1 L1082.4,143.8 L1082.6,144.5 L1082.9,145.6 L1083.4,147.6 L1083.9,149.6 L1084.4,151.7 L1084.6,152.5 L1084.9,153.9 L1085.4,156.2 L1085.9,158.7 L1086.4,161.3 L1086.6,162.4 L1086.9,164.1 L1087.4,167.1 L1087.9,170.4 L1088.4,173.9 L1088.6,175.3 L1088.9,177.6 L1089.4,181.8 L1089.5,182.7 L1089.6,183.6 L1089.7,184.5 L1089.8,185.4 L1089.9,186.4 L1090.0,187.3 L1090.1,188.3 L1090.2,189.3 L1090.3,190.4 L1090.4,191.4 L1090.5,192.5 L1090.6,193.6 L1090.6,193.6 L1090.7,194.8 L1090.8,195.9 L1090.9,197.1 L1091.0,198.3 L1091.1,199.6 L1091.2,200.9 L1091.3,202.2 L1091.4,203.5 L1091.5,204.9 L1091.6,206.3 L1091.7,207.8 L1091.8,209.3 L1091.9,210.8 L1092.0,212.4 L1092.1,214.0 L1092.2,215.6 L1092.3,217.3 L1092.4,219.0 L1092.5,220.8 L1092.6,222.6 L1092.6,222.6 L1092.7,224.3 L1092.8,226.1 L1092.9,227.9 L1093.0,229.7 L1093.1,231.3 L1093.2,232.9 L1093.3,234.2 L1093.4,235.0 L1093.5,234.2 L1093.6,232.9 L1093.7,231.3 L1093.8,229.7 L1093.9,227.9 L1094.0,226.2 L1094.1,224.4 L1094.2,222.6 L1094.3,220.8 L1094.4,219.1 L1094.5,217.3 L1094.6,215.7 L1094.6,215.7 L1094.7,214.0 L1094.8,212.4 L1094.9,210.8 L1095.0,209.3 L1095.1,207.8 L1095.2,206.4 L1095.3,204.9 L1095.4,203.6 L1095.5,202.2 L1095.6,200.9 L1095.7,199.6 L1095.8,198.4 L1095.9,197.2 L1096.0,196.0 L1096.1,194.8 L1096.2,193.7 L1096.3,192.6 L1096.4,191.5 L1096.5,190.4 L1096.6,189.4 L1096.6,189.4 L1096.7,188.4 L1096.8,187.4 L1096.9,186.4 L1097.0,185.5 L1097.1,184.6 L1097.2,183.7 L1097.3,182.8 L1097.4,181.9 L1097.9,177.7 L1098.4,174.0 L1098.6,172.5 L1098.9,170.5 L1099.4,167.3 L1099.9,164.3 L1100.4,161.5 L1100.6,160.4 L1100.9,158.9 L1101.4,156.4 L1101.9,154.1 L1102.4,151.9 L1102.6,151.0 L1102.9,149.8 L1103.4,147.8 L1103.9,145.9 L1104.4,144.1 L1104.6,143.4 L1104.9,142.3 L1105.4,140.7 L1105.9,139.1 L1106.4,137.5 L1106.6,136.9 L1106.9,136.1 L1107.4,134.6 L1107.9,133.3 L1108.4,131.9 L1108.6,131.4 L1108.9,130.6 L1109.4,129.3 L1109.9,128.1 L1110.4,126.8 L1110.6,126.4 L1110.9,125.6 L1111.4,124.5 L1111.9,123.4 L1112.4,122.3 L1112.6,121.8 L1112.9,121.2 L1113.4,120.2 L1113.9,119.2 L1114.4,118.2 L1114.6,117.8 L1114.9,117.2 L1115.4,116.3 L1115.9,115.3 L1116.4,114.4 L1116.6,114.1 L1116.9,113.6 L1117.4,112.7 L1117.9,111.8 L1118.4,111.0 L1118.6,110.7 L1118.9,110.2 L1119.4,109.4 L1119.9,108.6 L1120.4,107.9 L1120.6,107.6 L1120.9,107.1 L1121.4,106.4 L1121.9,105.6 L1122.4,104.9 L1122.6,104.6 L1122.9,104.2 L1124.6,101.9 L1126.6,99.4 L1128.6,97.0 L1130.6,94.7 L1132.6,92.6 L1134.6,90.6 L1136.6,88.7 L1138.6,86.8 L1140.6,85.1 L1142.6,83.4 L1144.6,81.8 L1146.6,80.3 L1148.6,78.8 L1150.6,77.4 L1152.6,76.0 L1154.6,74.7 L1156.6,73.4 L1158.6,72.2 L1160.6,71.0 L1162.6,69.9 L1164.6,68.8 L1166.6,67.7 L1168.6,66.7 L1170.6,65.7 L1172.6,64.7 L1174.6,63.8 L1176.6,62.8 L1178.6,62.0 L1180.6,61.1 L1182.6,60.2 L1184.6,59.4 L1186.6,58.5 L1188.6,57.7 L1190.6,56.9 L1192.6,56.2 L1194.6,55.4 L1196.6,54.7 L1198.6,54.0 L1200.6,53.3 L1202.6,52.6 L1204.6,51.9 L1206.6,51.3 L1208.6,50.6 L1210.6,50.0 L1212.6,49.4 L1214.6,48.8 L1216.6,48.2 L1218.6,47.6 L1220.6,47.1 L1222.6,46.5 L1224.6,46.0 L1226.6,45.5 L1228.6,45.0 L1230.6,44.5 L1232.6,44.0 L1234.6,43.5 L1236.6,43.0 L1238.6,42.5 L1240.6,42.1 L1242.6,41.6 L1244.6,41.2 L1246.6,40.8 L1248.6,40.4 L1250.6,39.9 L1252.6,39.5 L1254.6,39.1 L1256.6,38.7 L1258.6,38.4 L1260.6,38.0 L1262.6,37.6 L1264.6,37.3 L1266.6,36.9 L1268.6,36.5 L1270.6,36.2 L1272.6,35.9 L1274.6,35.5 L1276.6,35.2 L1278.6,34.9 L1280.6,34.6 L1282.6,34.3 L1284.6,34.0 L1286.6,33.7 L1288.6,33.4 L1290.6,33.1 L1292.6,32.8 L1294.6,32.5 L1296.6,32.3 L1298.6,32.0 L1300.6,31.7 L1302.6,31.5 L1304.6,31.2 L1306.6,31.0 L1308.6,30.7 L1310.6,30.5 L1312.6,30.3 L1314.6,30.0 L1316.6,29.8 L1318.6,29.6 L1320.6,29.3 L1322.6,29.1 L1324.6,28.9 L1326.6,28.7 L1328.6,28.5 L1330.6,28.3" stroke="#000" stroke-width="2.3"/>
<path d="M866.6,25.5 L868.6,25.8 L870.6,26.1 L872.6,26.5 L874.6,26.8 L876.6,27.1 L878.6,27.5 L880.6,27.8 L882.6,28.2 L884.6,28.6 L886.6,28.9 L888.6,29.3 L890.6,29.7 L892.6,30.0 L894.6,30.4 L896.6,30.8 L898.6,31.2 L900.6,31.6 L902.6,32.0 L904.6,32.4 L906.6,32.9 L908.6,33.3 L910.6,33.7 L912.6,34.1 L914.6,34.6 L916.6,35.0 L918.6,35.5 L920.6,36.0 L922.6,36.4 L924.6,36.9 L926.6,37.4 L928.6,37.9 L930.6,38.4 L932.6,38.9 L934.6,39.4 L936.6,40.0 L938.6,40.5 L940.6,41.0 L942.6,41.6 L944.6,42.1 L946.6,42.6 L948.6,43.2 L950.6,43.8 L952.6,44.4 L954.6,45.0 L956.6,45.6 L958.6,46.3 L960.6,46.9 L962.6,47.6 L964.6,48.3 L966.6,49.0 L968.6,49.8 L970.6,50.5 L972.6,51.3 L974.6,52.1 L976.6,52.9 L978.6,53.7 L980.6,54.5 L982.6,55.4 L984.6,56.3 L986.6,57.2 L988.6,58.1 L990.6,59.0 L992.6,60.0 L994.6,61.0 L996.6,62.0 L998.6,63.0 L1000.6,64.1 L1002.6,65.2 L1004.6,66.3 L1006.6,67.5 L1008.6,68.6 L1010.6,69.9 L1012.6,71.1 L1014.6,72.4 L1016.6,73.7 L1018.6,75.0 L1020.6,76.4 L1022.6,77.9 L1024.6,79.4 L1026.6,81.0 L1028.6,82.6 L1030.6,84.3 L1032.6,86.1 L1034.6,87.9 L1036.6,89.9 L1038.6,91.9 L1040.6,94.0 L1042.6,96.3 L1044.6,98.7 L1046.6,101.3 L1048.6,104.0 L1049.9,105.8 L1050.4,106.6 L1050.6,106.9 L1050.9,107.3 L1051.4,108.1 L1051.9,108.9 L1052.4,109.7 L1052.6,110.0 L1052.9,110.5 L1053.4,111.3 L1053.9,112.2 L1054.4,113.0 L1054.6,113.4 L1054.9,113.9 L1055.4,114.8 L1055.9,115.7 L1056.4,116.6 L1056.6,117.0 L1056.9,117.6 L1057.4,118.6 L1057.9,119.6 L1058.4,120.6 L1058.6,121.0 L1058.9,121.7 L1059.4,122.8 L1059.9,123.9 L1060.4,125.0 L1060.6,125.5 L1060.9,126.2 L1061.4,127.4 L1061.9,128.6 L1062.4,129.9 L1062.6,130.4 L1062.9,131.2 L1063.4,132.6 L1063.9,134.0 L1064.4,135.4 L1064.6,136.0 L1064.9,136.8 L1065.4,138.3 L1065.9,139.9 L1066.4,141.5 L1066.6,142.2 L1066.9,143.3 L1067.4,145.0 L1067.9,146.9 L1068.4,148.8 L1068.6,149.7 L1068.9,150.9 L1069.4,153.1 L1069.9,155.3 L1070.4,157.8 L1070.6,158.8 L1070.9,160.3 L1071.4,163.1 L1071.9,166.0 L1072.4,169.2 L1072.6,170.5 L1072.9,172.6 L1073.4,176.3 L1073.9,180.3 L1074.4,184.9 L1074.6,186.8 L1074.9,189.9 L1075.4,195.7 L1075.5,197.0 L1075.6,198.3 L1075.7,199.7 L1075.8,201.0 L1075.9,202.5 L1076.0,204.0 L1076.1,205.5 L1076.2,207.1 L1076.3,208.8 L1076.4,210.5 L1076.5,211.9 L1076.6,213.4 L1076.6,213.4 L1076.7,214.9 L1076.8,216.4 L1076.9,218.0 L1077.0,219.6 L1077.1,221.4 L1077.2,223.2 L1077.3,225.1 L1077.4,227.0 L1077.5,229.1 L1077.6,231.3 L1077.7,233.5 L1077.8,236.0 L1077.9,238.5 L1078.0,241.2 L1078.1,244.1 L1078.2,247.3 L1078.3,250.6 L1078.4,254.2 L1078.5,258.2 L1078.6,262.5 L1078.6,262.5 L1078.7,267.4 L1078.8,272.7 L1078.9,278.8 L1079.0,285.8 L1079.1,293.9 L1079.2,303.3 L1079.3,314.0 L1079.4,323.0 L1079.5,314.0 L1079.6,303.3 L1079.7,293.9 L1079.8,285.8 L1079.9,278.8 L1080.0,272.8 L1080.1,267.4 L1080.2,262.6 L1080.3,258.2 L1080.4,254.3 L1080.5,250.6 L1080.6,247.3 L1080.6,247.3 L1080.7,244.2 L1080.8,241.3 L1080.9,238.5 L1081.0,236.0 L1081.1,233.6 L1081.2,231.3 L1081.3,229.1 L1081.4,227.1 L1081.5,225.1 L1081.6,223.2 L1081.7,221.4 L1081.8,219.7 L1081.9,218.0 L1082.0,216.4 L1082.1,214.9 L1082.2,213.4 L1082.3,212.0 L1082.4,210.6 L1082.5,208.9 L1082.6,207.2 L1082.6,207.2 L1082.7,205.6 L1082.8,204.0 L1082.9,202.6 L1083.0,201.1 L1083.1,199.7 L1083.2,198.4 L1083.3,197.1 L1083.4,195.8 L1083.9,190.0 L1084.4,185.0 L1084.6,183.1 L1084.9,180.5 L1085.4,176.4 L1085.9,172.7 L1086.4,169.3 L1086.6,168.0 L1086.9,166.2 L1087.4,163.2 L1087.9,160.5 L1088.4,158.0 L1088.6,157.0 L1088.9,155.5 L1089.4,153.3 L1089.9,151.1 L1090.4,149.1 L1090.6,148.3 L1090.9,147.2 L1091.4,145.3 L1091.9,143.5 L1092.4,141.8 L1092.6,141.2 L1092.9,140.2 L1093.4,138.7 L1093.9,137.2 L1094.4,135.7 L1094.6,135.2 L1094.9,134.3 L1095.4,133.0 L1095.9,131.6 L1096.4,130.3 L1096.6,129.8 L1096.9,129.0 L1097.4,127.8 L1097.9,126.6 L1098.4,125.5 L1098.6,125.0 L1098.9,124.3 L1099.4,123.2 L1099.9,122.2 L1100.4,121.1 L1100.6,120.7 L1100.9,120.1 L1101.4,119.1 L1101.9,118.1 L1102.4,117.2 L1102.6,116.8 L1102.9,116.3 L1103.4,115.4 L1103.9,114.5 L1104.4,113.6 L1104.6,113.3 L1104.9,112.8 L1105.4,111.9 L1105.9,111.1 L1106.4,110.3 L1106.6,110.0 L1106.9,109.5 L1107.4,108.8 L1107.9,108.0 L1108.4,107.3 L1108.6,107.0 L1108.9,106.5 L1110.6,104.1 L1112.6,101.5 L1114.6,99.1 L1116.6,96.7 L1118.6,94.6 L1120.6,92.5 L1122.6,90.5 L1124.6,88.7 L1126.6,86.9 L1128.6,85.2 L1130.6,83.6 L1132.6,82.1 L1134.6,80.6 L1136.6,79.2 L1138.6,77.8 L1140.6,76.5 L1142.6,75.3 L1144.6,74.1 L1146.6,72.9 L1148.6,71.8 L1150.6,70.7 L1152.6,69.6 L1154.6,68.6 L1156.6,67.6 L1158.6,66.7 L1160.6,65.7 L1162.6,64.8 L1164.6,64.0 L1166.6,63.1 L1168.6,62.3 L1170.6,61.5 L1172.6,60.7 L1174.6,59.9 L1176.6,59.2 L1178.6,58.5 L1180.6,57.8 L1182.6,57.0 L1184.6,56.3 L1186.6,55.7 L1188.6,55.0 L1190.6,54.3 L1192.6,53.7 L1194.6,53.0 L1196.6,52.4 L1198.6,51.8 L1200.6,51.2 L1202.6,50.6 L1204.6,50.0 L1206.6,49.4 L1208.6,48.9 L1210.6,48.3 L1212.6,47.8 L1214.6,47.3 L1216.6,46.8 L1218.6,46.3 L1220.6,45.8 L1222.6,45.3 L1224.6,44.8 L1226.6,44.4 L1228.6,43.9 L1230.6,43.4 L1232.6,43.0 L1234.6,42.6 L1236.6,42.2 L1238.6,41.7 L1240.6,41.3 L1242.6,40.9 L1244.6,40.5 L1246.6,40.2 L1248.6,39.8 L1250.6,39.4 L1252.6,39.0 L1254.6,38.7 L1256.6,38.3 L1258.6,38.0 L1260.6,37.6 L1262.6,37.3 L1264.6,37.0 L1266.6,36.7 L1268.6,36.4 L1270.6,36.0 L1272.6,35.7 L1274.6,35.4 L1276.6,35.1 L1278.6,34.9 L1280.6,34.6 L1282.6,34.3 L1284.6,34.0 L1286.6,33.8 L1288.6,33.5 L1290.6,33.2 L1292.6,33.0 L1294.6,32.7 L1296.6,32.5 L1298.6,32.2 L1300.6,32.0 L1302.6,31.7 L1304.6,31.5 L1306.6,31.3 L1308.6,31.1 L1310.6,30.8 L1312.6,30.6 L1314.6,30.4 L1316.6,30.2 L1318.6,30.0 L1320.6,29.8 L1322.6,29.6 L1324.6,29.4 L1326.6,29.2 L1328.6,29.0 L1330.6,28.8" stroke="#f02c24" stroke-width="3.2"/>
<path d="M866.6,26.4 L868.6,26.7 L870.6,27.0 L872.6,27.4 L874.6,27.7 L876.6,28.0 L878.6,28.4 L880.6,28.7 L882.6,29.1 L884.6,29.5 L886.6,29.8 L888.6,30.2 L890.6,30.6 L892.6,30.9 L894.6,31.3 L896.6,31.7 L898.6,32.1 L900.6,32.5 L902.6,32.9 L904.6,33.3 L906.6,33.8 L908.6,34.2 L910.6,34.6 L912.6,35.0 L914.6,35.5 L916.6,35.9 L918.6,36.4 L920.6,36.9 L922.6,37.3 L924.6,37.8 L926.6,38.3 L928.6,38.8 L930.6,39.3 L932.6,39.8 L934.6,40.3 L936.6,40.9 L938.6,41.4 L940.6,41.9 L942.6,42.4 L944.6,43.0 L946.6,43.5 L948.6,44.0 L950.6,44.6 L952.6,45.2 L954.6,45.7 L956.6,46.3 L958.6,46.9 L960.6,47.6 L962.6,48.2 L964.6,48.8 L966.6,49.5 L968.6,50.2 L970.6,50.8 L972.6,51.5 L974.6,52.3 L976.6,53.0 L978.6,53.7 L980.6,54.5 L982.6,55.3 L984.6,56.1 L986.6,56.9 L988.6,57.8 L990.6,58.7 L992.6,59.6 L994.6,60.5 L996.6,61.4 L998.6,62.4 L1000.6,63.4 L1002.6,64.4 L1004.6,65.5 L1006.6,66.6 L1008.6,67.7 L1010.6,68.9 L1012.6,70.1 L1014.6,71.3 L1016.6,72.6 L1018.6,74.0 L1020.6,75.3 L1022.6,76.8 L1024.6,78.3 L1026.6,79.8 L1028.6,81.4 L1030.6,83.1 L1032.6,84.8 L1034.6,86.6 L1036.6,88.6 L1038.6,90.6 L1040.6,92.7 L1042.6,94.9 L1044.6,97.3 L1046.6,99.7 L1048.6,102.4 L1049.9,104.2 L1050.4,104.9 L1050.6,105.2 L1050.9,105.7 L1051.4,106.4 L1051.9,107.2 L1052.4,108.0 L1052.6,108.3 L1052.9,108.8 L1053.4,109.6 L1053.9,110.4 L1054.4,111.2 L1054.6,111.6 L1054.9,112.1 L1055.4,112.9 L1055.9,113.8 L1056.4,114.7 L1056.6,115.1 L1056.9,115.7 L1057.4,116.6 L1057.9,117.6 L1058.4,118.6 L1058.6,119.0 L1058.9,119.6 L1059.4,120.7 L1059.9,121.7 L1060.4,122.8 L1060.6,123.3 L1060.9,124.0 L1061.4,125.1 L1061.9,126.3 L1062.4,127.5 L1062.6,128.0 L1062.9,128.8 L1063.4,130.1 L1063.9,131.4 L1064.4,132.8 L1064.6,133.4 L1064.9,134.2 L1065.4,135.6 L1065.9,137.1 L1066.4,138.7 L1066.6,139.3 L1066.9,140.3 L1067.4,142.0 L1067.9,143.7 L1068.4,145.5 L1068.6,146.3 L1068.9,147.5 L1069.4,149.5 L1069.9,151.6 L1070.4,153.8 L1070.6,154.7 L1070.9,156.2 L1071.4,158.7 L1071.9,161.4 L1072.4,164.2 L1072.6,165.4 L1072.9,167.3 L1073.4,170.6 L1073.9,174.2 L1074.4,178.2 L1074.6,179.9 L1074.9,182.5 L1075.4,187.4 L1075.5,188.5 L1075.6,189.6 L1075.7,190.7 L1075.8,191.8 L1075.9,193.0 L1076.0,194.2 L1076.1,195.4 L1076.2,196.7 L1076.3,198.0 L1076.4,199.4 L1076.5,200.8 L1076.6,202.2 L1076.6,202.2 L1076.7,203.7 L1076.8,205.3 L1076.9,206.9 L1077.0,208.6 L1077.1,210.3 L1077.2,212.1 L1077.3,214.1 L1077.4,216.1 L1077.5,218.1 L1077.6,220.4 L1077.7,222.7 L1077.8,225.1 L1077.9,227.8 L1078.0,230.5 L1078.1,233.5 L1078.2,236.7 L1078.3,240.2 L1078.4,243.9 L1078.5,248.0 L1078.6,252.5 L1078.6,252.5 L1078.7,257.6 L1078.8,263.3 L1078.9,269.8 L1079.0,277.4 L1079.1,286.4 L1079.2,297.4 L1079.3,310.6 L1079.4,323.0 L1079.5,310.6 L1079.6,297.4 L1079.7,286.4 L1079.8,277.4 L1079.9,269.8 L1080.0,263.3 L1080.1,257.6 L1080.2,252.6 L1080.3,248.0 L1080.4,243.9 L1080.5,240.2 L1080.6,236.7 L1080.6,236.7 L1080.7,233.5 L1080.8,230.6 L1080.9,227.8 L1081.0,225.2 L1081.1,222.7 L1081.2,220.4 L1081.3,218.2 L1081.4,216.1 L1081.5,214.1 L1081.6,212.2 L1081.7,210.4 L1081.8,208.6 L1081.9,206.9 L1082.0,205.3 L1082.1,203.8 L1082.2,202.3 L1082.3,200.8 L1082.4,199.4 L1082.5,198.1 L1082.6,196.8 L1082.6,196.8 L1082.7,195.5 L1082.8,194.3 L1082.9,193.1 L1083.0,191.9 L1083.1,190.8 L1083.2,189.7 L1083.3,188.6 L1083.4,187.5 L1083.9,182.7 L1084.4,178.3 L1084.6,176.7 L1084.9,174.3 L1085.4,170.7 L1085.9,167.4 L1086.4,164.4 L1086.6,163.2 L1086.9,161.5 L1087.4,158.9 L1087.9,156.4 L1088.4,154.0 L1088.6,153.1 L1088.9,151.8 L1089.4,149.7 L1089.9,147.7 L1090.4,145.8 L1090.6,145.1 L1090.9,144.0 L1091.4,142.3 L1091.9,140.6 L1092.4,139.0 L1092.6,138.4 L1092.9,137.5 L1093.4,136.0 L1093.9,134.6 L1094.4,133.2 L1094.6,132.6 L1094.9,131.8 L1095.4,130.5 L1095.9,129.2 L1096.4,127.9 L1096.6,127.5 L1096.9,126.7 L1097.4,125.5 L1097.9,124.4 L1098.4,123.3 L1098.6,122.8 L1098.9,122.2 L1099.4,121.1 L1099.9,120.1 L1100.4,119.1 L1100.6,118.7 L1100.9,118.1 L1101.4,117.2 L1101.9,116.2 L1102.4,115.3 L1102.6,114.9 L1102.9,114.4 L1103.4,113.5 L1103.9,112.7 L1104.4,111.8 L1104.6,111.5 L1104.9,111.0 L1105.4,110.2 L1105.9,109.4 L1106.4,108.6 L1106.6,108.3 L1106.9,107.8 L1107.4,107.1 L1107.9,106.4 L1108.4,105.6 L1108.6,105.4 L1108.9,104.9 L1110.6,102.6 L1112.6,100.0 L1114.6,97.6 L1116.6,95.3 L1118.6,93.2 L1120.6,91.1 L1122.6,89.2 L1124.6,87.4 L1126.6,85.6 L1128.6,83.9 L1130.6,82.3 L1132.6,80.8 L1134.6,79.3 L1136.6,77.9 L1138.6,76.5 L1140.6,75.2 L1142.6,73.9 L1144.6,72.7 L1146.6,71.5 L1148.6,70.3 L1150.6,69.2 L1152.6,68.1 L1154.6,67.1 L1156.6,66.1 L1158.6,65.1 L1160.6,64.2 L1162.6,63.2 L1164.6,62.3 L1166.6,61.5 L1168.6,60.6 L1170.6,59.8 L1172.6,59.0 L1174.6,58.2 L1176.6,57.4 L1178.6,56.7 L1180.6,55.9 L1182.6,55.2 L1184.6,54.5 L1186.6,53.8 L1188.6,53.1 L1190.6,52.4 L1192.6,51.8 L1194.6,51.1 L1196.6,50.5 L1198.6,49.9 L1200.6,49.3 L1202.6,48.7 L1204.6,48.1 L1206.6,47.6 L1208.6,47.0 L1210.6,46.5 L1212.6,45.9 L1214.6,45.4 L1216.6,44.9 L1218.6,44.4 L1220.6,43.9 L1222.6,43.4 L1224.6,43.0 L1226.6,42.5 L1228.6,42.0 L1230.6,41.6 L1232.6,41.2 L1234.6,40.7 L1236.6,40.3 L1238.6,39.9 L1240.6,39.5 L1242.6,39.1 L1244.6,38.7 L1246.6,38.3 L1248.6,38.0 L1250.6,37.6 L1252.6,37.2 L1254.6,36.9 L1256.6,36.5 L1258.6,36.2 L1260.6,35.8 L1262.6,35.5 L1264.6,35.2 L1266.6,34.9 L1268.6,34.6 L1270.6,34.2 L1272.6,33.9 L1274.6,33.6 L1276.6,33.4 L1278.6,33.1 L1280.6,32.8 L1282.6,32.5 L1284.6,32.2 L1286.6,32.0 L1288.6,31.7 L1290.6,31.4 L1292.6,31.2 L1294.6,30.9 L1296.6,30.7 L1298.6,30.4 L1300.6,30.2 L1302.6,30.0 L1304.6,29.7 L1306.6,29.5 L1308.6,29.3 L1310.6,29.1 L1312.6,28.8 L1314.6,28.6 L1316.6,28.4 L1318.6,28.2 L1320.6,28.0 L1322.6,27.8 L1324.6,27.6 L1326.6,27.4 L1328.6,27.2 L1330.6,27.0" stroke="#000" stroke-width="2.3"/>
<path d="M866.6,30.7 L868.6,31.0 L870.6,31.4 L872.6,31.7 L874.6,32.1 L876.6,32.5 L878.6,32.9 L880.6,33.3 L882.6,33.7 L884.6,34.1 L886.6,34.5 L888.6,34.9 L890.6,35.4 L892.6,35.8 L894.6,36.3 L896.6,36.7 L898.6,37.2 L900.6,37.6 L902.6,38.1 L904.6,38.6 L906.6,39.1 L908.6,39.6 L910.6,40.1 L912.6,40.6 L914.6,41.1 L916.6,41.6 L918.6,42.2 L920.6,42.7 L922.6,43.3 L924.6,43.9 L926.6,44.5 L928.6,45.1 L930.6,45.8 L932.6,46.4 L934.6,47.1 L936.6,47.8 L938.6,48.5 L940.6,49.2 L942.6,49.9 L944.6,50.6 L946.6,51.3 L948.6,52.1 L950.6,52.8 L952.6,53.6 L954.6,54.4 L956.6,55.2 L958.6,56.0 L960.6,56.9 L962.6,57.8 L964.6,58.7 L966.6,59.6 L968.6,60.5 L970.6,61.5 L972.6,62.5 L974.6,63.5 L976.6,64.5 L978.6,65.6 L980.6,66.6 L982.6,67.7 L984.6,68.9 L986.6,70.1 L988.6,71.3 L990.6,72.5 L992.6,73.8 L994.6,75.1 L996.6,76.4 L998.6,77.8 L1000.6,79.3 L1002.6,80.8 L1004.6,82.4 L1006.6,84.0 L1008.6,85.7 L1010.6,87.5 L1012.6,89.4 L1014.6,91.3 L1016.6,93.4 L1018.6,95.6 L1020.6,97.9 L1022.6,100.3 L1024.6,102.9 L1026.6,105.6 L1026.7,105.8 L1027.2,106.5 L1027.7,107.2 L1028.2,108.0 L1028.6,108.6 L1028.7,108.7 L1029.2,109.5 L1029.7,110.3 L1030.2,111.1 L1030.6,111.8 L1030.7,111.9 L1031.2,112.8 L1031.7,113.6 L1032.2,114.5 L1032.6,115.2 L1032.7,115.4 L1033.2,116.3 L1033.7,117.2 L1034.2,118.2 L1034.6,118.9 L1034.7,119.1 L1035.2,120.1 L1035.7,121.1 L1036.2,122.2 L1036.6,123.0 L1036.7,123.2 L1037.2,124.3 L1037.7,125.5 L1038.2,126.6 L1038.6,127.6 L1038.7,127.8 L1039.2,129.0 L1039.7,130.3 L1040.2,131.6 L1040.6,132.6 L1040.7,132.9 L1041.2,134.2 L1041.7,135.6 L1042.2,137.0 L1042.6,138.1 L1042.7,138.4 L1043.2,139.9 L1043.7,141.5 L1044.2,143.2 L1044.6,144.5 L1044.7,144.9 L1045.2,146.7 L1045.7,148.5 L1046.2,150.5 L1046.6,152.1 L1046.7,152.5 L1047.2,154.7 L1047.7,156.9 L1048.2,159.3 L1048.6,161.3 L1048.7,161.8 L1049.2,164.5 L1049.7,167.4 L1050.2,170.4 L1050.6,172.9 L1050.7,173.6 L1051.2,177.0 L1051.7,180.8 L1052.2,184.8 L1052.3,185.7 L1052.4,186.6 L1052.5,187.5 L1052.6,188.4 L1052.6,188.4 L1052.7,189.3 L1052.8,190.2 L1052.9,191.2 L1053.0,192.1 L1053.1,193.1 L1053.2,194.1 L1053.3,194.9 L1053.4,195.7 L1053.5,196.5 L1053.6,197.3 L1053.7,198.1 L1053.8,198.9 L1053.9,199.7 L1054.0,200.6 L1054.1,201.4 L1054.2,202.3 L1054.3,203.2 L1054.4,204.1 L1054.5,204.9 L1054.6,205.8 L1054.6,205.8 L1054.7,206.7 L1054.8,207.6 L1054.9,208.5 L1055.0,209.4 L1055.1,210.3 L1055.2,211.2 L1055.3,212.1 L1055.4,213.0 L1055.5,213.8 L1055.6,214.6 L1055.7,215.4 L1055.8,216.2 L1055.9,216.9 L1056.0,217.5 L1056.1,218.0 L1056.2,218.3 L1056.3,218.0 L1056.4,217.5 L1056.5,216.9 L1056.6,216.2 L1056.6,216.2 L1056.7,215.4 L1056.8,214.6 L1056.9,213.8 L1057.0,213.0 L1057.1,212.1 L1057.2,211.2 L1057.3,210.3 L1057.4,209.4 L1057.5,208.5 L1057.6,207.6 L1057.7,206.7 L1057.8,205.8 L1057.9,205.0 L1058.0,204.1 L1058.1,203.2 L1058.2,202.3 L1058.3,201.5 L1058.4,200.6 L1058.5,199.8 L1058.6,198.9 L1058.6,198.9 L1058.7,198.1 L1058.8,197.3 L1058.9,196.5 L1059.0,195.7 L1059.1,194.9 L1059.2,194.1 L1059.3,193.1 L1059.4,192.2 L1059.5,191.2 L1059.6,190.2 L1059.7,189.3 L1059.8,188.4 L1059.9,187.5 L1060.0,186.6 L1060.1,185.8 L1060.2,184.9 L1060.6,181.6 L1060.7,180.8 L1061.2,177.1 L1061.7,173.6 L1062.2,170.4 L1062.6,168.0 L1062.7,167.4 L1063.2,164.6 L1063.7,161.9 L1064.2,159.4 L1064.6,157.5 L1064.7,157.0 L1065.2,154.8 L1065.7,152.7 L1066.2,150.6 L1066.6,149.1 L1066.7,148.7 L1067.2,146.8 L1067.7,145.0 L1068.2,143.3 L1068.6,142.0 L1068.7,141.7 L1069.2,140.1 L1069.7,138.6 L1070.2,137.2 L1070.6,136.1 L1070.7,135.8 L1071.2,134.4 L1071.7,133.1 L1072.2,131.8 L1072.6,130.8 L1072.7,130.5 L1073.2,129.3 L1073.7,128.1 L1074.2,126.9 L1074.6,126.0 L1074.7,125.7 L1075.2,124.6 L1075.7,123.5 L1076.2,122.5 L1076.6,121.7 L1076.7,121.5 L1077.2,120.4 L1077.7,119.5 L1078.2,118.5 L1078.6,117.7 L1078.7,117.6 L1079.2,116.6 L1079.7,115.7 L1080.2,114.9 L1080.6,114.2 L1080.7,114.0 L1081.2,113.2 L1081.7,112.3 L1082.2,111.5 L1082.6,110.9 L1082.7,110.7 L1083.2,109.9 L1083.7,109.2 L1084.2,108.4 L1084.6,107.8 L1084.7,107.7 L1085.2,107.0 L1085.7,106.2 L1086.6,105.0 L1088.6,102.3 L1090.6,99.9 L1092.6,97.5 L1094.6,95.3 L1096.6,93.2 L1098.6,91.3 L1100.6,89.4 L1102.6,87.6 L1104.6,85.9 L1106.6,84.3 L1108.6,82.7 L1110.6,81.2 L1112.6,79.8 L1114.6,78.4 L1116.6,77.1 L1118.6,75.8 L1120.6,74.6 L1122.6,73.4 L1124.6,72.3 L1126.6,71.2 L1128.6,70.1 L1130.6,69.1 L1132.6,68.1 L1134.6,67.1 L1136.6,66.2 L1138.6,65.3 L1140.6,64.4 L1142.6,63.6 L1144.6,62.7 L1146.6,61.9 L1148.6,61.1 L1150.6,60.4 L1152.6,59.6 L1154.6,58.9 L1156.6,58.2 L1158.6,57.5 L1160.6,56.8 L1162.6,56.1 L1164.6,55.5 L1166.6,54.9 L1168.6,54.2 L1170.6,53.6 L1172.6,53.0 L1174.6,52.4 L1176.6,51.8 L1178.6,51.3 L1180.6,50.7 L1182.6,50.1 L1184.6,49.6 L1186.6,49.0 L1188.6,48.5 L1190.6,48.0 L1192.6,47.5 L1194.6,46.9 L1196.6,46.4 L1198.6,46.0 L1200.6,45.5 L1202.6,45.0 L1204.6,44.6 L1206.6,44.1 L1208.6,43.7 L1210.6,43.2 L1212.6,42.8 L1214.6,42.4 L1216.6,42.0 L1218.6,41.6 L1220.6,41.2 L1222.6,40.8 L1224.6,40.4 L1226.6,40.0 L1228.6,39.7 L1230.6,39.3 L1232.6,38.9 L1234.6,38.6 L1236.6,38.2 L1238.6,37.9 L1240.6,37.6 L1242.6,37.2 L1244.6,36.9 L1246.6,36.6 L1248.6,36.3 L1250.6,36.0 L1252.6,35.7 L1254.6,35.4 L1256.6,35.1 L1258.6,34.8 L1260.6,34.5 L1262.6,34.3 L1264.6,34.0 L1266.6,33.7 L1268.6,33.5 L1270.6,33.2 L1272.6,33.0 L1274.6,32.7 L1276.6,32.5 L1278.6,32.2 L1280.6,32.0 L1282.6,31.8 L1284.6,31.5 L1286.6,31.3 L1288.6,31.1 L1290.6,30.9 L1292.6,30.6 L1294.6,30.4 L1296.6,30.2 L1298.6,30.0 L1300.6,29.8 L1302.6,29.6 L1304.6,29.4 L1306.6,29.2 L1308.6,29.0 L1310.6,28.8 L1312.6,28.7 L1314.6,28.5 L1316.6,28.3 L1318.6,28.1 L1320.6,27.9 L1322.6,27.8 L1324.6,27.6 L1326.6,27.4 L1328.6,27.3 L1330.6,27.1" stroke="#a8c81c" stroke-width="3.2"/>
<path d="M866.6,31.6 L868.6,31.9 L870.6,32.3 L872.6,32.6 L874.6,33.0 L876.6,33.4 L878.6,33.8 L880.6,34.2 L882.6,34.6 L884.6,35.0 L886.6,35.4 L888.6,35.8 L890.6,36.3 L892.6,36.7 L894.6,37.2 L896.6,37.6 L898.6,38.1 L900.6,38.5 L902.6,39.0 L904.6,39.5 L906.6,40.0 L908.6,40.5 L910.6,41.0 L912.6,41.5 L914.6,42.0 L916.6,42.5 L918.6,43.1 L920.6,43.6 L922.6,44.2 L924.6,44.7 L926.6,45.3 L928.6,45.9 L930.6,46.5 L932.6,47.1 L934.6,47.8 L936.6,48.4 L938.6,49.0 L940.6,49.7 L942.6,50.3 L944.6,51.0 L946.6,51.6 L948.6,52.3 L950.6,53.0 L952.6,53.7 L954.6,54.5 L956.6,55.2 L958.6,56.0 L960.6,56.8 L962.6,57.6 L964.6,58.4 L966.6,59.2 L968.6,60.1 L970.6,61.0 L972.6,61.9 L974.6,62.9 L976.6,63.8 L978.6,64.8 L980.6,65.9 L982.6,66.9 L984.6,68.0 L986.6,69.1 L988.6,70.3 L990.6,71.5 L992.6,72.7 L994.6,74.0 L996.6,75.3 L998.6,76.7 L1000.6,78.2 L1002.6,79.6 L1004.6,81.2 L1006.6,82.8 L1008.6,84.5 L1010.6,86.3 L1012.6,88.1 L1014.6,90.0 L1016.6,92.1 L1018.6,94.2 L1020.6,96.5 L1022.6,98.8 L1024.6,101.4 L1026.6,104.1 L1026.7,104.2 L1027.2,104.9 L1027.7,105.6 L1028.2,106.3 L1028.6,106.9 L1028.7,107.1 L1029.2,107.8 L1029.7,108.6 L1030.2,109.4 L1030.6,110.0 L1030.7,110.2 L1031.2,111.0 L1031.7,111.8 L1032.2,112.7 L1032.6,113.4 L1032.7,113.5 L1033.2,114.4 L1033.7,115.3 L1034.2,116.2 L1034.6,117.0 L1034.7,117.2 L1035.2,118.1 L1035.7,119.1 L1036.2,120.1 L1036.6,120.9 L1036.7,121.2 L1037.2,122.2 L1037.7,123.3 L1038.2,124.4 L1038.6,125.3 L1038.7,125.5 L1039.2,126.7 L1039.7,127.9 L1040.2,129.2 L1040.6,130.2 L1040.7,130.4 L1041.2,131.8 L1041.7,133.1 L1042.2,134.4 L1042.6,135.5 L1042.7,135.8 L1043.2,137.2 L1043.7,138.7 L1044.2,140.3 L1044.6,141.6 L1044.7,141.9 L1045.2,143.6 L1045.7,145.3 L1046.2,147.2 L1046.6,148.7 L1046.7,149.1 L1047.2,151.1 L1047.7,153.2 L1048.2,155.4 L1048.6,157.3 L1048.7,157.7 L1049.2,160.2 L1049.7,162.8 L1050.2,165.6 L1050.6,168.0 L1050.7,168.6 L1051.2,171.8 L1051.7,175.2 L1052.2,178.8 L1052.3,179.6 L1052.4,180.4 L1052.5,181.2 L1052.6,182.0 L1052.6,182.0 L1052.7,182.8 L1052.8,183.7 L1052.9,184.5 L1053.0,185.4 L1053.1,186.3 L1053.2,187.2 L1053.3,188.1 L1053.4,189.0 L1053.5,189.9 L1053.6,190.9 L1053.7,191.9 L1053.8,192.9 L1053.9,193.9 L1054.0,194.9 L1054.1,195.9 L1054.2,197.0 L1054.3,198.1 L1054.4,199.2 L1054.5,200.3 L1054.6,201.4 L1054.6,201.4 L1054.7,202.5 L1054.8,203.7 L1054.9,204.8 L1055.0,206.0 L1055.1,207.2 L1055.2,208.4 L1055.3,209.6 L1055.4,210.7 L1055.5,211.9 L1055.6,213.0 L1055.7,214.2 L1055.8,215.2 L1055.9,216.2 L1056.0,217.1 L1056.1,217.8 L1056.2,218.3 L1056.3,217.8 L1056.4,217.1 L1056.5,216.2 L1056.6,215.2 L1056.6,215.2 L1056.7,214.2 L1056.8,213.1 L1056.9,211.9 L1057.0,210.8 L1057.1,209.6 L1057.2,208.4 L1057.3,207.2 L1057.4,206.0 L1057.5,204.9 L1057.6,203.7 L1057.7,202.6 L1057.8,201.4 L1057.9,200.3 L1058.0,199.2 L1058.1,198.1 L1058.2,197.0 L1058.3,196.0 L1058.4,194.9 L1058.5,193.9 L1058.6,192.9 L1058.6,192.9 L1058.7,191.9 L1058.8,190.9 L1058.9,190.0 L1059.0,189.0 L1059.1,188.1 L1059.2,187.2 L1059.3,186.3 L1059.4,185.4 L1059.5,184.6 L1059.6,183.7 L1059.7,182.9 L1059.8,182.1 L1059.9,181.3 L1060.0,180.5 L1060.1,179.7 L1060.2,178.9 L1060.6,176.0 L1060.7,175.2 L1061.2,171.8 L1061.7,168.7 L1062.2,165.7 L1062.6,163.5 L1062.7,162.9 L1063.2,160.3 L1063.7,157.9 L1064.2,155.5 L1064.6,153.8 L1064.7,153.3 L1065.2,151.2 L1065.7,149.2 L1066.2,147.3 L1066.6,145.9 L1066.7,145.5 L1067.2,143.8 L1067.7,142.1 L1068.2,140.5 L1068.6,139.2 L1068.7,138.9 L1069.2,137.4 L1069.7,136.0 L1070.2,134.6 L1070.6,133.6 L1070.7,133.3 L1071.2,132.0 L1071.7,130.7 L1072.2,129.4 L1072.6,128.4 L1072.7,128.2 L1073.2,127.0 L1073.7,125.8 L1074.2,124.7 L1074.6,123.8 L1074.7,123.6 L1075.2,122.5 L1075.7,121.5 L1076.2,120.4 L1076.6,119.6 L1076.7,119.4 L1077.2,118.5 L1077.7,117.5 L1078.2,116.6 L1078.6,115.9 L1078.7,115.7 L1079.2,114.8 L1079.7,113.9 L1080.2,113.1 L1080.6,112.4 L1080.7,112.2 L1081.2,111.4 L1081.7,110.6 L1082.2,109.8 L1082.6,109.2 L1082.7,109.0 L1083.2,108.3 L1083.7,107.5 L1084.2,106.8 L1084.6,106.2 L1084.7,106.1 L1085.2,105.4 L1085.7,104.7 L1086.6,103.4 L1088.6,100.9 L1090.6,98.4 L1092.6,96.1 L1094.6,93.9 L1096.6,91.9 L1098.6,89.9 L1100.6,88.1 L1102.6,86.3 L1104.6,84.6 L1106.6,83.0 L1108.6,81.4 L1110.6,79.9 L1112.6,78.5 L1114.6,77.1 L1116.6,75.8 L1118.6,74.5 L1120.6,73.2 L1122.6,72.0 L1124.6,70.9 L1126.6,69.8 L1128.6,68.7 L1130.6,67.6 L1132.6,66.6 L1134.6,65.6 L1136.6,64.6 L1138.6,63.7 L1140.6,62.8 L1142.6,61.9 L1144.6,61.1 L1146.6,60.2 L1148.6,59.4 L1150.6,58.6 L1152.6,57.9 L1154.6,57.1 L1156.6,56.4 L1158.6,55.7 L1160.6,55.0 L1162.6,54.3 L1164.6,53.6 L1166.6,53.0 L1168.6,52.3 L1170.6,51.7 L1172.6,51.1 L1174.6,50.5 L1176.6,49.9 L1178.6,49.4 L1180.6,48.8 L1182.6,48.3 L1184.6,47.7 L1186.6,47.2 L1188.6,46.6 L1190.6,46.1 L1192.6,45.6 L1194.6,45.1 L1196.6,44.6 L1198.6,44.1 L1200.6,43.6 L1202.6,43.2 L1204.6,42.7 L1206.6,42.3 L1208.6,41.8 L1210.6,41.4 L1212.6,41.0 L1214.6,40.5 L1216.6,40.1 L1218.6,39.7 L1220.6,39.3 L1222.6,39.0 L1224.6,38.6 L1226.6,38.2 L1228.6,37.8 L1230.6,37.5 L1232.6,37.1 L1234.6,36.8 L1236.6,36.4 L1238.6,36.1 L1240.6,35.8 L1242.6,35.4 L1244.6,35.1 L1246.6,34.8 L1248.6,34.5 L1250.6,34.2 L1252.6,33.9 L1254.6,33.6 L1256.6,33.3 L1258.6,33.0 L1260.6,32.7 L1262.6,32.5 L1264.6,32.2 L1266.6,31.9 L1268.6,31.7 L1270.6,31.4 L1272.6,31.2 L1274.6,30.9 L1276.6,30.7 L1278.6,30.5 L1280.6,30.2 L1282.6,30.0 L1284.6,29.8 L1286.6,29.5 L1288.6,29.3 L1290.6,29.1 L1292.6,28.9 L1294.6,28.7 L1296.6,28.5 L1298.6,28.3 L1300.6,28.1 L1302.6,27.9 L1304.6,27.7 L1306.6,27.5 L1308.6,27.3 L1310.6,27.1 L1312.6,26.9 L1314.6,26.7 L1316.6,26.5 L1318.6,26.4 L1320.6,26.2 L1322.6,26.0 L1324.6,25.8 L1326.6,25.7 L1328.6,25.5 L1330.6,25.3" stroke="#000" stroke-width="2.3"/>
<path d="M866.6,35.4 L868.6,35.8 L870.6,36.2 L872.6,36.6 L874.6,37.0 L876.6,37.5 L878.6,37.9 L880.6,38.4 L882.6,38.8 L884.6,39.3 L886.6,39.8 L888.6,40.3 L890.6,40.8 L892.6,41.3 L894.6,41.8 L896.6,42.3 L898.6,42.9 L900.6,43.4 L902.6,44.0 L904.6,44.6 L906.6,45.2 L908.6,45.8 L910.6,46.4 L912.6,47.0 L914.6,47.7 L916.6,48.4 L918.6,49.0 L920.6,49.8 L922.6,50.5 L924.6,51.2 L926.6,52.0 L928.6,52.7 L930.6,53.5 L932.6,54.3 L934.6,55.2 L936.6,56.0 L938.6,56.9 L940.6,57.7 L942.6,58.6 L944.6,59.5 L946.6,60.4 L948.6,61.3 L950.6,62.2 L952.6,63.2 L954.6,64.1 L956.6,65.2 L958.6,66.2 L960.6,67.2 L962.6,68.3 L964.6,69.4 L966.6,70.6 L968.6,71.7 L970.6,72.9 L972.6,74.2 L974.6,75.4 L976.6,76.7 L978.6,78.1 L980.6,79.5 L982.6,80.9 L984.6,82.4 L986.6,84.0 L988.6,85.6 L990.6,87.3 L992.6,89.1 L994.6,90.9 L996.6,92.9 L998.6,94.9 L1000.6,97.1 L1002.6,99.4 L1004.6,101.8 L1006.6,104.4 L1007.7,105.8 L1008.2,106.5 L1008.6,107.1 L1008.7,107.2 L1009.2,108.0 L1009.7,108.7 L1010.2,109.4 L1010.6,110.0 L1010.7,110.2 L1011.2,110.9 L1011.7,111.7 L1012.2,112.5 L1012.6,113.1 L1012.7,113.3 L1013.2,114.1 L1013.7,115.0 L1014.2,115.8 L1014.6,116.5 L1014.7,116.7 L1015.2,117.6 L1015.7,118.5 L1016.2,119.4 L1016.6,120.2 L1016.7,120.4 L1017.2,121.4 L1017.7,122.3 L1018.2,123.4 L1018.6,124.2 L1018.7,124.4 L1019.2,125.5 L1019.7,126.6 L1020.2,127.7 L1020.6,128.6 L1020.7,128.8 L1021.2,130.0 L1021.7,131.2 L1022.2,132.4 L1022.6,133.4 L1022.7,133.6 L1023.2,134.9 L1023.7,136.2 L1024.2,137.5 L1024.6,138.6 L1024.7,138.9 L1025.2,140.3 L1025.7,141.8 L1026.2,143.3 L1026.6,144.6 L1026.7,144.9 L1027.2,146.6 L1027.7,148.3 L1028.2,150.0 L1028.6,151.5 L1028.7,151.9 L1029.2,153.8 L1029.7,155.8 L1030.2,157.9 L1030.6,159.6 L1030.7,160.0 L1031.2,162.2 L1031.7,164.5 L1032.2,166.9 L1032.6,168.9 L1032.7,169.4 L1033.2,172.0 L1033.3,172.5 L1033.4,173.0 L1033.5,173.5 L1033.6,174.1 L1033.7,174.6 L1033.8,175.2 L1033.9,175.7 L1034.0,176.2 L1034.1,176.8 L1034.2,177.3 L1034.3,177.8 L1034.4,178.2 L1034.5,178.6 L1034.6,179.0 L1034.6,179.0 L1034.7,179.4 L1034.8,179.8 L1034.9,180.3 L1035.0,180.7 L1035.1,181.1 L1035.2,181.5 L1035.3,181.9 L1035.4,182.3 L1035.5,182.7 L1035.6,183.1 L1035.7,183.5 L1035.8,183.9 L1035.9,184.3 L1036.0,184.7 L1036.1,185.0 L1036.2,185.4 L1036.3,185.7 L1036.4,186.1 L1036.5,186.4 L1036.6,186.7 L1036.6,186.7 L1036.7,187.0 L1036.8,187.3 L1036.9,187.5 L1037.0,187.7 L1037.1,187.9 L1037.2,188.0 L1037.3,187.9 L1037.4,187.7 L1037.5,187.5 L1037.6,187.3 L1037.7,187.0 L1037.8,186.7 L1037.9,186.4 L1038.0,186.1 L1038.1,185.7 L1038.2,185.4 L1038.3,185.0 L1038.4,184.7 L1038.5,184.3 L1038.6,183.9 L1038.6,183.9 L1038.7,183.5 L1038.8,183.1 L1038.9,182.7 L1039.0,182.3 L1039.1,181.9 L1039.2,181.5 L1039.3,181.1 L1039.4,180.7 L1039.5,180.3 L1039.6,179.9 L1039.7,179.4 L1039.8,179.0 L1039.9,178.6 L1040.0,178.2 L1040.1,177.8 L1040.2,177.4 L1040.3,176.8 L1040.4,176.3 L1040.5,175.7 L1040.6,175.2 L1040.6,175.2 L1040.7,174.6 L1040.8,174.1 L1040.9,173.6 L1041.0,173.0 L1041.1,172.5 L1041.2,172.0 L1041.7,169.4 L1042.2,166.9 L1042.6,165.0 L1042.7,164.5 L1043.2,162.2 L1043.7,160.0 L1044.2,157.9 L1044.6,156.2 L1044.7,155.8 L1045.2,153.8 L1045.7,151.9 L1046.2,150.1 L1046.6,148.7 L1046.7,148.3 L1047.2,146.6 L1047.7,145.0 L1048.2,143.4 L1048.6,142.2 L1048.7,141.9 L1049.2,140.4 L1049.7,139.0 L1050.2,137.6 L1050.6,136.5 L1050.7,136.3 L1051.2,135.0 L1051.7,133.7 L1052.2,132.5 L1052.6,131.5 L1052.7,131.3 L1053.2,130.1 L1053.7,129.0 L1054.2,127.8 L1054.6,126.9 L1054.7,126.7 L1055.2,125.6 L1055.7,124.5 L1056.2,123.5 L1056.6,122.7 L1056.7,122.5 L1057.2,121.5 L1057.7,120.5 L1058.2,119.6 L1058.6,118.9 L1058.7,118.7 L1059.2,117.8 L1059.7,116.9 L1060.2,116.0 L1060.6,115.3 L1060.7,115.2 L1061.2,114.3 L1061.7,113.5 L1062.2,112.7 L1062.6,112.1 L1062.7,111.9 L1063.2,111.1 L1063.7,110.4 L1064.2,109.6 L1064.6,109.0 L1064.7,108.9 L1065.2,108.2 L1065.7,107.5 L1066.2,106.8 L1066.6,106.2 L1066.7,106.1 L1068.6,103.6 L1070.6,101.1 L1072.6,98.8 L1074.6,96.5 L1076.6,94.5 L1078.6,92.5 L1080.6,90.6 L1082.6,88.8 L1084.6,87.1 L1086.6,85.4 L1088.6,83.9 L1090.6,82.4 L1092.6,80.9 L1094.6,79.5 L1096.6,78.2 L1098.6,76.9 L1100.6,75.7 L1102.6,74.5 L1104.6,73.3 L1106.6,72.2 L1108.6,71.1 L1110.6,70.1 L1112.6,69.1 L1114.6,68.1 L1116.6,67.2 L1118.6,66.2 L1120.6,65.3 L1122.6,64.5 L1124.6,63.6 L1126.6,62.8 L1128.6,62.0 L1130.6,61.2 L1132.6,60.5 L1134.6,59.7 L1136.6,59.0 L1138.6,58.3 L1140.6,57.6 L1142.6,56.9 L1144.6,56.2 L1146.6,55.6 L1148.6,54.9 L1150.6,54.3 L1152.6,53.7 L1154.6,53.1 L1156.6,52.5 L1158.6,51.9 L1160.6,51.4 L1162.6,50.8 L1164.6,50.3 L1166.6,49.7 L1168.6,49.2 L1170.6,48.7 L1172.6,48.2 L1174.6,47.7 L1176.6,47.2 L1178.6,46.7 L1180.6,46.3 L1182.6,45.8 L1184.6,45.3 L1186.6,44.8 L1188.6,44.4 L1190.6,43.9 L1192.6,43.5 L1194.6,43.1 L1196.6,42.6 L1198.6,42.2 L1200.6,41.8 L1202.6,41.4 L1204.6,41.0 L1206.6,40.6 L1208.6,40.2 L1210.6,39.9 L1212.6,39.5 L1214.6,39.1 L1216.6,38.8 L1218.6,38.4 L1220.6,38.1 L1222.6,37.7 L1224.6,37.4 L1226.6,37.1 L1228.6,36.7 L1230.6,36.4 L1232.6,36.1 L1234.6,35.8 L1236.6,35.5 L1238.6,35.2 L1240.6,34.9 L1242.6,34.6 L1244.6,34.3 L1246.6,34.0 L1248.6,33.7 L1250.6,33.5 L1252.6,33.2 L1254.6,32.9 L1256.6,32.7 L1258.6,32.4 L1260.6,32.2 L1262.6,31.9 L1264.6,31.7 L1266.6,31.4 L1268.6,31.2 L1270.6,31.0 L1272.6,30.7 L1274.6,30.5 L1276.6,30.3 L1278.6,30.1 L1280.6,29.8 L1282.6,29.6 L1284.6,29.4 L1286.6,29.2 L1288.6,29.0 L1290.6,28.8 L1292.6,28.6 L1294.6,28.4 L1296.6,28.2 L1298.6,28.0 L1300.6,27.8 L1302.6,27.7 L1304.6,27.5 L1306.6,27.3 L1308.6,27.1 L1310.6,26.9 L1312.6,26.8 L1314.6,26.6 L1316.6,26.4 L1318.6,26.2 L1320.6,26.1 L1322.6,25.9 L1324.6,25.8 L1326.6,25.6 L1328.6,25.4 L1330.6,25.3" stroke="#1c4fe0" stroke-width="3.2"/>
<path d="M866.6,36.3 L868.6,36.7 L870.6,37.1 L872.6,37.5 L874.6,37.9 L876.6,38.4 L878.6,38.8 L880.6,39.3 L882.6,39.7 L884.6,40.2 L886.6,40.7 L888.6,41.2 L890.6,41.7 L892.6,42.2 L894.6,42.7 L896.6,43.2 L898.6,43.8 L900.6,44.3 L902.6,44.9 L904.6,45.4 L906.6,46.0 L908.6,46.6 L910.6,47.2 L912.6,47.8 L914.6,48.4 L916.6,49.0 L918.6,49.6 L920.6,50.3 L922.6,51.0 L924.6,51.6 L926.6,52.3 L928.6,53.1 L930.6,53.8 L932.6,54.5 L934.6,55.3 L936.6,56.1 L938.6,56.8 L940.6,57.6 L942.6,58.4 L944.6,59.2 L946.6,60.1 L948.6,60.9 L950.6,61.8 L952.6,62.7 L954.6,63.6 L956.6,64.5 L958.6,65.5 L960.6,66.5 L962.6,67.5 L964.6,68.6 L966.6,69.7 L968.6,70.8 L970.6,71.9 L972.6,73.1 L974.6,74.4 L976.6,75.7 L978.6,77.0 L980.6,78.4 L982.6,79.8 L984.6,81.3 L986.6,82.8 L988.6,84.4 L990.6,86.1 L992.6,87.9 L994.6,89.7 L996.6,91.6 L998.6,93.6 L1000.6,95.7 L1002.6,98.0 L1004.6,100.3 L1006.6,102.9 L1007.7,104.3 L1008.2,105.0 L1008.6,105.5 L1008.7,105.7 L1009.2,106.4 L1009.7,107.1 L1010.2,107.8 L1010.6,108.4 L1010.7,108.5 L1011.2,109.3 L1011.7,110.0 L1012.2,110.8 L1012.6,111.4 L1012.7,111.6 L1013.2,112.4 L1013.7,113.2 L1014.2,114.0 L1014.6,114.7 L1014.7,114.9 L1015.2,115.8 L1015.7,116.6 L1016.2,117.5 L1016.6,118.3 L1016.7,118.5 L1017.2,119.4 L1017.7,120.4 L1018.2,121.3 L1018.6,122.2 L1018.7,122.4 L1019.2,123.4 L1019.7,124.4 L1020.2,125.5 L1020.6,126.4 L1020.7,126.6 L1021.2,127.8 L1021.7,128.9 L1022.2,130.1 L1022.6,131.1 L1022.7,131.3 L1023.2,132.5 L1023.7,133.8 L1024.2,135.0 L1024.6,136.1 L1024.7,136.4 L1025.2,137.7 L1025.7,139.1 L1026.2,140.6 L1026.6,141.8 L1026.7,142.1 L1027.2,143.7 L1027.7,145.3 L1028.2,147.0 L1028.6,148.4 L1028.7,148.7 L1029.2,150.5 L1029.7,152.4 L1030.2,154.4 L1030.6,156.0 L1030.7,156.4 L1031.2,158.5 L1031.7,160.8 L1032.2,163.1 L1032.6,165.0 L1032.7,165.5 L1033.2,168.0 L1033.3,168.5 L1033.4,169.0 L1033.5,169.5 L1033.6,170.0 L1033.7,170.6 L1033.8,171.1 L1033.9,171.6 L1034.0,172.2 L1034.1,172.7 L1034.2,173.2 L1034.3,173.8 L1034.4,174.3 L1034.5,174.9 L1034.6,175.4 L1034.6,175.4 L1034.7,176.0 L1034.8,176.5 L1034.9,177.1 L1035.0,177.7 L1035.1,178.2 L1035.2,178.8 L1035.3,179.3 L1035.4,179.9 L1035.5,180.4 L1035.6,181.0 L1035.7,181.5 L1035.8,182.1 L1035.9,182.6 L1036.0,183.1 L1036.1,183.7 L1036.2,184.2 L1036.3,184.7 L1036.4,185.2 L1036.5,185.6 L1036.6,186.1 L1036.6,186.1 L1036.7,186.5 L1036.8,186.9 L1036.9,187.3 L1037.0,187.6 L1037.1,187.8 L1037.2,188.0 L1037.3,187.8 L1037.4,187.6 L1037.5,187.3 L1037.6,186.9 L1037.7,186.5 L1037.8,186.1 L1037.9,185.6 L1038.0,185.2 L1038.1,184.7 L1038.2,184.2 L1038.3,183.7 L1038.4,183.2 L1038.5,182.6 L1038.6,182.1 L1038.6,182.1 L1038.7,181.5 L1038.8,181.0 L1038.9,180.5 L1039.0,179.9 L1039.1,179.3 L1039.2,178.8 L1039.3,178.2 L1039.4,177.7 L1039.5,177.1 L1039.6,176.6 L1039.7,176.0 L1039.8,175.5 L1039.9,174.9 L1040.0,174.4 L1040.1,173.8 L1040.2,173.3 L1040.3,172.7 L1040.4,172.2 L1040.5,171.7 L1040.6,171.1 L1040.6,171.1 L1040.7,170.6 L1040.8,170.1 L1040.9,169.5 L1041.0,169.0 L1041.1,168.5 L1041.2,168.0 L1041.7,165.5 L1042.2,163.1 L1042.6,161.3 L1042.7,160.8 L1043.2,158.6 L1043.7,156.5 L1044.2,154.4 L1044.6,152.9 L1044.7,152.5 L1045.2,150.6 L1045.7,148.8 L1046.2,147.0 L1046.6,145.7 L1046.7,145.4 L1047.2,143.8 L1047.7,142.2 L1048.2,140.7 L1048.6,139.5 L1048.7,139.2 L1049.2,137.8 L1049.7,136.5 L1050.2,135.1 L1050.6,134.1 L1050.7,133.9 L1051.2,132.6 L1051.7,131.4 L1052.2,130.2 L1052.6,129.3 L1052.7,129.1 L1053.2,127.9 L1053.7,126.8 L1054.2,125.7 L1054.6,124.8 L1054.7,124.6 L1055.2,123.5 L1055.7,122.5 L1056.2,121.5 L1056.6,120.7 L1056.7,120.5 L1057.2,119.6 L1057.7,118.6 L1058.2,117.7 L1058.6,117.0 L1058.7,116.8 L1059.2,115.9 L1059.7,115.1 L1060.2,114.2 L1060.6,113.6 L1060.7,113.4 L1061.2,112.6 L1061.7,111.8 L1062.2,111.0 L1062.6,110.4 L1062.7,110.2 L1063.2,109.5 L1063.7,108.7 L1064.2,108.0 L1064.6,107.4 L1064.7,107.3 L1065.2,106.6 L1065.7,105.9 L1066.2,105.2 L1066.6,104.7 L1066.7,104.5 L1068.6,102.1 L1070.6,99.7 L1072.6,97.4 L1074.6,95.2 L1076.6,93.1 L1078.6,91.1 L1080.6,89.3 L1082.6,87.5 L1084.6,85.8 L1086.6,84.1 L1088.6,82.6 L1090.6,81.1 L1092.6,79.6 L1094.6,78.2 L1096.6,76.9 L1098.6,75.6 L1100.6,74.3 L1102.6,73.1 L1104.6,71.9 L1106.6,70.8 L1108.6,69.7 L1110.6,68.6 L1112.6,67.6 L1114.6,66.6 L1116.6,65.6 L1118.6,64.7 L1120.6,63.7 L1122.6,62.8 L1124.6,62.0 L1126.6,61.1 L1128.6,60.3 L1130.6,59.5 L1132.6,58.7 L1134.6,57.9 L1136.6,57.2 L1138.6,56.4 L1140.6,55.7 L1142.6,55.0 L1144.6,54.4 L1146.6,53.7 L1148.6,53.1 L1150.6,52.4 L1152.6,51.8 L1154.6,51.2 L1156.6,50.6 L1158.6,50.0 L1160.6,49.5 L1162.6,48.9 L1164.6,48.4 L1166.6,47.8 L1168.6,47.3 L1170.6,46.8 L1172.6,46.3 L1174.6,45.8 L1176.6,45.3 L1178.6,44.9 L1180.6,44.4 L1182.6,43.9 L1184.6,43.4 L1186.6,43.0 L1188.6,42.5 L1190.6,42.1 L1192.6,41.6 L1194.6,41.2 L1196.6,40.8 L1198.6,40.4 L1200.6,40.0 L1202.6,39.6 L1204.6,39.2 L1206.6,38.8 L1208.6,38.4 L1210.6,38.0 L1212.6,37.7 L1214.6,37.3 L1216.6,36.9 L1218.6,36.6 L1220.6,36.2 L1222.6,35.9 L1224.6,35.6 L1226.6,35.2 L1228.6,34.9 L1230.6,34.6 L1232.6,34.3 L1234.6,34.0 L1236.6,33.7 L1238.6,33.4 L1240.6,33.1 L1242.6,32.8 L1244.6,32.5 L1246.6,32.2 L1248.6,32.0 L1250.6,31.7 L1252.6,31.4 L1254.6,31.1 L1256.6,30.9 L1258.6,30.6 L1260.6,30.4 L1262.6,30.1 L1264.6,29.9 L1266.6,29.7 L1268.6,29.4 L1270.6,29.2 L1272.6,29.0 L1274.6,28.7 L1276.6,28.5 L1278.6,28.3 L1280.6,28.1 L1282.6,27.9 L1284.6,27.7 L1286.6,27.5 L1288.6,27.2 L1290.6,27.0 L1292.6,26.8 L1294.6,26.7 L1296.6,26.5 L1298.6,26.3 L1300.6,26.1 L1302.6,25.9 L1304.6,25.7 L1306.6,25.5 L1308.6,25.4 L1310.6,25.2 L1312.6,25.0 L1314.6,24.8 L1316.6,24.7 L1318.6,24.5 L1320.6,24.3 L1322.6,24.2 L1324.6,24.0 L1326.6,23.8 L1328.6,23.7 L1330.6,23.5" stroke="#000" stroke-width="2.3"/>
<circle cx="1093.6" cy="236.3" r="1.7" fill="#f08c1c"/>
</g>
<text x="1064.5" y="32.3" font-size="31.5" text-anchor="start" fill="#000" ><tspan font-style="italic">ω</tspan><tspan dy="10.5" font-size="18.5">m</tspan><tspan dy="-10.5" font-size="1">&#8203;</tspan></text>
<path d="M1114.5,48.1 L1059,48.1 L1061,42.7 L1046.5,51.3 L1061,60.6 L1059,54.2 L1114.5,54.2 Z" fill="#ff0000"/>
<text x="980" y="269.1" font-size="31.5" text-anchor="start" fill="#000" ><tspan font-style="italic">ω</tspan><tspan dy="10.5" font-size="17.5">CPA</tspan><tspan dy="-10.5" font-size="1">&#8203;</tspan></text>
<line x1="1005.40" y1="283.30" x2="1061.52" y2="314.95" stroke="#2e3192" stroke-width="2.8" />
<path d="M1074.9,322.5 L1054.2,320.1 L1061.5,315.0 L1062.2,306.0 Z" fill="#2e3192"/>
<rect x="1503.8" y="3.5" width="460.5" height="355.9" fill="none" stroke="#262626" stroke-width="2.5"/>
<line x1="1657.30" y1="3.50" x2="1657.30" y2="11.50" stroke="#262626" stroke-width="2.5" />
<line x1="1657.30" y1="359.40" x2="1657.30" y2="351.40" stroke="#262626" stroke-width="2.5" />
<line x1="1810.80" y1="3.50" x2="1810.80" y2="11.50" stroke="#262626" stroke-width="2.5" />
<line x1="1810.80" y1="359.40" x2="1810.80" y2="351.40" stroke="#262626" stroke-width="2.5" />
<line x1="1503.80" y1="45.00" x2="1511.80" y2="45.00" stroke="#262626" stroke-width="2.5" />
<line x1="1964.30" y1="45.00" x2="1956.30" y2="45.00" stroke="#262626" stroke-width="2.5" />
<line x1="1503.80" y1="181.60" x2="1511.80" y2="181.60" stroke="#262626" stroke-width="2.5" />
<line x1="1964.30" y1="181.60" x2="1956.30" y2="181.60" stroke="#262626" stroke-width="2.5" />
<line x1="1503.80" y1="318.20" x2="1511.80" y2="318.20" stroke="#262626" stroke-width="2.5" />
<line x1="1964.30" y1="318.20" x2="1956.30" y2="318.20" stroke="#262626" stroke-width="2.5" />
<text x="1479.7" y="58.1" font-size="31.5" text-anchor="end" fill="#000" >0</text>
<text x="1490.5" y="193.6" font-size="31.5" text-anchor="end" fill="#000" >-0.1</text>
<text x="1490.6" y="331.0" font-size="31.5" text-anchor="end" fill="#000" >-0.2</text>
<text x="1504.1" y="396.7" font-size="31.5" text-anchor="middle" fill="#000" >7.215</text>
<text x="1654.75" y="396.7" font-size="31.5" text-anchor="middle" fill="#000" >7.216</text>
<text x="1810.95" y="396.7" font-size="31.5" text-anchor="middle" fill="#000" >7.217</text>
<text x="1960.2" y="396.7" font-size="31.5" text-anchor="middle" fill="#000" >7.218</text>
<text x="1648.4" y="429.5" font-size="31.5" text-anchor="start" fill="#000" ><tspan font-style="italic">ω</tspan><tspan dy="10.9" font-size="18.5">p</tspan><tspan dy="-10.9" font-size="1">&#8203;</tspan>/<tspan dx="-1">2</tspan><tspan dx="-2.9">π</tspan><tspan dx="-1.3"> (GHz)</tspan></text>
<text transform="translate(1423.3,249.5) rotate(-90)" font-size="31.5" fill="#000">Re[τ]<tspan dx="-1.5"> (ms</tspan><tspan dx="1.5">)</tspan></text>
<text x="1392.9" y="21.5" font-size="31.5" text-anchor="start" fill="#000" font-weight="bold">c</text>
<clipPath id="cpc"><rect x="1502.3" y="3.5" width="463.5" height="355.9"/></clipPath>
<g clip-path="url(#cpc)">
<path d="M1503,45.6 L1966,45.6" stroke="#f02c24" stroke-width="2.6" fill="none"/>
<path d="M1711.6,45 L1712.9,321.6 L1714.8,321.6 L1715.2,46 L1716,41.5 L1717,46 Z" fill="#f02c24" stroke="#f02c24" stroke-width="0.6" stroke-linejoin="round"/>
<path d="M1503.8,45.0 L1507.8,45.0 L1511.8,45.0 L1515.8,45.0 L1519.8,45.0 L1523.8,45.0 L1527.8,45.0 L1531.8,45.0 L1535.8,45.0 L1539.8,45.0 L1543.8,45.0 L1547.8,45.0 L1551.8,45.0 L1555.8,45.0 L1559.8,45.0 L1563.8,45.0 L1567.8,45.0 L1571.8,45.0 L1575.8,45.0 L1579.8,45.0 L1583.8,45.0 L1587.8,45.0 L1591.8,45.0 L1595.8,45.0 L1599.8,45.0 L1603.8,45.0 L1607.8,45.0 L1611.8,45.0 L1615.8,45.0 L1619.8,45.0 L1623.8,45.0 L1627.8,45.0 L1631.8,45.0 L1635.8,45.0 L1639.8,45.0 L1643.8,45.0 L1647.8,45.0 L1651.8,45.0 L1655.8,45.0 L1659.8,45.0 L1663.8,45.0 L1667.8,45.0 L1671.8,45.0 L1675.8,45.0 L1679.8,45.0 L1683.8,45.0 L1687.8,45.0 L1691.8,45.0 L1695.8,45.0 L1699.8,45.0 L1703.8,45.0 L1707.8,45.0 L1711.8,45.0 L1715.8,45.0 L1717.0,45.0 L1717.5,45.0 L1718.0,45.0 L1718.5,45.0 L1719.0,45.0 L1719.5,45.0 L1719.8,45.0 L1720.0,45.0 L1720.5,45.0 L1721.0,45.0 L1721.5,45.0 L1722.0,45.0 L1722.5,45.0 L1723.0,45.0 L1723.5,45.0 L1723.8,45.0 L1724.0,45.0 L1724.5,45.0 L1725.0,45.0 L1725.5,45.0 L1726.0,45.0 L1726.5,45.0 L1727.0,45.0 L1727.5,45.0 L1727.8,45.0 L1728.0,45.0 L1728.5,45.0 L1729.0,45.0 L1729.5,45.0 L1730.0,45.0 L1730.5,45.0 L1731.0,45.0 L1731.5,45.1 L1731.8,45.1 L1732.0,45.1 L1732.5,45.1 L1733.0,45.1 L1733.5,45.1 L1734.0,45.1 L1734.5,45.1 L1735.0,45.1 L1735.5,45.1 L1735.8,45.1 L1736.0,45.1 L1736.5,45.1 L1737.0,45.1 L1737.5,45.1 L1738.0,45.1 L1738.5,45.1 L1739.0,45.1 L1739.5,45.1 L1739.8,45.2 L1740.0,45.2 L1740.5,45.2 L1741.0,45.2 L1741.5,45.2 L1742.0,45.2 L1742.5,45.2 L1743.0,45.3 L1743.5,45.3 L1743.8,45.3 L1744.0,45.3 L1744.5,45.4 L1745.0,45.4 L1745.5,45.4 L1746.0,45.5 L1746.5,45.6 L1747.0,45.6 L1747.5,45.7 L1747.8,45.8 L1748.0,45.8 L1748.5,45.9 L1749.0,46.1 L1749.5,46.3 L1750.0,46.5 L1750.5,46.7 L1751.0,47.0 L1751.5,47.4 L1751.8,47.7 L1752.0,47.9 L1752.5,48.4 L1753.0,49.1 L1753.5,49.8 L1754.0,50.7 L1754.5,51.6 L1755.0,52.5 L1755.5,53.3 L1755.8,53.6 L1756.0,53.8 L1756.5,54.0 L1757.0,53.8 L1757.5,53.3 L1758.0,52.5 L1758.5,51.6 L1759.0,50.7 L1759.5,49.8 L1759.8,49.4 L1760.0,49.1 L1760.5,48.4 L1761.0,47.9 L1761.5,47.4 L1762.0,47.0 L1762.5,46.7 L1763.0,46.5 L1763.5,46.3 L1763.8,46.2 L1764.0,46.1 L1764.5,45.9 L1765.0,45.8 L1765.5,45.7 L1766.0,45.6 L1766.5,45.6 L1767.0,45.5 L1767.5,45.4 L1767.8,45.4 L1768.0,45.4 L1768.5,45.4 L1769.0,45.3 L1769.5,45.3 L1770.0,45.3 L1770.5,45.2 L1771.0,45.2 L1771.5,45.2 L1771.8,45.2 L1772.0,45.2 L1772.5,45.2 L1773.0,45.2 L1773.5,45.1 L1774.0,45.1 L1774.5,45.1 L1775.0,45.1 L1775.5,45.1 L1775.8,45.1 L1776.0,45.1 L1776.5,45.1 L1777.0,45.1 L1777.5,45.1 L1778.0,45.1 L1778.5,45.1 L1779.0,45.1 L1779.5,45.1 L1779.8,45.1 L1780.0,45.1 L1780.5,45.1 L1781.0,45.1 L1781.5,45.1 L1782.0,45.0 L1782.5,45.0 L1783.0,45.0 L1783.5,45.0 L1783.8,45.0 L1784.0,45.0 L1784.5,45.0 L1785.0,45.0 L1785.5,45.0 L1786.0,45.0 L1786.5,45.0 L1787.0,45.0 L1787.5,45.0 L1787.8,45.0 L1788.0,45.0 L1788.5,45.0 L1789.0,45.0 L1789.5,45.0 L1790.0,45.0 L1790.5,45.0 L1791.0,45.0 L1791.5,45.0 L1791.8,45.0 L1792.0,45.0 L1792.5,45.0 L1793.0,45.0 L1793.5,45.0 L1794.0,45.0 L1794.5,45.0 L1795.0,45.0 L1795.5,45.0 L1795.8,45.0 L1796.0,45.0 L1799.8,45.0 L1803.8,45.0 L1807.8,45.0 L1811.8,45.0 L1815.8,45.0 L1819.8,45.0 L1823.8,45.0 L1827.8,45.0 L1831.8,45.0 L1835.8,45.0 L1839.8,45.0 L1843.8,45.0 L1847.8,45.0 L1851.8,45.0 L1855.8,45.0 L1859.8,45.0 L1863.8,45.0 L1867.8,45.0 L1871.8,45.0 L1875.8,45.0 L1879.8,45.0 L1883.8,45.0 L1887.8,45.0 L1891.8,45.0 L1895.8,45.0 L1899.8,45.0 L1903.8,45.0 L1907.8,45.0 L1911.8,45.0 L1915.8,45.0 L1919.8,45.0 L1923.8,45.0 L1927.8,45.0 L1931.8,45.0 L1935.8,45.0 L1939.8,45.0 L1943.8,45.0 L1947.8,45.0 L1951.8,45.0 L1955.8,45.0 L1959.8,45.0 L1963.8,45.0" stroke="#7c1cf0" stroke-width="3.0" fill="none" stroke-linejoin="round"/>
<path d="M1503.8,45.0 L1507.8,45.0 L1511.8,45.0 L1515.8,45.0 L1519.8,45.0 L1523.8,45.0 L1527.8,45.0 L1531.8,45.0 L1535.8,45.0 L1539.8,45.0 L1543.8,45.0 L1547.8,45.0 L1551.8,45.0 L1555.8,45.0 L1559.8,45.0 L1563.8,45.0 L1567.8,45.0 L1571.8,45.0 L1575.8,45.0 L1579.8,45.0 L1583.8,45.0 L1587.8,45.0 L1591.8,45.0 L1595.8,45.0 L1599.8,45.0 L1603.8,45.0 L1607.8,45.0 L1611.8,45.0 L1615.8,45.0 L1619.8,45.0 L1623.8,45.0 L1627.8,45.0 L1631.8,45.0 L1635.8,45.0 L1639.8,45.0 L1643.8,45.0 L1647.8,45.0 L1651.8,45.0 L1655.8,45.0 L1659.8,45.0 L1663.8,45.0 L1667.8,45.0 L1671.8,45.0 L1675.8,45.0 L1679.8,45.0 L1683.8,45.0 L1687.8,45.0 L1691.8,45.0 L1695.8,45.0 L1699.8,45.0 L1703.8,45.0 L1707.8,45.0 L1708.3,45.0 L1708.8,45.0 L1709.3,45.0 L1709.8,45.0 L1710.3,45.0 L1710.8,45.0 L1711.3,45.0 L1711.8,45.0 L1712.3,45.0 L1712.8,45.0 L1713.3,45.0 L1713.8,45.0 L1714.3,45.0 L1714.8,45.0 L1715.3,45.0 L1715.8,45.0 L1716.3,45.0 L1716.8,45.0 L1717.3,45.0 L1717.8,45.0 L1718.3,45.0 L1718.8,45.0 L1719.3,45.0 L1719.8,45.0 L1720.3,45.0 L1720.8,45.0 L1721.3,45.0 L1721.8,45.0 L1722.3,45.0 L1722.8,45.0 L1723.3,45.1 L1723.8,45.1 L1724.3,45.1 L1724.8,45.1 L1725.3,45.1 L1725.8,45.1 L1726.3,45.1 L1726.8,45.1 L1727.3,45.1 L1727.8,45.1 L1728.3,45.1 L1728.8,45.1 L1729.3,45.1 L1729.8,45.1 L1730.3,45.1 L1730.8,45.1 L1731.3,45.1 L1731.8,45.2 L1732.3,45.2 L1732.8,45.2 L1733.3,45.2 L1733.8,45.2 L1734.3,45.3 L1734.8,45.3 L1735.3,45.3 L1735.8,45.3 L1736.3,45.4 L1736.8,45.4 L1737.3,45.5 L1737.8,45.5 L1738.3,45.6 L1738.8,45.7 L1739.3,45.8 L1739.8,45.9 L1740.3,46.1 L1740.8,46.3 L1741.3,46.5 L1741.8,46.8 L1742.3,47.1 L1742.8,47.5 L1743.3,48.0 L1743.8,48.7 L1744.3,49.5 L1744.8,50.4 L1745.3,51.5 L1745.8,52.8 L1746.3,54.0 L1746.8,55.2 L1747.3,56.0 L1747.8,56.3 L1748.3,56.0 L1748.8,55.2 L1749.3,54.0 L1749.8,52.8 L1750.3,51.5 L1750.8,50.4 L1751.3,49.5 L1751.8,48.7 L1752.3,48.0 L1752.8,47.5 L1753.3,47.1 L1753.8,46.8 L1754.3,46.5 L1754.8,46.3 L1755.3,46.1 L1755.8,45.9 L1756.3,45.8 L1756.8,45.7 L1757.3,45.6 L1757.8,45.5 L1758.3,45.5 L1758.8,45.4 L1759.3,45.4 L1759.8,45.3 L1760.3,45.3 L1760.8,45.3 L1761.3,45.3 L1761.8,45.2 L1762.3,45.2 L1762.8,45.2 L1763.3,45.2 L1763.8,45.2 L1764.3,45.1 L1764.8,45.1 L1765.3,45.1 L1765.8,45.1 L1766.3,45.1 L1766.8,45.1 L1767.3,45.1 L1767.8,45.1 L1768.3,45.1 L1768.8,45.1 L1769.3,45.1 L1769.8,45.1 L1770.3,45.1 L1770.8,45.1 L1771.3,45.1 L1771.8,45.1 L1772.3,45.1 L1772.8,45.0 L1773.3,45.0 L1773.8,45.0 L1774.3,45.0 L1774.8,45.0 L1775.3,45.0 L1775.8,45.0 L1776.3,45.0 L1776.8,45.0 L1777.3,45.0 L1777.8,45.0 L1778.3,45.0 L1778.8,45.0 L1779.3,45.0 L1779.8,45.0 L1780.3,45.0 L1780.8,45.0 L1781.3,45.0 L1781.8,45.0 L1782.3,45.0 L1782.8,45.0 L1783.3,45.0 L1783.8,45.0 L1784.3,45.0 L1784.8,45.0 L1785.3,45.0 L1785.8,45.0 L1786.3,45.0 L1786.8,45.0 L1787.3,45.0 L1787.8,45.0 L1791.8,45.0 L1795.8,45.0 L1799.8,45.0 L1803.8,45.0 L1807.8,45.0 L1811.8,45.0 L1815.8,45.0 L1819.8,45.0 L1823.8,45.0 L1827.8,45.0 L1831.8,45.0 L1835.8,45.0 L1839.8,45.0 L1843.8,45.0 L1847.8,45.0 L1851.8,45.0 L1855.8,45.0 L1859.8,45.0 L1863.8,45.0 L1867.8,45.0 L1871.8,45.0 L1875.8,45.0 L1879.8,45.0 L1883.8,45.0 L1887.8,45.0 L1891.8,45.0 L1895.8,45.0 L1899.8,45.0 L1903.8,45.0 L1907.8,45.0 L1911.8,45.0 L1915.8,45.0 L1919.8,45.0 L1923.8,45.0 L1927.8,45.0 L1931.8,45.0 L1935.8,45.0 L1939.8,45.0 L1943.8,45.0 L1947.8,45.0 L1951.8,45.0 L1955.8,45.0 L1959.8,45.0 L1963.8,45.0" stroke="#1ca01c" stroke-width="3.0" fill="none" stroke-linejoin="round"/>
<path d="M1503.8,45.0 L1507.8,45.0 L1511.8,45.0 L1515.8,45.0 L1519.8,45.0 L1523.8,45.0 L1527.8,45.0 L1531.8,45.0 L1535.8,45.0 L1539.8,45.0 L1543.8,45.0 L1547.8,45.0 L1551.8,45.0 L1555.8,45.0 L1559.8,45.0 L1563.8,45.0 L1567.8,45.0 L1571.8,45.0 L1575.8,45.0 L1579.8,45.0 L1583.8,45.0 L1587.8,45.0 L1591.8,45.0 L1595.8,45.0 L1599.8,45.0 L1603.8,45.0 L1607.8,45.0 L1611.8,45.0 L1615.8,45.0 L1619.8,45.0 L1623.8,45.0 L1627.8,45.0 L1631.8,45.0 L1635.8,45.0 L1639.8,45.0 L1643.8,45.0 L1647.8,45.0 L1651.8,45.0 L1655.8,45.0 L1659.8,45.0 L1663.8,45.0 L1667.8,45.0 L1671.8,45.0 L1675.8,45.0 L1679.8,45.0 L1683.8,45.0 L1687.8,45.0 L1688.4,45.0 L1688.9,45.0 L1689.4,45.0 L1689.9,45.0 L1690.4,45.0 L1690.9,45.0 L1691.4,45.0 L1691.8,45.0 L1691.9,45.0 L1692.4,45.0 L1692.9,45.0 L1693.4,45.0 L1693.9,45.0 L1694.4,45.0 L1694.9,45.0 L1695.4,45.0 L1695.8,45.0 L1695.9,45.0 L1696.4,45.0 L1696.9,45.0 L1697.4,45.0 L1697.9,45.0 L1698.4,45.0 L1698.9,45.0 L1699.4,45.0 L1699.8,45.0 L1699.9,45.0 L1700.4,45.0 L1700.9,45.0 L1701.4,45.0 L1701.9,45.0 L1702.4,45.0 L1702.9,45.0 L1703.4,45.0 L1703.8,45.0 L1703.9,45.0 L1704.4,45.0 L1704.9,45.0 L1705.4,45.0 L1705.9,45.0 L1706.4,45.0 L1706.9,45.0 L1707.4,45.0 L1707.8,45.0 L1707.9,45.0 L1708.4,45.0 L1708.9,45.1 L1709.4,45.1 L1709.9,45.1 L1710.4,45.1 L1710.9,45.1 L1711.4,45.1 L1711.8,45.1 L1711.9,45.1 L1712.4,45.1 L1712.9,45.1 L1713.4,45.1 L1713.9,45.1 L1714.4,45.1 L1714.9,45.1 L1715.4,45.2 L1715.8,45.2 L1715.9,45.2 L1716.4,45.2 L1716.9,45.2 L1717.4,45.2 L1717.9,45.3 L1718.4,45.3 L1718.9,45.4 L1719.4,45.4 L1719.8,45.5 L1719.9,45.5 L1720.4,45.6 L1720.9,45.7 L1721.4,45.8 L1721.9,46.0 L1722.4,46.2 L1722.9,46.5 L1723.4,46.9 L1723.8,47.3 L1723.9,47.4 L1724.4,48.3 L1724.9,49.5 L1725.4,51.3 L1725.9,54.0 L1726.4,58.2 L1726.9,64.0 L1727.4,70.1 L1727.8,72.9 L1727.9,73.0 L1728.4,70.1 L1728.9,64.0 L1729.4,58.2 L1729.9,54.0 L1730.4,51.3 L1730.9,49.5 L1731.4,48.3 L1731.8,47.6 L1731.9,47.4 L1732.4,46.9 L1732.9,46.5 L1733.4,46.2 L1733.9,46.0 L1734.4,45.8 L1734.9,45.7 L1735.4,45.6 L1735.8,45.5 L1735.9,45.5 L1736.4,45.4 L1736.9,45.4 L1737.4,45.3 L1737.9,45.3 L1738.4,45.2 L1738.9,45.2 L1739.4,45.2 L1739.8,45.2 L1739.9,45.2 L1740.4,45.2 L1740.9,45.1 L1741.4,45.1 L1741.9,45.1 L1742.4,45.1 L1742.9,45.1 L1743.4,45.1 L1743.8,45.1 L1743.9,45.1 L1744.4,45.1 L1744.9,45.1 L1745.4,45.1 L1745.9,45.1 L1746.4,45.1 L1746.9,45.1 L1747.4,45.0 L1747.8,45.0 L1747.9,45.0 L1748.4,45.0 L1748.9,45.0 L1749.4,45.0 L1749.9,45.0 L1750.4,45.0 L1750.9,45.0 L1751.4,45.0 L1751.8,45.0 L1751.9,45.0 L1752.4,45.0 L1752.9,45.0 L1753.4,45.0 L1753.9,45.0 L1754.4,45.0 L1754.9,45.0 L1755.4,45.0 L1755.8,45.0 L1755.9,45.0 L1756.4,45.0 L1756.9,45.0 L1757.4,45.0 L1757.9,45.0 L1758.4,45.0 L1758.9,45.0 L1759.4,45.0 L1759.8,45.0 L1759.9,45.0 L1760.4,45.0 L1760.9,45.0 L1761.4,45.0 L1761.9,45.0 L1762.4,45.0 L1762.9,45.0 L1763.4,45.0 L1763.8,45.0 L1763.9,45.0 L1764.4,45.0 L1764.9,45.0 L1765.4,45.0 L1765.9,45.0 L1766.4,45.0 L1766.9,45.0 L1767.4,45.0 L1767.8,45.0 L1771.8,45.0 L1775.8,45.0 L1779.8,45.0 L1783.8,45.0 L1787.8,45.0 L1791.8,45.0 L1795.8,45.0 L1799.8,45.0 L1803.8,45.0 L1807.8,45.0 L1811.8,45.0 L1815.8,45.0 L1819.8,45.0 L1823.8,45.0 L1827.8,45.0 L1831.8,45.0 L1835.8,45.0 L1839.8,45.0 L1843.8,45.0 L1847.8,45.0 L1851.8,45.0 L1855.8,45.0 L1859.8,45.0 L1863.8,45.0 L1867.8,45.0 L1871.8,45.0 L1875.8,45.0 L1879.8,45.0 L1883.8,45.0 L1887.8,45.0 L1891.8,45.0 L1895.8,45.0 L1899.8,45.0 L1903.8,45.0 L1907.8,45.0 L1911.8,45.0 L1915.8,45.0 L1919.8,45.0 L1923.8,45.0 L1927.8,45.0 L1931.8,45.0 L1935.8,45.0 L1939.8,45.0 L1943.8,45.0 L1947.8,45.0 L1951.8,45.0 L1955.8,45.0 L1959.8,45.0 L1963.8,45.0" stroke="#b0481c" stroke-width="3.2" fill="none" stroke-linejoin="round"/>
<path d="M1503.8,45.4 L1507.8,45.4 L1511.8,45.4 L1515.8,45.4 L1519.8,45.4 L1523.8,45.4 L1527.8,45.4 L1531.8,45.4 L1535.8,45.4 L1539.8,45.4 L1543.8,45.4 L1547.8,45.4 L1551.8,45.4 L1555.8,45.4 L1559.8,45.4 L1563.8,45.4 L1567.8,45.4 L1571.8,45.4 L1575.8,45.4 L1579.8,45.4 L1583.8,45.4 L1587.8,45.4 L1591.8,45.4 L1595.8,45.4 L1599.8,45.4 L1603.8,45.4 L1607.8,45.4 L1611.8,45.4 L1615.8,45.4 L1619.8,45.4 L1623.8,45.4 L1627.8,45.4 L1631.8,45.4 L1635.8,45.4 L1639.8,45.4 L1643.8,45.4 L1647.8,45.4 L1651.6,45.4 L1651.8,45.4 L1652.1,45.4 L1652.6,45.4 L1653.1,45.4 L1653.6,45.4 L1654.1,45.4 L1654.6,45.4 L1655.1,45.4 L1655.6,45.4 L1655.8,45.4 L1656.1,45.4 L1656.6,45.4 L1657.1,45.4 L1657.6,45.3 L1658.1,45.3 L1658.6,45.3 L1659.1,45.3 L1659.6,45.3 L1659.8,45.3 L1660.1,45.3 L1660.6,45.3 L1661.1,45.3 L1661.6,45.3 L1662.1,45.3 L1662.6,45.3 L1663.1,45.3 L1663.6,45.3 L1663.8,45.3 L1664.1,45.3 L1664.6,45.3 L1665.1,45.3 L1665.6,45.3 L1666.1,45.3 L1666.6,45.3 L1667.1,45.3 L1667.6,45.3 L1667.8,45.3 L1668.1,45.3 L1668.6,45.3 L1669.1,45.3 L1669.6,45.3 L1670.1,45.3 L1670.6,45.3 L1671.1,45.3 L1671.6,45.2 L1671.8,45.2 L1672.1,45.2 L1672.6,45.2 L1673.1,45.2 L1673.6,45.2 L1674.1,45.2 L1674.6,45.2 L1675.1,45.2 L1675.6,45.2 L1675.8,45.2 L1676.1,45.1 L1676.6,45.1 L1677.1,45.1 L1677.6,45.1 L1678.1,45.1 L1678.6,45.0 L1679.1,45.0 L1679.6,45.0 L1679.8,45.0 L1680.1,44.9 L1680.6,44.9 L1681.1,44.8 L1681.6,44.8 L1682.1,44.7 L1682.6,44.6 L1683.1,44.5 L1683.6,44.4 L1683.8,44.4 L1684.1,44.3 L1684.6,44.1 L1685.1,43.9 L1685.6,43.7 L1686.1,43.3 L1686.6,42.9 L1687.1,42.4 L1687.6,41.6 L1687.8,41.2 L1688.1,40.6 L1688.6,39.1 L1689.1,37.1 L1689.6,34.2 L1690.1,30.6 L1690.6,27.1 L1691.1,25.5 L1691.6,27.1 L1691.8,28.4 L1692.1,30.6 L1692.6,34.2 L1693.1,37.1 L1693.6,39.1 L1694.1,40.6 L1694.6,41.6 L1695.1,42.4 L1695.6,42.9 L1695.8,43.1 L1696.1,43.3 L1696.6,43.7 L1697.1,43.9 L1697.6,44.1 L1698.1,44.3 L1698.6,44.4 L1699.1,44.5 L1699.6,44.6 L1699.8,44.7 L1700.1,44.7 L1700.6,44.8 L1701.1,44.8 L1701.6,44.9 L1702.1,44.9 L1702.6,45.0 L1703.1,45.0 L1703.6,45.0 L1703.8,45.0 L1704.1,45.1 L1704.6,45.1 L1705.1,45.1 L1705.6,45.1 L1706.1,45.1 L1706.6,45.2 L1707.1,45.2 L1707.6,45.2 L1707.8,45.2 L1708.1,45.2 L1708.6,45.2 L1709.1,45.2 L1709.6,45.2 L1710.1,45.2 L1710.6,45.2 L1711.1,45.3 L1711.6,45.3 L1711.8,45.3 L1712.1,45.3 L1712.6,45.3 L1713.1,45.3 L1713.6,45.3 L1714.1,45.3 L1714.6,45.3 L1715.1,45.3 L1715.6,45.3 L1715.8,45.3 L1716.1,45.3 L1716.6,45.3 L1717.1,45.3 L1717.6,45.3 L1718.1,45.3 L1718.6,45.3 L1719.1,45.3 L1719.6,45.3 L1719.8,45.3 L1720.1,45.3 L1720.6,45.3 L1721.1,45.3 L1721.6,45.3 L1722.1,45.3 L1722.6,45.3 L1723.1,45.3 L1723.6,45.3 L1723.8,45.3 L1724.1,45.3 L1724.6,45.3 L1725.1,45.4 L1725.6,45.4 L1726.1,45.4 L1726.6,45.4 L1727.1,45.4 L1727.6,45.4 L1727.8,45.4 L1728.1,45.4 L1728.6,45.4 L1729.1,45.4 L1729.6,45.4 L1730.1,45.4 L1730.6,45.4 L1731.8,45.4 L1735.8,45.4 L1739.8,45.4 L1743.8,45.4 L1747.8,45.4 L1751.8,45.4 L1755.8,45.4 L1759.8,45.4 L1763.8,45.4 L1767.8,45.4 L1771.8,45.4 L1775.8,45.4 L1779.8,45.4 L1783.8,45.4 L1787.8,45.4 L1791.8,45.4 L1795.8,45.4 L1799.8,45.4 L1803.8,45.4 L1807.8,45.4 L1811.8,45.4 L1815.8,45.4 L1819.8,45.4 L1823.8,45.4 L1827.8,45.4 L1831.8,45.4 L1835.8,45.4 L1839.8,45.4 L1843.8,45.4 L1847.8,45.4 L1851.8,45.4 L1855.8,45.4 L1859.8,45.4 L1863.8,45.4 L1867.8,45.4 L1871.8,45.4 L1875.8,45.4 L1879.8,45.4 L1883.8,45.4 L1887.8,45.4 L1891.8,45.4 L1895.8,45.4 L1899.8,45.4 L1903.8,45.4 L1907.8,45.4 L1911.8,45.4 L1915.8,45.4 L1919.8,45.4 L1923.8,45.4 L1927.8,45.4 L1931.8,45.4 L1935.8,45.4 L1939.8,45.4 L1943.8,45.4 L1947.8,45.4 L1951.8,45.4 L1955.8,45.4 L1959.8,45.4 L1963.8,45.4" stroke="#a8c81c" stroke-width="2.8" fill="none" stroke-linejoin="round"/>
<path d="M1503.8,45.0 L1507.8,45.0 L1511.8,45.0 L1515.8,45.0 L1519.8,45.0 L1523.8,45.0 L1527.8,45.0 L1531.8,45.0 L1535.8,45.0 L1539.8,45.0 L1543.8,45.0 L1547.8,45.0 L1551.8,45.0 L1555.8,45.0 L1559.8,45.0 L1563.8,45.0 L1567.8,45.0 L1571.8,45.0 L1575.8,45.0 L1579.8,45.0 L1583.8,45.0 L1587.8,45.0 L1591.8,45.0 L1595.8,45.0 L1599.8,45.0 L1603.8,45.0 L1607.8,45.0 L1611.8,44.9 L1615.8,44.9 L1619.8,44.9 L1623.8,44.9 L1627.8,44.9 L1631.8,44.9 L1632.3,44.9 L1632.8,44.9 L1633.3,44.9 L1633.8,44.9 L1634.3,44.9 L1634.8,44.9 L1635.3,44.9 L1635.8,44.9 L1636.3,44.9 L1636.8,44.9 L1637.3,44.8 L1637.8,44.8 L1638.3,44.8 L1638.8,44.8 L1639.3,44.8 L1639.8,44.8 L1640.3,44.8 L1640.8,44.8 L1641.3,44.8 L1641.8,44.8 L1642.3,44.8 L1642.8,44.8 L1643.3,44.8 L1643.8,44.8 L1644.3,44.8 L1644.8,44.8 L1645.3,44.7 L1645.8,44.7 L1646.3,44.7 L1646.8,44.7 L1647.3,44.7 L1647.8,44.7 L1648.3,44.7 L1648.8,44.7 L1649.3,44.7 L1649.8,44.6 L1650.3,44.6 L1650.8,44.6 L1651.3,44.6 L1651.8,44.6 L1652.3,44.5 L1652.8,44.5 L1653.3,44.5 L1653.8,44.5 L1654.3,44.4 L1654.8,44.4 L1655.3,44.4 L1655.8,44.3 L1656.3,44.3 L1656.8,44.3 L1657.3,44.2 L1657.8,44.2 L1658.3,44.1 L1658.8,44.0 L1659.3,44.0 L1659.8,43.9 L1660.3,43.8 L1660.8,43.7 L1661.3,43.6 L1661.8,43.5 L1662.3,43.4 L1662.8,43.2 L1663.3,43.0 L1663.8,42.8 L1664.3,42.6 L1664.8,42.4 L1665.3,42.1 L1665.8,41.8 L1666.3,41.4 L1666.8,41.0 L1667.3,40.5 L1667.8,40.0 L1668.3,39.4 L1668.8,38.8 L1669.3,38.1 L1669.8,37.5 L1670.3,36.9 L1670.8,36.4 L1671.3,36.1 L1671.8,36.0 L1672.3,36.1 L1672.8,36.4 L1673.3,36.9 L1673.8,37.5 L1674.3,38.1 L1674.8,38.8 L1675.3,39.4 L1675.8,40.0 L1676.3,40.5 L1676.8,41.0 L1677.3,41.4 L1677.8,41.8 L1678.3,42.1 L1678.8,42.4 L1679.3,42.6 L1679.8,42.8 L1680.3,43.0 L1680.8,43.2 L1681.3,43.4 L1681.8,43.5 L1682.3,43.6 L1682.8,43.7 L1683.3,43.8 L1683.8,43.9 L1684.3,44.0 L1684.8,44.0 L1685.3,44.1 L1685.8,44.2 L1686.3,44.2 L1686.8,44.3 L1687.3,44.3 L1687.8,44.3 L1688.3,44.4 L1688.8,44.4 L1689.3,44.4 L1689.8,44.5 L1690.3,44.5 L1690.8,44.5 L1691.3,44.5 L1691.8,44.6 L1692.3,44.6 L1692.8,44.6 L1693.3,44.6 L1693.8,44.6 L1694.3,44.7 L1694.8,44.7 L1695.3,44.7 L1695.8,44.7 L1696.3,44.7 L1696.8,44.7 L1697.3,44.7 L1697.8,44.7 L1698.3,44.7 L1698.8,44.8 L1699.3,44.8 L1699.8,44.8 L1700.3,44.8 L1700.8,44.8 L1701.3,44.8 L1701.8,44.8 L1702.3,44.8 L1702.8,44.8 L1703.3,44.8 L1703.8,44.8 L1704.3,44.8 L1704.8,44.8 L1705.3,44.8 L1705.8,44.8 L1706.3,44.8 L1706.8,44.9 L1707.3,44.9 L1707.8,44.9 L1708.3,44.9 L1708.8,44.9 L1709.3,44.9 L1709.8,44.9 L1710.3,44.9 L1710.8,44.9 L1711.3,44.9 L1711.8,44.9 L1715.8,44.9 L1719.8,44.9 L1723.8,44.9 L1727.8,44.9 L1731.8,44.9 L1735.8,45.0 L1739.8,45.0 L1743.8,45.0 L1747.8,45.0 L1751.8,45.0 L1755.8,45.0 L1759.8,45.0 L1763.8,45.0 L1767.8,45.0 L1771.8,45.0 L1775.8,45.0 L1779.8,45.0 L1783.8,45.0 L1787.8,45.0 L1791.8,45.0 L1795.8,45.0 L1799.8,45.0 L1803.8,45.0 L1807.8,45.0 L1811.8,45.0 L1815.8,45.0 L1819.8,45.0 L1823.8,45.0 L1827.8,45.0 L1831.8,45.0 L1835.8,45.0 L1839.8,45.0 L1843.8,45.0 L1847.8,45.0 L1851.8,45.0 L1855.8,45.0 L1859.8,45.0 L1863.8,45.0 L1867.8,45.0 L1871.8,45.0 L1875.8,45.0 L1879.8,45.0 L1883.8,45.0 L1887.8,45.0 L1891.8,45.0 L1895.8,45.0 L1899.8,45.0 L1903.8,45.0 L1907.8,45.0 L1911.8,45.0 L1915.8,45.0 L1919.8,45.0 L1923.8,45.0 L1927.8,45.0 L1931.8,45.0 L1935.8,45.0 L1939.8,45.0 L1943.8,45.0 L1947.8,45.0 L1951.8,45.0 L1955.8,45.0 L1959.8,45.0 L1963.8,45.0" stroke="#1c10b4" stroke-width="3.3" fill="none" stroke-linejoin="round"/>
</g>
<text x="1616.3" y="266.2" font-size="31.5" text-anchor="start" fill="#000" ><tspan font-style="italic">ω</tspan><tspan dy="10.5" font-size="17.5">CPA</tspan><tspan dy="-10.5" font-size="1">&#8203;</tspan></text>
<line x1="1641.40" y1="280.50" x2="1697.46" y2="312.49" stroke="#2e3192" stroke-width="2.8" />
<path d="M1710.8,320.1 L1690.1,317.6 L1697.5,312.5 L1698.1,303.5 Z" fill="#2e3192"/>
</svg>
</body></html>
